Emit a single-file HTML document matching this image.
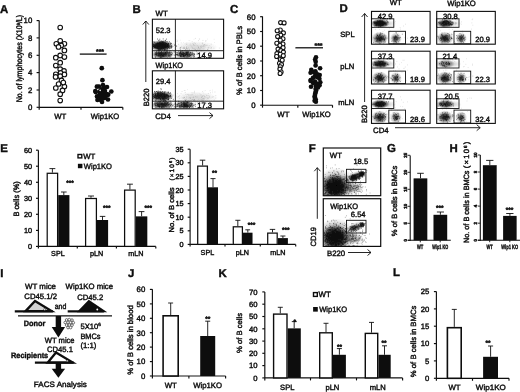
<!DOCTYPE html>
<html><head><meta charset="utf-8"><title>Figure</title>
<style>html,body{margin:0;padding:0;background:#fff}svg{display:block}text{font-family:"Liberation Sans",Arial,sans-serif;fill:#111;stroke:#111;stroke-width:.42px;text-rendering:geometricPrecision}</style></head>
<body><svg width="520" height="392" viewBox="0 0 520 392">
<defs><filter id="soft" x="0" y="0" width="100%" height="100%" filterUnits="userSpaceOnUse"><feGaussianBlur stdDeviation="0.32"/></filter><filter id="bl" x="-5%" y="-5%" width="110%" height="110%"><feGaussianBlur stdDeviation="0.45"/></filter><radialGradient id="h"><stop offset="0" stop-color="#0a0a0a" stop-opacity="1"/><stop offset="0.5" stop-color="#111" stop-opacity="0.92"/><stop offset="0.78" stop-color="#333" stop-opacity="0.45"/><stop offset="1" stop-color="#555" stop-opacity="0"/></radialGradient><radialGradient id="g"><stop offset="0" stop-color="#111" stop-opacity="0.95"/><stop offset="0.45" stop-color="#222" stop-opacity="0.7"/><stop offset="1" stop-color="#444" stop-opacity="0"/></radialGradient></defs>
<rect width="520" height="392" fill="#fff"/>
<g filter="url(#soft)">
<text x="0.1" y="12.5" font-size="11.4" text-anchor="start" font-weight="bold" fill="#000">A</text>
<text x="132.4" y="12.5" font-size="11.4" text-anchor="start" font-weight="bold" fill="#000">B</text>
<text x="230.0" y="12.6" font-size="11.4" text-anchor="start" font-weight="bold" fill="#000">C</text>
<text x="339.6" y="12.2" font-size="11.4" text-anchor="start" font-weight="bold" fill="#000">D</text>
<text x="0.2" y="151.5" font-size="11.4" text-anchor="start" font-weight="bold" fill="#000">E</text>
<text x="308.8" y="151.6" font-size="11.4" text-anchor="start" font-weight="bold" fill="#000">F</text>
<text x="386.9" y="151.7" font-size="11.4" text-anchor="start" font-weight="bold" fill="#000">G</text>
<text x="449.4" y="151.7" font-size="11.4" text-anchor="start" font-weight="bold" fill="#000">H</text>
<text x="0.2" y="276.5" font-size="11.4" text-anchor="start" font-weight="bold" fill="#000">I</text>
<text x="128.1" y="276.9" font-size="11.4" text-anchor="start" font-weight="bold" fill="#000">J</text>
<text x="218.6" y="276.9" font-size="11.4" text-anchor="start" font-weight="bold" fill="#000">K</text>
<text x="393.0" y="276.4" font-size="11.4" text-anchor="start" font-weight="bold" fill="#000">L</text>
<path d="M39.2 20.6L39.2 107.3" stroke="#111" stroke-width="1.15" fill="none"/>
<path d="M36.6 107.3L39.2 107.3" stroke="#111" stroke-width="1.15" fill="none"/>
<text x="32.3" y="110.1" font-size="7.8" text-anchor="end">0</text>
<path d="M36.6 90.0L39.2 90.0" stroke="#111" stroke-width="1.15" fill="none"/>
<text x="32.3" y="92.8" font-size="7.8" text-anchor="end">2</text>
<path d="M36.6 72.6L39.2 72.6" stroke="#111" stroke-width="1.15" fill="none"/>
<text x="32.3" y="75.4" font-size="7.8" text-anchor="end">4</text>
<path d="M36.6 55.3L39.2 55.3" stroke="#111" stroke-width="1.15" fill="none"/>
<text x="32.3" y="58.1" font-size="7.8" text-anchor="end">6</text>
<path d="M36.6 37.9L39.2 37.9" stroke="#111" stroke-width="1.15" fill="none"/>
<text x="32.3" y="40.7" font-size="7.8" text-anchor="end">8</text>
<path d="M36.6 20.6L39.2 20.6" stroke="#111" stroke-width="1.15" fill="none"/>
<text x="32.3" y="23.4" font-size="7.8" text-anchor="end">10</text>
<path d="M39.2 107.3L122.8 107.3" stroke="#111" stroke-width="1.15" fill="none"/>
<path d="M39.2 107.3L39.2 109.8" stroke="#111" stroke-width="1.15" fill="none"/>
<path d="M81.0 107.3L81.0 109.8" stroke="#111" stroke-width="1.15" fill="none"/>
<path d="M122.8 107.3L122.8 109.8" stroke="#111" stroke-width="1.15" fill="none"/>
<text x="22.4" y="58.6" font-size="8.2" text-anchor="middle" transform="rotate(-90 22.4 58.6)" textLength="87.5" lengthAdjust="spacingAndGlyphs">No. of lymphocytes (X10<tspan font-size="4.6" dy="-2.6">9</tspan><tspan dy="2.6">/L)</tspan></text>
<text x="60.2" y="118.5" font-size="7.8" text-anchor="middle">WT</text>
<text x="105.0" y="118.5" font-size="7.8" text-anchor="middle" textLength="28.4" lengthAdjust="spacingAndGlyphs">Wip1KO</text>
<path d="M79.8 54.1L106.6 54.1" stroke="#111" stroke-width="1.3" fill="none"/>
<text x="100.0" y="53.9" font-size="7" text-anchor="middle" font-weight="bold">***</text>
<circle cx="60.2" cy="27.5" r="2.3" fill="#fff" stroke="#111" stroke-width="1.1"/>
<circle cx="60.2" cy="40.8" r="2.3" fill="#fff" stroke="#111" stroke-width="1.1"/>
<circle cx="56.3" cy="43.8" r="2.3" fill="#fff" stroke="#111" stroke-width="1.1"/>
<circle cx="64.4" cy="43.8" r="2.3" fill="#fff" stroke="#111" stroke-width="1.1"/>
<circle cx="61.2" cy="45.4" r="2.3" fill="#fff" stroke="#111" stroke-width="1.1"/>
<circle cx="58.5" cy="46.9" r="2.3" fill="#fff" stroke="#111" stroke-width="1.1"/>
<circle cx="64.4" cy="50.4" r="2.3" fill="#fff" stroke="#111" stroke-width="1.1"/>
<circle cx="60.2" cy="55.4" r="2.3" fill="#fff" stroke="#111" stroke-width="1.1"/>
<circle cx="55.8" cy="57.7" r="2.3" fill="#fff" stroke="#111" stroke-width="1.1"/>
<circle cx="64.4" cy="57.1" r="2.3" fill="#fff" stroke="#111" stroke-width="1.1"/>
<circle cx="60.2" cy="62.7" r="2.3" fill="#fff" stroke="#111" stroke-width="1.1"/>
<circle cx="55.8" cy="65.6" r="2.3" fill="#fff" stroke="#111" stroke-width="1.1"/>
<circle cx="60.2" cy="69.2" r="2.3" fill="#fff" stroke="#111" stroke-width="1.1"/>
<circle cx="64.0" cy="70.9" r="2.3" fill="#fff" stroke="#111" stroke-width="1.1"/>
<circle cx="60.6" cy="72.9" r="2.3" fill="#fff" stroke="#111" stroke-width="1.1"/>
<circle cx="55.8" cy="74.3" r="2.3" fill="#fff" stroke="#111" stroke-width="1.1"/>
<circle cx="64.4" cy="74.4" r="2.3" fill="#fff" stroke="#111" stroke-width="1.1"/>
<circle cx="60.2" cy="76.2" r="2.3" fill="#fff" stroke="#111" stroke-width="1.1"/>
<circle cx="55.6" cy="76.9" r="2.3" fill="#fff" stroke="#111" stroke-width="1.1"/>
<circle cx="61.5" cy="80.4" r="2.3" fill="#fff" stroke="#111" stroke-width="1.1"/>
<circle cx="64.4" cy="86.5" r="2.3" fill="#fff" stroke="#111" stroke-width="1.1"/>
<circle cx="55.8" cy="88" r="2.3" fill="#fff" stroke="#111" stroke-width="1.1"/>
<circle cx="62.5" cy="90.4" r="2.3" fill="#fff" stroke="#111" stroke-width="1.1"/>
<circle cx="60.2" cy="94.2" r="2.3" fill="#fff" stroke="#111" stroke-width="1.1"/>
<circle cx="60.2" cy="100.6" r="2.3" fill="#fff" stroke="#111" stroke-width="1.1"/>
<circle cx="58.6" cy="84.0" r="2.3" fill="#fff" stroke="#111" stroke-width="1.1"/>
<circle cx="63.3" cy="82.6" r="2.3" fill="#fff" stroke="#111" stroke-width="1.1"/>
<circle cx="101.8" cy="68.2" r="2.35" fill="#0a0a0a"/>
<circle cx="102.4" cy="80.2" r="2.35" fill="#0a0a0a"/>
<circle cx="102.1" cy="95.2" r="2.35" fill="#0a0a0a"/>
<circle cx="102.2" cy="92.1" r="2.35" fill="#0a0a0a"/>
<circle cx="99.7" cy="92.5" r="2.35" fill="#0a0a0a"/>
<circle cx="107.0" cy="94.9" r="2.35" fill="#0a0a0a"/>
<circle cx="106.7" cy="94.2" r="2.35" fill="#0a0a0a"/>
<circle cx="104.4" cy="94.0" r="2.35" fill="#0a0a0a"/>
<circle cx="97.0" cy="96.5" r="2.35" fill="#0a0a0a"/>
<circle cx="104.8" cy="95.2" r="2.35" fill="#0a0a0a"/>
<circle cx="96.9" cy="86.7" r="2.35" fill="#0a0a0a"/>
<circle cx="99.8" cy="91.5" r="2.35" fill="#0a0a0a"/>
<circle cx="104.1" cy="93.1" r="2.35" fill="#0a0a0a"/>
<circle cx="104.9" cy="90.9" r="2.35" fill="#0a0a0a"/>
<circle cx="104.1" cy="94.8" r="2.35" fill="#0a0a0a"/>
<circle cx="100.6" cy="99.8" r="2.35" fill="#0a0a0a"/>
<circle cx="105.0" cy="97.8" r="2.35" fill="#0a0a0a"/>
<circle cx="100.8" cy="90.5" r="2.35" fill="#0a0a0a"/>
<circle cx="101.8" cy="92.9" r="2.35" fill="#0a0a0a"/>
<circle cx="105.3" cy="94.2" r="2.35" fill="#0a0a0a"/>
<circle cx="101.4" cy="89.7" r="2.35" fill="#0a0a0a"/>
<circle cx="101.1" cy="97.9" r="2.35" fill="#0a0a0a"/>
<circle cx="100.1" cy="94.2" r="2.35" fill="#0a0a0a"/>
<circle cx="104.5" cy="87.6" r="2.35" fill="#0a0a0a"/>
<circle cx="103.2" cy="98.3" r="2.35" fill="#0a0a0a"/>
<circle cx="95.7" cy="92.1" r="2.35" fill="#0a0a0a"/>
<circle cx="102.6" cy="90.2" r="2.35" fill="#0a0a0a"/>
<circle cx="104.8" cy="93.1" r="2.35" fill="#0a0a0a"/>
<circle cx="97.7" cy="96.4" r="2.35" fill="#0a0a0a"/>
<circle cx="105.4" cy="96.9" r="2.35" fill="#0a0a0a"/>
<circle cx="108.2" cy="94.7" r="2.35" fill="#0a0a0a"/>
<circle cx="103.4" cy="88.4" r="2.35" fill="#0a0a0a"/>
<circle cx="95.3" cy="91.0" r="2.35" fill="#0a0a0a"/>
<circle cx="111.3" cy="91.5" r="2.35" fill="#0a0a0a"/>
<circle cx="97.5" cy="100.0" r="2.35" fill="#0a0a0a"/>
<circle cx="102.0" cy="102.0" r="2.35" fill="#0a0a0a"/>
<circle cx="108.0" cy="99.5" r="2.35" fill="#0a0a0a"/>
<circle cx="99.0" cy="86.5" r="2.35" fill="#0a0a0a"/>
<circle cx="107.0" cy="87.0" r="2.35" fill="#0a0a0a"/>
<circle cx="103.0" cy="85.0" r="2.35" fill="#0a0a0a"/>
<circle cx="100.2" cy="90.3" r="0.9" fill="#ddd"/>
<path d="M262.5 16.4L262.5 105.2" stroke="#111" stroke-width="1.15" fill="none"/>
<path d="M260.1 105.2L262.5 105.2" stroke="#111" stroke-width="1.15" fill="none"/>
<text x="255.5" y="108.0" font-size="7.8" text-anchor="end">0</text>
<path d="M260.1 90.5L262.5 90.5" stroke="#111" stroke-width="1.15" fill="none"/>
<text x="255.5" y="93.3" font-size="7.8" text-anchor="end">10</text>
<path d="M260.1 75.7L262.5 75.7" stroke="#111" stroke-width="1.15" fill="none"/>
<text x="255.5" y="78.5" font-size="7.8" text-anchor="end">20</text>
<path d="M260.1 61.0L262.5 61.0" stroke="#111" stroke-width="1.15" fill="none"/>
<text x="255.5" y="63.8" font-size="7.8" text-anchor="end">30</text>
<path d="M260.1 46.2L262.5 46.2" stroke="#111" stroke-width="1.15" fill="none"/>
<text x="255.5" y="49.0" font-size="7.8" text-anchor="end">40</text>
<path d="M260.1 31.5L262.5 31.5" stroke="#111" stroke-width="1.15" fill="none"/>
<text x="255.5" y="34.3" font-size="7.8" text-anchor="end">50</text>
<path d="M260.1 16.7L262.5 16.7" stroke="#111" stroke-width="1.15" fill="none"/>
<text x="255.5" y="19.5" font-size="7.8" text-anchor="end">60</text>
<path d="M262.5 105.2L332.5 105.2" stroke="#111" stroke-width="1.15" fill="none"/>
<path d="M262.5 105.2L262.5 107.7" stroke="#111" stroke-width="1.15" fill="none"/>
<path d="M297.8 105.2L297.8 107.7" stroke="#111" stroke-width="1.15" fill="none"/>
<path d="M332.5 105.2L332.5 107.7" stroke="#111" stroke-width="1.15" fill="none"/>
<text x="242.3" y="60.5" font-size="7.8" text-anchor="middle" transform="rotate(-90 242.3 60.5)" textLength="69.0" lengthAdjust="spacingAndGlyphs">% of B cells in PBLs</text>
<text x="283.4" y="117.3" font-size="7.8" text-anchor="middle">WT</text>
<text x="316.5" y="117.3" font-size="7.8" text-anchor="middle" textLength="28.3" lengthAdjust="spacingAndGlyphs">Wip1KO</text>
<path d="M295.4 47.8L323.0 47.8" stroke="#111" stroke-width="1.3" fill="none"/>
<text x="318.5" y="47.8" font-size="7" text-anchor="middle" font-weight="bold">***</text>
<circle cx="280.6" cy="22.6" r="2.0" fill="#fff" stroke="#111" stroke-width="1.1"/>
<circle cx="284.1" cy="22.9" r="2.0" fill="#fff" stroke="#111" stroke-width="1.1"/>
<circle cx="280.3" cy="30.0" r="2.0" fill="#fff" stroke="#111" stroke-width="1.1"/>
<circle cx="277.2" cy="30.7" r="2.0" fill="#fff" stroke="#111" stroke-width="1.1"/>
<circle cx="283.4" cy="32.9" r="2.0" fill="#fff" stroke="#111" stroke-width="1.1"/>
<circle cx="280.7" cy="35.1" r="2.0" fill="#fff" stroke="#111" stroke-width="1.1"/>
<circle cx="277.6" cy="36.6" r="2.0" fill="#fff" stroke="#111" stroke-width="1.1"/>
<circle cx="283.0" cy="38.8" r="2.0" fill="#fff" stroke="#111" stroke-width="1.1"/>
<circle cx="280.3" cy="40.3" r="2.0" fill="#fff" stroke="#111" stroke-width="1.1"/>
<circle cx="276.8" cy="43.2" r="2.0" fill="#fff" stroke="#111" stroke-width="1.1"/>
<circle cx="283.0" cy="44.0" r="2.0" fill="#fff" stroke="#111" stroke-width="1.1"/>
<circle cx="279.9" cy="45.5" r="2.0" fill="#fff" stroke="#111" stroke-width="1.1"/>
<circle cx="283.1" cy="47.7" r="2.0" fill="#fff" stroke="#111" stroke-width="1.1"/>
<circle cx="278.0" cy="49.1" r="2.0" fill="#fff" stroke="#111" stroke-width="1.1"/>
<circle cx="280.8" cy="50.6" r="2.0" fill="#fff" stroke="#111" stroke-width="1.1"/>
<circle cx="283.4" cy="52.1" r="2.0" fill="#fff" stroke="#111" stroke-width="1.1"/>
<circle cx="276.9" cy="53.6" r="2.0" fill="#fff" stroke="#111" stroke-width="1.1"/>
<circle cx="280.3" cy="54.3" r="2.0" fill="#fff" stroke="#111" stroke-width="1.1"/>
<circle cx="283.3" cy="55.8" r="2.0" fill="#fff" stroke="#111" stroke-width="1.1"/>
<circle cx="276.6" cy="56.5" r="2.0" fill="#fff" stroke="#111" stroke-width="1.1"/>
<circle cx="280.3" cy="59.5" r="2.0" fill="#fff" stroke="#111" stroke-width="1.1"/>
<circle cx="282.2" cy="60.2" r="2.0" fill="#fff" stroke="#111" stroke-width="1.1"/>
<circle cx="279.5" cy="63.2" r="2.0" fill="#fff" stroke="#111" stroke-width="1.1"/>
<circle cx="281.5" cy="64.6" r="2.0" fill="#fff" stroke="#111" stroke-width="1.1"/>
<circle cx="280.3" cy="66.8" r="2.0" fill="#fff" stroke="#111" stroke-width="1.1"/>
<circle cx="279.9" cy="69.1" r="2.0" fill="#fff" stroke="#111" stroke-width="1.1"/>
<circle cx="281.1" cy="72.0" r="2.0" fill="#fff" stroke="#111" stroke-width="1.1"/>
<circle cx="280.1" cy="73.5" r="2.0" fill="#fff" stroke="#111" stroke-width="1.1"/>
<circle cx="316.0" cy="57.3" r="2.3" fill="#0a0a0a"/>
<circle cx="315.1" cy="59.5" r="2.3" fill="#0a0a0a"/>
<circle cx="315.7" cy="61.7" r="2.3" fill="#0a0a0a"/>
<circle cx="315.6" cy="65.4" r="2.3" fill="#0a0a0a"/>
<circle cx="320.1" cy="68.3" r="2.3" fill="#0a0a0a"/>
<circle cx="311.3" cy="69.8" r="2.3" fill="#0a0a0a"/>
<circle cx="315.4" cy="71.3" r="2.3" fill="#0a0a0a"/>
<circle cx="310.6" cy="72.8" r="2.3" fill="#0a0a0a"/>
<circle cx="315.5" cy="73.5" r="2.3" fill="#0a0a0a"/>
<circle cx="317.4" cy="74.2" r="2.3" fill="#0a0a0a"/>
<circle cx="318.0" cy="75.7" r="2.3" fill="#0a0a0a"/>
<circle cx="314.9" cy="76.4" r="2.3" fill="#0a0a0a"/>
<circle cx="317.5" cy="77.2" r="2.3" fill="#0a0a0a"/>
<circle cx="319.4" cy="78.7" r="2.3" fill="#0a0a0a"/>
<circle cx="310.7" cy="80.1" r="2.3" fill="#0a0a0a"/>
<circle cx="315.0" cy="81.6" r="2.3" fill="#0a0a0a"/>
<circle cx="313.1" cy="83.1" r="2.3" fill="#0a0a0a"/>
<circle cx="317.2" cy="83.8" r="2.3" fill="#0a0a0a"/>
<circle cx="317.5" cy="84.5" r="2.3" fill="#0a0a0a"/>
<circle cx="315.8" cy="86.0" r="2.3" fill="#0a0a0a"/>
<circle cx="318.0" cy="87.5" r="2.3" fill="#0a0a0a"/>
<circle cx="315.6" cy="89.0" r="2.3" fill="#0a0a0a"/>
<circle cx="316.2" cy="90.5" r="2.3" fill="#0a0a0a"/>
<circle cx="315.7" cy="91.9" r="2.3" fill="#0a0a0a"/>
<circle cx="315.2" cy="93.4" r="2.3" fill="#0a0a0a"/>
<circle cx="315.0" cy="94.9" r="2.3" fill="#0a0a0a"/>
<circle cx="314.7" cy="96.3" r="2.3" fill="#0a0a0a"/>
<circle cx="314.8" cy="97.8" r="2.3" fill="#0a0a0a"/>
<circle cx="315.7" cy="99.3" r="2.3" fill="#0a0a0a"/>
<circle cx="314.6" cy="100.8" r="2.3" fill="#0a0a0a"/>
<circle cx="315.9" cy="101.8" r="2.3" fill="#0a0a0a"/>
<circle cx="313.0" cy="77.9" r="2.3" fill="#0a0a0a"/>
<circle cx="310.6" cy="80.9" r="2.3" fill="#0a0a0a"/>
<circle cx="319.7" cy="75.0" r="2.3" fill="#0a0a0a"/>
<circle cx="319.6" cy="85.3" r="2.3" fill="#0a0a0a"/>
<circle cx="313.4" cy="72.0" r="2.3" fill="#0a0a0a"/>
<circle cx="320.3" cy="82.3" r="2.3" fill="#0a0a0a"/>
<circle cx="311.0" cy="86.8" r="2.3" fill="#0a0a0a"/>
<clipPath id="c1"><rect x="152.4" y="19.2" width="71.2" height="39.1"/></clipPath><g clip-path="url(#c1)"><g filter="url(#bl)">
<ellipse cx="161.3" cy="45.7" rx="12.5" ry="5.8" fill="url(#h)" opacity="1.0"/>
<ellipse cx="162.5" cy="54.5" rx="12.0" ry="4.2" fill="url(#h)" opacity="0.72"/>
<ellipse cx="185.0" cy="54.5" rx="11.0" ry="4.2" fill="url(#h)" opacity="0.66"/>
<ellipse cx="196.0" cy="47.2" rx="22.0" ry="6.0" fill="url(#g)" opacity="0.16"/>
<path d="M169.0 41.8h.7M158.7 43.1h.7M157.5 46.8h.7M156.6 45.7h.7M166.0 51.2h.7M159.1 45.9h.7M159.5 44.9h.7M156.0 44.4h.7M167.2 44.6h.7M164.0 46.1h.7M156.6 47.6h.7M167.2 44.7h.7M159.0 45.7h.7M157.3 45.7h.7M165.9 48.2h.7M160.9 43.1h.7M159.2 43.1h.7M164.3 50.5h.7M156.7 48.0h.7M167.8 43.7h.7M159.2 48.4h.7M168.7 47.7h.7M159.2 46.7h.7M155.9 44.9h.7M157.1 43.3h.7M163.1 42.1h.7M162.3 47.0h.7M154.5 47.7h.7M162.9 47.8h.7M159.5 39.2h.7M162.5 43.2h.7M163.4 48.2h.7M156.5 48.7h.7M160.5 43.6h.7M163.1 45.4h.7M165.4 46.9h.7M158.4 47.6h.7M167.5 45.2h.7M171.3 45.6h.7M157.5 48.0h.7M162.4 44.6h.7M155.7 47.6h.7M164.2 49.7h.7M155.2 46.7h.7M170.7 48.1h.7M160.3 43.2h.7M161.1 44.6h.7M169.1 51.1h.7M167.3 46.0h.7M154.6 46.2h.7M156.5 43.7h.7M164.4 47.7h.7M169.4 46.0h.7M160.9 44.5h.7M161.2 44.3h.7M164.2 45.4h.7M162.0 45.1h.7M162.5 47.9h.7M161.6 43.6h.7M168.2 46.8h.7M166.6 43.6h.7M163.4 43.2h.7M165.6 41.7h.7M163.0 46.4h.7M162.2 42.7h.7M161.6 44.3h.7M165.2 47.8h.7M162.4 46.0h.7M158.9 43.1h.7M153.3 45.9h.7M162.4 45.0h.7M161.7 46.1h.7M165.3 46.8h.7M170.8 46.3h.7M165.0 46.2h.7M167.4 45.0h.7M162.4 47.1h.7M157.7 45.4h.7M170.6 43.4h.7M163.6 44.6h.7M156.7 46.2h.7M158.1 46.6h.7M158.9 43.5h.7M162.1 47.2h.7M166.9 48.0h.7M167.3 44.4h.7M158.9 46.7h.7M164.6 47.3h.7M161.2 44.6h.7M163.3 44.7h.7M159.6 44.2h.7M157.2 39.0h.7M157.2 46.7h.7M159.9 46.2h.7M158.4 46.9h.7M154.3 46.3h.7M157.0 47.2h.7M157.9 50.6h.7M169.0 48.6h.7M162.5 49.8h.7M164.4 46.3h.7M163.6 44.8h.7M161.5 41.6h.7M165.2 42.9h.7M165.6 44.8h.7M155.8 44.9h.7M157.1 45.6h.7M159.7 49.2h.7M165.2 49.6h.7M161.1 45.9h.7M164.2 46.4h.7M158.7 44.6h.7M161.0 46.6h.7M176.0 46.0h.7M160.2 45.1h.7M158.5 40.7h.7M164.7 45.2h.7M165.7 49.9h.7M157.3 43.6h.7M162.6 47.7h.7M159.5 44.0h.7M166.1 39.1h.7M162.1 45.6h.7M157.8 45.4h.7M154.8 46.5h.7M157.3 43.0h.7M165.1 45.2h.7M161.9 47.0h.7M164.2 49.6h.7M160.9 44.4h.7M174.2 45.1h.7M161.6 45.2h.7M154.5 42.4h.7M159.8 45.8h.7M158.9 43.7h.7M155.5 43.6h.7M164.0 45.9h.7M161.2 45.7h.7M158.5 46.9h.7M165.2 45.3h.7M170.5 46.4h.7M161.8 46.8h.7M160.2 46.3h.7M160.0 48.5h.7M161.3 49.1h.7M168.3 47.6h.7M165.0 47.7h.7M158.1 46.6h.7M159.9 44.9h.7M169.9 44.4h.7M166.7 49.2h.7M162.5 42.7h.7M161.9 42.2h.7M157.4 45.6h.7M159.3 44.7h.7M164.5 42.5h.7M156.3 45.3h.7M159.5 43.1h.7M167.7 43.6h.7M153.5 43.9h.7M168.2 45.8h.7M163.4 42.3h.7M167.6 44.7h.7M162.4 45.8h.7M153.6 41.5h.7M157.6 47.1h.7M162.1 45.6h.7M157.8 45.2h.7M160.8 47.8h.7M170.9 47.6h.7M162.8 44.9h.7M153.7 44.9h.7M152.9 46.1h.7M163.1 44.2h.7M161.3 44.0h.7M158.2 43.6h.7M162.2 44.8h.7M164.4 44.6h.7M167.4 46.4h.7M163.2 48.2h.7M157.9 48.2h.7M158.9 42.8h.7M164.7 47.3h.7M163.8 46.4h.7M154.0 45.7h.7M160.1 47.8h.7M162.8 38.9h.7M157.4 44.9h.7M165.7 46.7h.7M160.7 46.3h.7M165.7 45.4h.7M170.4 43.1h.7M163.0 45.9h.7M161.1 43.9h.7M157.2 47.7h.7M158.7 44.2h.7M164.5 46.8h.7M159.1 46.3h.7M167.8 44.5h.7M155.1 47.4h.7M157.3 46.5h.7M164.2 46.8h.7M159.3 47.2h.7M161.4 45.8h.7M161.0 43.9h.7M165.4 46.3h.7M162.5 44.9h.7M168.1 43.9h.7M163.5 44.1h.7M167.6 46.5h.7M159.5 44.6h.7M166.0 45.1h.7M158.0 48.8h.7M162.3 43.3h.7M168.9 46.1h.7M153.6 48.0h.7M158.3 45.0h.7M170.6 47.9h.7M155.8 47.0h.7M167.2 48.7h.7M158.5 45.1h.7M158.0 46.4h.7M160.9 48.9h.7M158.5 43.7h.7M161.6 47.9h.7M160.1 44.6h.7M160.1 44.8h.7M156.4 44.8h.7M157.3 48.6h.7M156.0 46.7h.7M161.3 46.8h.7M157.4 44.9h.7M155.5 48.3h.7M161.5 45.9h.7M164.3 44.0h.7M161.1 44.1h.7M160.2 49.0h.7M155.2 45.5h.7M156.7 48.0h.7M153.2 44.8h.7M162.4 44.7h.7M164.8 44.3h.7M158.2 43.7h.7M158.0 49.1h.7M163.6 45.3h.7M154.2 47.1h.7M165.2 40.3h.7M159.4 45.6h.7M170.8 43.5h.7M156.1 45.1h.7M153.6 46.7h.7M161.6 46.7h.7M163.4 45.3h.7M164.5 42.6h.7M166.8 41.8h.7M168.1 47.4h.7M163.6 45.5h.7M160.0 45.3h.7M158.6 40.2h.7M157.2 43.7h.7M154.0 46.9h.7M164.4 46.5h.7M164.0 45.0h.7M160.6 49.2h.7M166.9 45.5h.7M164.9 45.5h.7M157.6 49.2h.7M161.5 48.1h.7M160.1 45.4h.7M155.5 47.1h.7M164.0 46.0h.7M166.2 43.5h.7M164.1 46.2h.7M157.3 46.4h.7M154.1 45.6h.7M160.3 43.5h.7M160.8 45.6h.7M158.9 49.4h.7M166.1 46.5h.7M163.6 48.9h.7M163.0 47.7h.7M160.3 49.9h.7M166.2 47.4h.7M153.7 42.6h.7M167.0 46.5h.7M162.6 45.2h.7M167.3 45.9h.7M155.0 47.2h.7M163.2 47.6h.7M160.3 43.7h.7M162.6 46.1h.7M162.7 46.7h.7M158.0 43.4h.7M157.3 45.9h.7M159.8 41.5h.7M166.2 45.3h.7M162.6 46.0h.7M165.4 46.6h.7M165.6 43.7h.7M161.4 43.4h.7M161.7 43.7h.7M161.9 44.7h.7M160.4 44.2h.7M156.4 44.9h.7M157.9 48.6h.7M154.8 46.0h.7M161.3 48.4h.7M157.5 46.6h.7M153.1 46.3h.7M164.0 46.0h.7M167.0 46.6h.7M158.5 46.9h.7M162.5 45.3h.7M161.0 42.3h.7M164.6 44.7h.7M160.1 42.7h.7M165.0 40.7h.7M169.1 47.1h.7M166.9 47.6h.7M153.4 46.3h.7M163.7 41.0h.7M162.2 44.5h.7M160.6 45.5h.7M164.7 44.8h.7M160.3 44.4h.7M162.0 49.7h.7M153.4 46.4h.7M156.7 44.1h.7M159.1 46.3h.7M155.6 47.2h.7M155.5 45.8h.7M163.8 47.4h.7M162.6 46.0h.7M159.0 44.5h.7M164.0 45.3h.7M164.6 47.2h.7M163.8 44.5h.7M153.5 44.6h.7M161.7 41.9h.7M160.2 47.1h.7M160.8 47.1h.7M160.9 47.8h.7M162.5 46.9h.7M159.2 50.0h.7M161.8 46.2h.7M161.2 47.1h.7M154.6 45.0h.7M165.3 46.9h.7M161.6 45.5h.7M163.7 44.5h.7M157.0 46.1h.7M163.6 44.4h.7M167.1 46.4h.7M162.6 44.3h.7M166.1 46.6h.7M163.9 48.1h.7M162.3 42.4h.7M167.7 45.6h.7M160.1 43.6h.7M165.3 45.9h.7M179.9 47.9h.7M168.5 46.3h.7M168.4 43.5h.7M163.2 43.5h.7M156.8 47.6h.7M162.2 45.7h.7M155.9 45.6h.7M154.3 47.5h.7M159.8 44.5h.7M154.7 44.9h.7M158.3 46.5h.7M168.0 45.3h.7M159.9 45.8h.7M160.9 41.1h.7M160.4 45.7h.7M162.1 41.7h.7M158.4 43.9h.7M158.7 46.0h.7M162.7 46.1h.7M157.3 44.6h.7M161.6 44.4h.7M163.6 45.9h.7M162.8 43.5h.7M161.0 44.2h.7M159.6 46.5h.7M162.0 46.2h.7M155.5 47.8h.7M163.4 41.8h.7M158.4 49.3h.7M171.0 46.8h.7M158.7 48.1h.7M159.9 44.8h.7M159.6 42.4h.7M166.3 43.6h.7M165.2 43.2h.7M158.9 44.6h.7M155.3 46.0h.7M171.7 46.8h.7M163.6 47.1h.7" stroke="#111" stroke-width="0.8" opacity="0.9" fill="none"/>
<path d="M163.3 53.3h.7M169.2 52.1h.7M158.5 52.1h.7M159.8 55.8h.7M163.3 51.9h.7M160.6 55.5h.7M158.3 55.3h.7M158.9 54.3h.7M176.6 54.4h.7M156.7 54.7h.7M155.2 52.2h.7M166.7 51.6h.7M160.5 54.7h.7M159.0 55.6h.7M163.9 52.4h.7M161.2 53.9h.7M169.7 57.1h.7M158.9 56.8h.7M169.3 55.7h.7M167.7 52.8h.7M162.2 53.9h.7M168.3 55.3h.7M161.1 53.5h.7M169.1 56.9h.7M159.8 57.3h.7M164.1 51.8h.7M161.4 53.1h.7M165.4 52.3h.7M161.9 55.8h.7M153.8 51.9h.7M158.3 54.7h.7M167.6 53.9h.7M156.2 53.0h.7M162.4 55.9h.7M163.6 55.9h.7M159.4 53.3h.7M159.7 55.8h.7M163.0 53.0h.7M162.2 53.8h.7M170.2 50.9h.7M156.2 54.9h.7M158.0 50.9h.7M161.9 56.4h.7M167.1 52.1h.7M158.6 55.5h.7M160.1 55.0h.7M161.0 54.9h.7M162.9 56.6h.7M166.0 53.9h.7M157.7 54.2h.7M171.9 53.6h.7M171.6 52.7h.7M161.1 51.5h.7M162.7 55.7h.7M158.3 53.0h.7M161.0 54.7h.7M155.1 54.5h.7M163.6 54.5h.7M158.1 53.7h.7M155.9 54.0h.7M158.4 55.0h.7M165.2 55.5h.7M163.4 53.4h.7M171.0 54.6h.7M160.6 52.5h.7M164.6 54.7h.7M160.0 53.1h.7M166.9 50.2h.7M170.7 55.4h.7M167.2 52.9h.7M156.0 53.2h.7M156.2 54.1h.7M162.1 54.3h.7M163.0 54.4h.7M163.2 55.2h.7M164.0 53.9h.7M156.4 52.7h.7M163.7 56.0h.7M154.9 54.0h.7M158.9 52.9h.7M157.5 53.0h.7M168.5 55.2h.7M170.0 54.2h.7M155.8 54.6h.7M158.2 55.6h.7M163.7 53.9h.7M160.3 53.4h.7M165.9 54.3h.7M160.4 53.6h.7M170.8 51.9h.7M165.7 53.8h.7M168.7 55.1h.7M158.7 52.0h.7M173.6 52.0h.7M163.7 53.9h.7M159.0 54.3h.7M169.9 52.5h.7M162.9 55.3h.7M164.8 53.7h.7M156.8 55.8h.7M154.9 56.6h.7M174.5 52.0h.7M165.4 52.5h.7M155.9 54.7h.7M163.2 54.3h.7M165.5 54.0h.7M168.6 52.3h.7M156.8 55.7h.7M159.2 53.9h.7M164.4 54.5h.7M159.9 53.6h.7M169.7 53.9h.7M164.7 54.5h.7M161.1 53.9h.7M163.4 54.5h.7M167.3 52.0h.7M154.8 53.8h.7M168.1 52.3h.7M160.8 52.7h.7M162.1 55.4h.7M173.9 55.2h.7M169.1 52.8h.7M169.1 55.8h.7M158.2 52.9h.7M168.0 56.5h.7M159.5 53.2h.7M160.0 55.4h.7M155.2 57.5h.7M170.1 55.2h.7M169.2 52.7h.7M157.4 53.1h.7M160.1 57.0h.7M162.3 53.9h.7M159.7 54.2h.7M160.5 54.4h.7M154.8 53.2h.7M165.1 52.3h.7M160.8 56.1h.7M157.9 54.1h.7M162.0 53.7h.7M160.7 54.9h.7M158.8 51.3h.7M168.6 53.8h.7M167.8 53.8h.7M159.4 53.8h.7M166.7 50.6h.7M162.3 55.3h.7M169.9 53.2h.7M159.8 54.0h.7M161.0 55.0h.7M171.5 52.7h.7M161.8 52.5h.7M159.1 53.0h.7M160.3 56.0h.7M159.1 54.0h.7M169.0 54.0h.7M164.4 54.0h.7M155.7 52.9h.7M161.0 54.0h.7M156.7 53.3h.7M165.7 52.9h.7M157.8 53.8h.7M154.6 54.9h.7M161.8 55.5h.7M158.4 56.4h.7M160.0 52.4h.7M161.1 57.1h.7M165.2 52.2h.7M159.7 49.8h.7M160.9 52.0h.7M159.9 55.3h.7M165.7 53.9h.7M177.6 52.8h.7M165.7 56.4h.7M163.0 55.2h.7M164.5 55.5h.7M160.8 55.6h.7M170.5 56.7h.7M160.0 57.8h.7M161.2 54.4h.7M165.3 52.9h.7M161.7 54.6h.7M161.6 57.1h.7M165.7 54.3h.7M166.7 52.2h.7M155.8 53.0h.7M166.2 52.2h.7M156.1 51.4h.7M157.8 52.6h.7M162.4 55.4h.7M165.8 55.6h.7M161.5 56.9h.7M164.9 53.5h.7M155.6 55.9h.7M167.4 57.1h.7M161.0 54.3h.7M165.8 52.7h.7M156.6 51.4h.7M165.5 53.4h.7M171.4 54.5h.7M164.0 53.9h.7M162.0 55.5h.7M159.4 50.2h.7M163.4 55.8h.7M165.2 52.8h.7M163.6 56.2h.7M170.8 54.6h.7M158.9 55.4h.7M161.7 52.4h.7M165.2 54.2h.7M161.1 52.0h.7M159.5 53.3h.7M160.7 54.7h.7" stroke="#111" stroke-width="0.8" opacity="0.75" fill="none"/>
<path d="M194.1 56.1h.7M180.2 52.6h.7M183.1 54.0h.7M183.5 56.0h.7M196.8 53.1h.7M196.7 54.2h.7M182.3 54.6h.7M186.6 54.1h.7M185.9 53.3h.7M180.4 52.3h.7M186.0 53.5h.7M180.6 51.6h.7M186.3 52.7h.7M192.8 54.3h.7M180.3 52.0h.7M177.1 55.0h.7M185.9 57.0h.7M180.0 49.9h.7M182.7 52.6h.7M187.8 51.5h.7M180.8 56.3h.7M182.7 56.2h.7M183.6 53.9h.7M187.1 53.8h.7M183.5 56.0h.7M190.1 55.5h.7M180.8 54.1h.7M179.2 53.2h.7M185.4 55.0h.7M183.3 56.6h.7M177.0 52.8h.7M187.0 56.1h.7M185.7 53.3h.7M180.3 55.6h.7M179.6 52.8h.7M187.0 54.3h.7M189.7 53.2h.7M182.5 53.3h.7M181.8 54.4h.7M192.7 55.9h.7M183.9 53.7h.7M188.5 55.6h.7M187.4 52.7h.7M180.0 53.7h.7M190.9 52.9h.7M185.1 55.4h.7M178.9 52.8h.7M187.2 55.7h.7M183.2 52.5h.7M183.5 56.2h.7M183.7 53.4h.7M180.8 56.3h.7M186.4 54.5h.7M183.6 48.1h.7M185.7 53.7h.7M177.3 54.7h.7M187.0 55.3h.7M182.9 54.8h.7M190.6 55.8h.7M180.7 56.9h.7M175.4 53.1h.7M184.1 55.9h.7M185.0 55.0h.7M184.0 55.9h.7M180.9 54.5h.7M194.3 54.1h.7M183.3 55.3h.7M182.7 54.4h.7M187.6 56.9h.7M193.6 57.7h.7M198.2 57.4h.7M180.3 55.7h.7M180.0 55.6h.7M183.2 54.9h.7M193.2 55.3h.7M177.3 54.9h.7M190.0 55.1h.7M180.7 54.0h.7M189.1 56.4h.7M181.5 51.2h.7M186.1 54.6h.7M180.7 52.6h.7M188.1 56.6h.7M188.3 53.1h.7M193.6 56.7h.7M194.3 54.7h.7M187.5 55.5h.7M182.7 51.1h.7M185.5 54.8h.7M190.9 54.7h.7M176.0 52.6h.7M179.4 54.4h.7M188.6 51.8h.7M178.8 55.6h.7M183.6 54.8h.7M182.4 52.3h.7M191.7 54.3h.7M189.4 56.8h.7M183.2 54.2h.7M175.4 55.0h.7M181.6 53.1h.7M191.8 54.5h.7M194.1 54.1h.7M185.5 55.2h.7M181.4 54.6h.7M180.4 53.6h.7M184.6 50.6h.7M179.9 56.5h.7M184.1 53.5h.7M185.2 53.0h.7M179.9 53.7h.7M180.3 51.3h.7M186.3 54.1h.7M186.6 54.5h.7M190.2 52.7h.7M181.6 53.3h.7M182.6 56.5h.7M193.4 53.6h.7M181.9 53.5h.7M192.0 53.5h.7M182.3 54.6h.7M187.2 54.2h.7M187.6 54.1h.7M186.7 52.6h.7M185.9 52.6h.7M183.9 57.2h.7M183.1 55.6h.7M180.2 52.7h.7M187.0 52.2h.7M190.0 52.4h.7M187.6 54.5h.7M188.0 52.4h.7M188.4 54.2h.7M181.6 55.5h.7M185.5 53.2h.7M178.3 55.2h.7M183.4 55.6h.7M190.7 57.6h.7M185.7 51.4h.7M184.4 55.3h.7M196.2 51.0h.7M186.7 52.4h.7M185.9 52.4h.7M179.4 53.9h.7M180.5 54.6h.7M186.7 51.8h.7M188.9 54.2h.7M189.3 55.0h.7M182.3 50.7h.7M184.5 54.3h.7M180.7 55.8h.7M180.8 54.0h.7M189.3 55.1h.7M181.5 54.2h.7M187.0 53.1h.7M181.9 54.4h.7M185.5 55.1h.7M186.3 53.1h.7M181.2 53.6h.7M186.7 51.1h.7M175.8 54.5h.7M181.4 55.8h.7M188.5 55.1h.7M188.7 54.7h.7M183.4 53.9h.7M187.6 57.7h.7M179.4 53.5h.7M184.6 55.2h.7M179.2 55.1h.7M183.1 53.8h.7M187.3 53.1h.7M189.5 54.3h.7M186.2 54.5h.7M180.1 56.3h.7M176.1 54.7h.7M192.2 52.3h.7M178.4 51.4h.7M184.5 53.7h.7M183.6 55.5h.7M193.8 56.4h.7M182.1 54.4h.7M187.6 53.1h.7M185.7 57.1h.7M186.5 54.2h.7" stroke="#111" stroke-width="0.8" opacity="0.75" fill="none"/>
<path d="M191.5 46.9h.7M201.4 46.0h.7M176.0 46.7h.7M194.9 43.4h.7M201.7 48.9h.7M201.3 47.3h.7M193.8 42.8h.7M179.1 48.9h.7M183.6 47.8h.7M185.8 49.2h.7M185.4 49.6h.7M202.6 40.4h.7M203.6 44.9h.7M210.8 44.1h.7M205.5 52.4h.7M207.5 49.4h.7M181.2 51.1h.7M198.9 39.0h.7M203.7 45.7h.7M198.3 47.4h.7M203.6 46.7h.7M194.6 48.8h.7M187.4 49.4h.7M193.4 45.1h.7M172.0 49.3h.7M188.2 47.9h.7M186.8 48.4h.7M208.1 47.9h.7M188.3 52.9h.7M193.6 48.8h.7M181.9 48.2h.7M201.5 50.5h.7M180.8 42.9h.7M206.6 45.3h.7M196.8 45.8h.7M194.9 38.4h.7M186.2 48.3h.7M194.6 49.6h.7M185.2 49.4h.7M204.9 52.5h.7M200.1 47.0h.7M186.4 44.5h.7M180.9 47.0h.7M175.8 49.2h.7M202.5 46.3h.7M192.0 47.9h.7M186.6 48.6h.7M202.9 53.0h.7M186.1 46.9h.7M200.7 51.2h.7M205.0 41.1h.7M191.8 41.7h.7M196.7 48.8h.7M186.5 43.1h.7M197.4 49.8h.7M210.9 47.5h.7M173.1 46.4h.7M205.5 45.2h.7M188.8 49.4h.7M177.0 41.1h.7M203.5 49.0h.7M194.5 45.4h.7M189.8 45.0h.7M164.4 43.5h.7M210.7 48.4h.7M174.6 44.2h.7M178.2 53.2h.7M198.2 47.0h.7M188.9 49.1h.7M205.7 40.8h.7M198.0 40.7h.7M173.1 43.9h.7M192.6 48.7h.7M192.6 43.6h.7M213.6 48.2h.7M199.5 49.0h.7M207.0 49.6h.7M198.7 49.7h.7M168.2 44.4h.7M218.9 48.1h.7M193.4 44.6h.7M202.2 43.2h.7M186.1 47.7h.7M184.4 48.3h.7M199.7 48.4h.7M192.2 50.9h.7M178.0 44.3h.7M198.3 48.3h.7M204.3 44.5h.7M195.1 49.5h.7" stroke="#111" stroke-width="0.8" opacity="0.22" fill="none"/>
<path d="M202.1 44.2h.6M191.5 50.1h.6M176.7 46.3h.6M203.1 45.9h.6M199.5 39.1h.6M213.8 39.3h.6M190.2 43.5h.6M208.7 47.3h.6M208.9 45.5h.6M214.4 42.5h.6M191.6 45.4h.6M188.7 40.5h.6M202.5 42.9h.6M209.9 46.7h.6M176.5 40.0h.6M183.3 42.6h.6M183.8 46.7h.6M184.8 43.7h.6M191.5 50.7h.6M193.7 39.3h.6M214.2 50.4h.6M177.6 49.1h.6M200.2 49.7h.6M200.3 46.2h.6M207.4 39.1h.6M179.9 40.2h.6M176.5 41.5h.6M177.5 40.1h.6M189.6 40.7h.6M178.4 50.2h.6" stroke="#333" stroke-width="0.7" opacity="0.15" fill="none"/>
</g></g>
<rect x="152.4" y="19.2" width="71.2" height="39.1" fill="none" stroke="#111" stroke-width="1.1"/>
<path d="M175.4 19.2L175.4 58.3" stroke="#111" stroke-width="0.9" fill="none"/>
<path d="M152.4 50.7L223.6 50.7" stroke="#111" stroke-width="0.9" fill="none"/>
<text x="155.6" y="16.4" font-size="7.8" text-anchor="start">WT</text>
<text x="155.8" y="32.6" font-size="7.6" text-anchor="start">52.3</text>
<text x="197.3" y="57.9" font-size="7.6" text-anchor="start">14.9</text>
<clipPath id="c2"><rect x="152.4" y="70.8" width="71.2" height="38.0"/></clipPath><g clip-path="url(#c2)"><g filter="url(#bl)">
<ellipse cx="161.3" cy="96.2" rx="12.5" ry="5.8" fill="url(#h)" opacity="0.85"/>
<ellipse cx="162.5" cy="105.0" rx="12.0" ry="4.2" fill="url(#h)" opacity="0.72"/>
<ellipse cx="185.0" cy="105.0" rx="11.0" ry="4.2" fill="url(#h)" opacity="0.66"/>
<ellipse cx="196.0" cy="97.7" rx="22.0" ry="6.0" fill="url(#g)" opacity="0.16"/>
<path d="M169.9 93.8h.7M166.5 97.4h.7M165.7 95.1h.7M166.4 94.6h.7M160.1 99.4h.7M161.0 94.3h.7M154.4 96.9h.7M162.0 98.0h.7M157.0 95.4h.7M164.2 94.9h.7M165.3 96.4h.7M163.4 98.4h.7M165.7 95.6h.7M163.6 95.4h.7M165.1 95.4h.7M159.5 97.5h.7M163.5 95.0h.7M162.1 96.2h.7M155.2 95.1h.7M157.3 98.5h.7M156.5 98.8h.7M156.5 91.6h.7M155.3 97.6h.7M163.2 97.1h.7M158.4 94.9h.7M162.3 95.2h.7M167.6 92.3h.7M164.8 96.0h.7M156.8 93.8h.7M159.8 93.9h.7M165.0 97.3h.7M159.0 95.7h.7M166.5 99.3h.7M160.0 98.9h.7M168.1 98.6h.7M159.9 94.4h.7M158.6 97.6h.7M155.1 95.5h.7M160.9 95.8h.7M160.8 89.6h.7M158.4 97.2h.7M153.1 95.1h.7M157.1 96.8h.7M162.2 99.9h.7M155.4 100.8h.7M158.5 95.0h.7M155.6 101.0h.7M170.1 92.7h.7M164.7 96.3h.7M164.3 94.9h.7M157.3 95.6h.7M157.6 94.5h.7M164.6 93.0h.7M156.5 97.0h.7M167.9 96.8h.7M160.6 96.1h.7M164.2 96.6h.7M156.6 97.3h.7M154.9 92.1h.7M162.9 97.1h.7M157.1 97.0h.7M162.3 91.5h.7M155.2 94.3h.7M161.2 95.1h.7M158.3 97.5h.7M164.7 96.8h.7M164.2 98.7h.7M160.0 97.8h.7M166.2 95.0h.7M167.6 95.5h.7M163.7 100.3h.7M159.8 96.4h.7M159.2 95.6h.7M155.3 94.7h.7M160.0 92.8h.7M161.5 96.0h.7M159.8 93.4h.7M165.2 94.9h.7M161.9 96.2h.7M164.0 96.2h.7M161.9 93.3h.7M167.9 92.8h.7M158.6 95.9h.7M163.2 98.7h.7M164.6 98.0h.7M160.1 96.0h.7M171.1 98.3h.7M156.0 96.1h.7M153.7 97.6h.7M157.1 93.4h.7M158.9 95.4h.7M161.5 97.7h.7M167.5 96.6h.7M168.3 92.1h.7M164.0 96.5h.7M160.5 95.7h.7M162.1 98.1h.7M161.3 95.4h.7M164.4 96.5h.7M161.7 97.2h.7M158.8 95.3h.7M170.4 96.2h.7M156.6 96.6h.7M161.1 100.4h.7M162.9 95.9h.7M158.2 93.2h.7M157.1 94.9h.7M155.4 98.0h.7M170.4 96.6h.7M163.6 96.7h.7M160.8 96.2h.7M164.6 94.6h.7M158.5 97.4h.7M164.1 94.6h.7M154.4 91.6h.7M156.9 95.3h.7M157.1 96.4h.7M157.8 96.7h.7M169.4 96.6h.7M161.3 97.1h.7M163.1 98.5h.7M162.6 93.4h.7M153.2 96.8h.7M161.5 98.0h.7M162.2 98.1h.7M157.0 94.0h.7M159.7 98.3h.7M163.8 100.0h.7M156.2 91.5h.7M167.4 96.0h.7M156.6 95.5h.7M158.8 95.9h.7M161.2 92.8h.7M168.7 98.2h.7M160.5 92.4h.7M168.4 96.6h.7M161.7 96.3h.7M159.5 92.9h.7M161.7 94.5h.7M164.9 100.1h.7M170.5 97.9h.7M163.8 92.7h.7M163.8 99.1h.7M164.4 96.9h.7M163.1 94.1h.7M155.7 99.2h.7M154.9 96.7h.7M154.9 93.0h.7M163.8 95.5h.7M155.7 98.8h.7M157.6 91.8h.7M168.3 96.5h.7M153.1 98.7h.7M164.3 97.0h.7M160.4 98.9h.7M162.5 99.1h.7M156.0 97.6h.7M154.2 97.5h.7M165.4 98.9h.7M155.1 95.0h.7M166.7 95.0h.7M162.0 98.4h.7M158.3 93.6h.7M163.3 95.6h.7M161.8 92.9h.7M168.8 93.5h.7M155.1 94.3h.7M168.1 95.5h.7M165.1 96.4h.7M161.9 94.1h.7M165.3 94.9h.7M160.6 88.6h.7M158.8 95.0h.7M157.0 95.7h.7M165.9 95.3h.7M158.3 98.1h.7M157.9 92.3h.7M157.3 94.2h.7M159.8 94.7h.7M157.1 92.4h.7M162.1 93.6h.7M165.4 100.8h.7M163.9 93.6h.7M162.5 97.1h.7M161.9 94.5h.7M160.4 101.4h.7M163.3 97.7h.7M166.7 97.6h.7M165.8 98.4h.7M155.9 96.2h.7M161.1 95.8h.7M160.3 95.0h.7M156.7 93.5h.7M166.0 98.4h.7M158.3 95.2h.7M159.6 95.2h.7M160.0 94.9h.7M169.9 95.5h.7M158.6 96.8h.7M160.9 95.7h.7M159.8 96.1h.7M164.3 94.9h.7M164.2 97.2h.7M163.9 95.7h.7M155.6 96.9h.7M159.8 98.6h.7M166.2 96.7h.7M166.5 95.7h.7M161.1 94.1h.7M161.0 94.4h.7M154.1 91.8h.7M153.2 96.3h.7M159.3 97.8h.7M164.4 96.9h.7M155.6 93.8h.7M159.1 93.1h.7M167.9 97.6h.7M165.8 96.3h.7M163.9 97.6h.7M166.7 95.4h.7M166.7 94.1h.7M167.1 98.0h.7M158.8 98.7h.7M156.4 98.1h.7M159.1 97.2h.7M168.0 99.6h.7M163.0 94.6h.7M163.2 96.4h.7M164.6 91.5h.7M165.9 96.0h.7M164.3 96.5h.7M154.6 97.6h.7M167.4 95.9h.7M159.4 95.2h.7M161.6 97.1h.7M158.2 94.4h.7M170.1 95.5h.7M158.0 96.2h.7M160.4 96.4h.7M154.5 93.5h.7M158.6 95.9h.7M162.6 96.3h.7M158.8 91.7h.7M161.8 96.1h.7M164.0 95.6h.7M160.5 94.0h.7M169.5 96.1h.7M158.5 93.6h.7M155.6 96.5h.7M156.4 95.8h.7M154.9 95.4h.7M163.8 97.8h.7M159.7 95.5h.7M163.9 92.9h.7M157.9 98.7h.7M156.8 95.1h.7M156.6 98.3h.7M167.2 99.2h.7M154.8 95.4h.7M163.1 94.8h.7M160.7 92.8h.7M164.9 98.2h.7M159.0 97.2h.7M157.9 96.6h.7M162.9 101.5h.7M163.4 99.3h.7M162.8 99.9h.7M159.5 94.9h.7M157.7 93.1h.7M161.9 98.3h.7M154.3 95.2h.7M160.3 91.4h.7M153.0 94.3h.7M157.7 92.6h.7M164.8 97.9h.7M167.3 95.1h.7M166.6 95.4h.7M154.4 96.8h.7M163.1 98.2h.7M164.9 97.1h.7M157.8 94.5h.7M162.5 96.2h.7M157.8 91.0h.7M158.9 96.3h.7M167.8 99.5h.7M172.9 99.3h.7" stroke="#111" stroke-width="0.8" opacity="0.9" fill="none"/>
<path d="M162.7 105.6h.7M161.4 103.2h.7M155.6 107.2h.7M164.7 102.2h.7M165.8 104.9h.7M162.4 106.8h.7M157.4 104.6h.7M159.2 106.1h.7M158.8 106.8h.7M172.7 105.6h.7M162.2 106.4h.7M161.6 104.5h.7M167.4 104.7h.7M163.5 102.9h.7M165.5 105.4h.7M168.8 108.0h.7M167.2 103.0h.7M165.4 102.9h.7M162.3 103.5h.7M160.9 104.9h.7M167.8 104.7h.7M160.7 104.8h.7M163.0 104.2h.7M156.8 103.1h.7M154.2 102.9h.7M169.5 104.3h.7M158.6 105.2h.7M167.8 104.3h.7M158.1 106.4h.7M161.0 105.6h.7M159.6 104.0h.7M165.4 102.3h.7M159.2 106.5h.7M166.0 104.2h.7M159.1 106.5h.7M162.6 106.1h.7M166.9 103.2h.7M156.5 102.8h.7M165.1 106.1h.7M176.2 106.8h.7M157.9 106.5h.7M159.6 104.3h.7M158.5 101.2h.7M163.8 104.4h.7M163.7 106.5h.7M159.9 104.5h.7M164.3 101.9h.7M162.7 107.8h.7M163.2 105.3h.7M166.4 104.4h.7M155.6 107.3h.7M162.3 108.3h.7M161.0 103.3h.7M159.9 102.4h.7M168.5 102.8h.7M168.1 99.5h.7M164.0 105.7h.7M167.7 103.2h.7M157.8 105.8h.7M163.6 100.9h.7M159.6 104.3h.7M161.3 103.5h.7M155.4 103.7h.7M163.9 104.7h.7M158.3 104.1h.7M158.6 106.3h.7M169.5 104.3h.7M160.0 101.0h.7M164.3 103.5h.7M166.8 108.0h.7M153.9 104.0h.7M159.4 103.9h.7M163.6 104.9h.7M160.8 106.8h.7M165.0 105.5h.7M164.5 105.1h.7M163.9 105.0h.7M164.7 102.8h.7M161.9 104.6h.7M161.1 107.2h.7M166.4 104.9h.7M166.3 105.1h.7M162.8 104.5h.7M155.2 105.0h.7M163.0 103.8h.7M167.8 102.5h.7M167.9 106.0h.7M164.4 99.8h.7M162.8 104.5h.7M159.0 107.1h.7M160.0 106.4h.7M159.6 101.7h.7M162.5 105.1h.7M163.5 106.8h.7M164.5 103.5h.7M159.0 106.0h.7M157.7 101.7h.7M158.8 104.2h.7M155.3 102.7h.7M160.7 104.9h.7M157.6 102.8h.7M154.5 104.0h.7M157.6 104.2h.7M158.1 104.5h.7M161.9 107.0h.7M169.4 106.6h.7M164.8 104.7h.7M158.5 103.6h.7M173.7 104.3h.7M160.2 104.2h.7M158.7 104.5h.7M162.7 103.5h.7M155.6 103.1h.7M170.3 102.8h.7M167.4 102.5h.7M157.4 104.5h.7M160.6 103.0h.7M164.2 103.9h.7M171.2 102.9h.7M159.4 105.6h.7M162.3 104.4h.7M161.5 104.5h.7M165.9 101.3h.7M159.9 103.4h.7M162.7 106.4h.7M166.0 103.9h.7M156.5 102.0h.7M163.0 104.9h.7M161.1 103.6h.7M159.3 106.0h.7M158.4 105.4h.7M166.3 103.4h.7M170.8 104.4h.7M163.5 100.6h.7M164.8 105.9h.7M162.4 104.9h.7M164.6 103.9h.7M159.1 106.9h.7M165.3 104.5h.7M170.3 105.8h.7M166.8 102.6h.7M170.3 105.6h.7M157.0 105.5h.7M169.5 107.9h.7M158.4 102.0h.7M168.4 107.9h.7M164.8 105.9h.7M157.3 104.8h.7M162.0 102.9h.7M157.9 105.9h.7M157.4 102.8h.7M158.4 105.7h.7M167.2 103.4h.7M164.1 107.1h.7M164.7 104.9h.7M156.6 103.5h.7M159.4 102.2h.7M172.1 105.9h.7M164.2 105.1h.7M174.8 103.6h.7M161.6 104.8h.7M163.0 106.9h.7M157.8 103.2h.7M168.1 104.7h.7M168.7 101.2h.7M173.7 106.9h.7M170.1 101.2h.7M162.3 105.5h.7M161.7 104.5h.7M162.5 105.3h.7M165.0 100.7h.7M161.5 106.3h.7M167.3 105.3h.7M161.1 106.3h.7M161.9 103.5h.7M156.5 105.8h.7M159.9 105.5h.7M162.7 101.3h.7M165.5 101.4h.7M159.6 103.9h.7M159.2 102.2h.7M171.3 104.6h.7M160.9 104.2h.7M161.1 104.5h.7M160.9 103.1h.7M154.9 103.9h.7M155.1 105.7h.7M155.7 105.4h.7M154.9 105.2h.7M157.5 105.1h.7M157.3 104.3h.7M166.0 102.1h.7M165.2 103.6h.7M174.6 106.6h.7M161.2 107.3h.7M162.9 104.2h.7M164.2 102.4h.7M169.6 103.5h.7M161.3 108.1h.7M164.9 103.6h.7M156.5 103.6h.7M163.8 104.8h.7M162.2 103.2h.7M162.9 105.8h.7M157.0 106.7h.7M166.2 106.8h.7M166.5 102.9h.7M165.7 104.0h.7" stroke="#111" stroke-width="0.8" opacity="0.75" fill="none"/>
<path d="M179.1 107.5h.7M180.7 105.7h.7M183.7 103.3h.7M180.5 106.8h.7M181.1 104.7h.7M183.1 103.7h.7M183.7 106.7h.7M190.0 106.5h.7M184.7 103.9h.7M184.5 104.9h.7M188.6 106.3h.7M181.6 102.9h.7M176.8 104.5h.7M184.9 107.1h.7M188.6 104.9h.7M181.7 104.1h.7M175.1 103.8h.7M184.9 106.2h.7M179.8 105.7h.7M183.0 104.9h.7M193.0 108.0h.7M183.0 107.8h.7M191.4 103.6h.7M184.0 105.2h.7M185.2 100.4h.7M179.3 105.9h.7M184.9 106.2h.7M186.4 104.2h.7M175.7 101.7h.7M188.6 103.1h.7M187.9 105.3h.7M186.2 104.4h.7M180.7 105.5h.7M175.7 106.9h.7M179.9 102.5h.7M189.6 106.3h.7M191.6 103.9h.7M171.2 107.1h.7M185.8 105.5h.7M183.0 105.4h.7M185.0 104.7h.7M185.3 106.0h.7M174.9 103.9h.7M183.9 106.4h.7M181.1 106.1h.7M192.5 106.7h.7M184.3 104.8h.7M176.1 105.0h.7M186.1 106.7h.7M186.4 103.9h.7M180.3 107.8h.7M177.7 104.0h.7M186.4 104.1h.7M183.8 105.2h.7M182.2 103.8h.7M187.2 106.8h.7M183.1 104.8h.7M179.9 106.6h.7M183.6 106.5h.7M190.2 103.2h.7M183.8 106.1h.7M181.4 106.1h.7M181.2 104.5h.7M187.1 105.8h.7M178.8 101.7h.7M181.0 102.7h.7M191.7 107.9h.7M182.2 106.5h.7M183.2 102.5h.7M184.9 104.7h.7M195.3 106.6h.7M185.5 104.5h.7M185.9 106.7h.7M186.0 106.0h.7M191.2 104.5h.7M178.8 106.4h.7M185.9 106.0h.7M188.9 107.9h.7M186.8 105.6h.7M191.2 102.8h.7M184.2 104.9h.7M183.7 102.2h.7M186.7 105.9h.7M183.6 102.1h.7M186.8 102.9h.7M189.3 107.4h.7M183.8 102.9h.7M182.0 105.1h.7M186.2 105.2h.7M186.4 108.1h.7M183.6 103.1h.7M176.8 106.5h.7M187.2 104.5h.7M187.7 106.5h.7M185.5 101.4h.7M187.1 102.4h.7M184.2 103.5h.7M184.7 107.0h.7M183.3 103.8h.7M189.0 104.7h.7M187.1 106.1h.7M181.0 102.7h.7M185.8 105.8h.7M186.7 106.3h.7M183.9 105.2h.7M181.0 106.9h.7M186.7 107.3h.7M183.2 104.8h.7M184.1 104.9h.7M186.9 101.4h.7M187.6 104.3h.7M184.3 106.3h.7M178.3 103.5h.7M186.6 106.7h.7M185.9 102.0h.7M190.0 103.6h.7M183.1 107.0h.7M185.2 105.0h.7M185.9 105.8h.7M184.1 105.9h.7M181.9 106.5h.7M182.9 106.3h.7M191.7 106.9h.7M187.7 102.4h.7M177.7 105.7h.7M187.1 105.6h.7M184.0 105.2h.7M190.9 105.5h.7M178.9 106.3h.7M177.4 106.5h.7M191.6 106.2h.7M184.6 103.3h.7M184.0 104.3h.7M191.6 105.0h.7M187.0 103.7h.7M184.8 105.7h.7M185.2 105.9h.7M184.3 107.0h.7M183.4 106.0h.7M183.8 104.7h.7M183.8 107.0h.7M195.0 104.6h.7M184.2 102.8h.7M185.1 105.7h.7M186.2 105.2h.7M186.9 102.3h.7M186.8 107.6h.7M187.4 105.4h.7M193.8 99.8h.7M179.3 106.0h.7M189.6 106.3h.7M189.9 106.6h.7M185.7 106.1h.7M185.9 102.9h.7M188.6 102.0h.7M188.7 105.6h.7M187.6 105.6h.7M185.4 103.9h.7M184.4 105.6h.7M185.4 102.6h.7M186.6 106.3h.7M192.3 103.7h.7M192.9 105.5h.7M188.3 106.5h.7M189.1 107.5h.7M185.4 103.8h.7M191.2 103.7h.7M184.6 104.3h.7M194.5 105.0h.7M190.5 105.4h.7M184.2 105.5h.7M183.7 104.5h.7M186.0 104.5h.7M181.9 106.2h.7M177.9 101.2h.7M177.8 103.4h.7M177.1 105.0h.7M181.4 104.9h.7M183.6 103.5h.7M189.9 105.5h.7M186.7 102.4h.7M187.3 106.3h.7M178.1 101.8h.7M177.4 104.7h.7M179.4 103.5h.7M183.8 104.4h.7M186.7 101.9h.7" stroke="#111" stroke-width="0.8" opacity="0.75" fill="none"/>
<path d="M194.1 91.3h.7M194.9 102.1h.7M173.1 95.1h.7M171.2 94.2h.7M196.7 97.0h.7M188.3 94.9h.7M180.7 93.6h.7M188.1 100.4h.7M201.5 96.9h.7M184.8 92.5h.7M181.7 91.6h.7M185.6 99.0h.7M189.3 102.0h.7M215.5 95.6h.7M182.8 98.2h.7M192.1 99.5h.7M189.6 97.3h.7M184.3 100.0h.7M203.7 98.3h.7M201.1 97.6h.7M202.7 95.5h.7M186.1 97.1h.7M197.2 102.2h.7M177.4 102.6h.7M186.4 99.6h.7M197.9 99.3h.7M181.9 102.6h.7M214.6 92.0h.7M190.5 100.4h.7M207.9 93.6h.7M177.0 93.7h.7M204.7 97.0h.7M215.5 98.1h.7M200.6 99.2h.7M179.2 95.8h.7M192.6 92.8h.7M211.8 97.2h.7M194.3 92.8h.7M206.2 101.8h.7M193.8 101.1h.7M184.2 97.4h.7M193.1 100.4h.7M188.1 102.6h.7M183.9 90.5h.7M195.4 96.6h.7M186.8 94.5h.7M193.2 97.1h.7M210.3 92.8h.7M201.8 99.9h.7M189.1 101.4h.7M202.7 101.4h.7M168.1 99.8h.7M192.7 97.7h.7M202.1 96.7h.7M203.4 104.5h.7M155.7 97.1h.7M200.8 101.6h.7M209.4 97.2h.7M195.0 103.4h.7M207.7 98.4h.7M190.1 98.5h.7M208.9 96.2h.7M164.2 98.1h.7M178.8 103.2h.7M184.6 103.3h.7M190.5 97.7h.7M171.2 96.3h.7M200.1 103.4h.7M202.7 98.8h.7M177.5 97.1h.7M206.2 95.3h.7M212.8 96.7h.7M183.2 101.6h.7M190.8 104.6h.7M178.9 98.4h.7M204.1 96.2h.7M189.7 94.9h.7M185.7 103.0h.7M188.7 98.0h.7M207.7 95.6h.7M182.7 97.7h.7M206.5 103.6h.7M202.6 98.4h.7M178.2 96.6h.7M200.6 94.9h.7M203.7 99.2h.7M191.7 94.5h.7M202.0 91.7h.7M202.7 100.2h.7M207.5 98.0h.7" stroke="#111" stroke-width="0.8" opacity="0.22" fill="none"/>
<path d="M203.2 92.9h.6M199.5 93.5h.6M214.2 99.8h.6M210.1 90.4h.6M199.5 99.1h.6M208.5 97.7h.6M212.3 91.2h.6M182.9 97.9h.6M205.0 90.6h.6M191.7 99.3h.6M206.8 99.3h.6M191.6 95.2h.6M189.1 99.6h.6M203.8 90.9h.6M204.7 94.2h.6M212.2 92.7h.6M184.3 97.4h.6M212.1 90.0h.6M176.1 96.1h.6M185.2 94.4h.6M184.3 97.9h.6M206.6 97.4h.6M209.3 90.8h.6M184.7 99.4h.6M185.3 90.7h.6M187.0 89.6h.6M213.8 100.4h.6M190.9 92.6h.6M201.3 99.7h.6M191.0 100.0h.6" stroke="#333" stroke-width="0.7" opacity="0.15" fill="none"/>
</g></g>
<rect x="152.4" y="70.8" width="71.2" height="38.0" fill="none" stroke="#111" stroke-width="1.1"/>
<path d="M175.4 70.8L175.4 108.8" stroke="#111" stroke-width="0.9" fill="none"/>
<path d="M152.4 101.2L223.6 101.2" stroke="#111" stroke-width="0.9" fill="none"/>
<text x="155.6" y="68.0" font-size="7.8" text-anchor="start" textLength="27.5" lengthAdjust="spacingAndGlyphs">Wip1KO</text>
<text x="155.8" y="84.2" font-size="7.6" text-anchor="start">29.4</text>
<text x="197.3" y="108.4" font-size="7.6" text-anchor="start">17.3</text>
<path d="M145.8 21.0L145.8 82.0" stroke="#111" stroke-width="0.9" fill="none"/>
<path d="M142.8 24.5L145.8 21.0L148.8 24.5" stroke="#111" stroke-width="0.9" fill="none"/>
<text x="149.2" y="106.2" font-size="7.6" text-anchor="start" transform="rotate(-90 149.2 106.2)">B220</text>
<text x="155.2" y="119.2" font-size="7.8" text-anchor="start">CD4</text>
<path d="M178.0 115.6L213.0 115.6" stroke="#111" stroke-width="0.9" fill="none"/>
<path d="M209.5 112.6L213.0 115.6L209.5 118.6" stroke="#111" stroke-width="0.9" fill="none"/>
<clipPath id="c3"><rect x="371.5" y="11.4" width="58.6" height="32.8"/></clipPath><g clip-path="url(#c3)"><g filter="url(#bl)">
<ellipse cx="380.1" cy="23.4" rx="9.5" ry="4.6" fill="url(#h)" opacity="1.0"/>
<ellipse cx="384.5" cy="23.6" rx="12.0" ry="4.0" fill="url(#g)" opacity="0.25"/>
<ellipse cx="379.7" cy="38.4" rx="8.5" ry="6.8" fill="url(#g)" opacity="0.8"/>
<ellipse cx="379.5" cy="38.6" rx="5.0" ry="4.4" fill="url(#g)" opacity="0.6"/>
<ellipse cx="395.9" cy="38.5" rx="6.0" ry="6.2" fill="url(#g)" opacity="0.6"/>
<ellipse cx="395.7" cy="38.6" rx="3.0" ry="3.6" fill="url(#g)" opacity="0.6"/>
<path d="M378.7 21.1h.7M377.0 22.4h.7M374.6 21.6h.7M378.9 24.7h.7M373.9 22.2h.7M380.6 23.6h.7M378.4 23.4h.7M382.2 23.2h.7M374.8 24.1h.7M376.4 24.0h.7M384.2 23.2h.7M379.3 23.2h.7M376.5 23.1h.7M377.3 23.6h.7M387.6 22.0h.7M377.7 23.3h.7M374.4 22.5h.7M378.3 27.2h.7M375.5 22.4h.7M380.3 24.3h.7M380.9 22.4h.7M374.4 25.9h.7M379.8 24.0h.7M382.4 24.4h.7M383.1 23.0h.7M376.7 20.9h.7M382.9 23.9h.7M375.4 23.0h.7M379.9 25.5h.7M377.0 22.8h.7M386.5 22.9h.7M378.5 22.8h.7M378.8 23.0h.7M382.7 25.5h.7M386.1 24.8h.7M385.5 23.7h.7M381.3 21.2h.7M380.3 22.5h.7M380.2 20.8h.7M378.4 25.8h.7M385.2 23.8h.7M379.6 23.3h.7M378.0 24.6h.7M382.3 21.7h.7M379.9 21.7h.7M375.8 22.8h.7M377.4 23.0h.7M379.1 24.0h.7M379.7 21.3h.7M379.3 23.6h.7M378.7 21.1h.7M376.5 25.8h.7M375.6 25.6h.7M378.7 23.5h.7M378.5 24.5h.7M387.0 21.1h.7M382.3 22.1h.7M380.0 24.8h.7M377.2 25.1h.7M381.9 23.1h.7M379.0 26.0h.7M374.5 23.2h.7M379.7 22.6h.7M382.7 22.5h.7M381.0 24.0h.7M379.5 21.7h.7M385.8 23.9h.7M381.3 23.4h.7M380.4 22.5h.7M373.6 22.1h.7M381.8 22.5h.7M376.7 22.9h.7M380.8 20.4h.7M382.2 23.5h.7M376.0 25.7h.7M385.4 25.1h.7M383.2 22.9h.7M373.5 22.1h.7M377.2 20.6h.7M380.3 21.6h.7M378.8 20.7h.7M382.3 25.2h.7M386.3 20.2h.7M379.3 21.9h.7M383.2 22.1h.7M382.8 24.6h.7M376.3 24.9h.7M382.1 20.7h.7M384.1 23.5h.7M379.9 22.5h.7M379.7 21.4h.7M380.3 26.5h.7M380.0 23.5h.7M376.8 23.7h.7M387.6 22.2h.7M380.2 23.0h.7M376.1 22.8h.7M379.2 23.7h.7M376.4 23.8h.7M385.2 22.8h.7M381.1 23.0h.7M382.4 24.8h.7M377.9 22.6h.7M375.2 25.4h.7M380.7 23.6h.7M379.2 23.0h.7M375.9 22.7h.7M381.0 21.8h.7M378.7 21.5h.7M377.3 22.4h.7M378.0 21.9h.7M380.5 24.3h.7M373.9 23.3h.7M381.3 25.6h.7M379.6 21.4h.7M384.4 23.2h.7M383.3 24.3h.7M379.4 22.9h.7M380.5 26.3h.7" stroke="#111" stroke-width="0.8" opacity="0.9" fill="none"/>
<path d="M381.0 38.1h.7M379.3 40.2h.7M378.7 40.8h.7M377.3 37.3h.7M380.1 39.1h.7M384.1 39.2h.7M379.9 36.7h.7M373.2 42.6h.7M383.2 36.9h.7M380.9 42.0h.7M379.7 37.3h.7M380.7 38.4h.7M379.1 34.9h.7M384.1 42.0h.7M380.0 37.5h.7M377.9 36.9h.7M379.6 39.5h.7M381.1 33.9h.7M382.6 38.7h.7M380.6 39.4h.7M383.8 37.1h.7M375.6 38.8h.7M379.8 34.4h.7M377.2 41.9h.7M383.4 38.5h.7M377.7 40.7h.7M376.3 41.6h.7M384.9 38.3h.7M379.9 40.4h.7M381.3 38.9h.7M385.4 39.2h.7M377.3 39.2h.7M381.1 38.7h.7M377.7 38.7h.7M383.9 39.4h.7M379.9 43.4h.7M383.0 37.1h.7M380.4 35.0h.7M378.4 37.0h.7M379.9 33.5h.7M379.0 35.9h.7M385.1 42.0h.7M376.5 36.2h.7M383.4 43.1h.7M379.1 40.5h.7M375.5 43.2h.7M384.7 40.8h.7M377.1 35.8h.7M377.0 35.1h.7M380.4 38.9h.7M382.4 39.2h.7M384.0 40.0h.7M378.6 38.1h.7M383.1 39.6h.7M379.0 35.0h.7M373.6 37.9h.7M382.6 37.0h.7M381.6 37.2h.7M376.0 40.4h.7M384.0 35.1h.7M377.1 38.7h.7M380.5 40.4h.7M380.0 37.2h.7M380.4 40.3h.7M377.5 41.0h.7M380.4 37.5h.7M384.1 40.4h.7M378.3 36.6h.7M379.6 39.0h.7M374.0 38.8h.7M381.8 38.9h.7M383.1 39.9h.7M382.0 39.0h.7M378.9 43.5h.7M382.3 37.4h.7M377.9 37.9h.7M376.4 41.0h.7M378.5 39.3h.7M376.5 34.3h.7M381.2 37.5h.7M380.2 32.9h.7M384.0 38.9h.7M383.6 35.7h.7M381.0 36.9h.7M381.5 37.1h.7M381.1 38.3h.7M377.6 39.8h.7M379.0 40.8h.7M378.3 38.3h.7M376.4 37.3h.7M376.8 39.7h.7M385.5 35.9h.7M378.8 38.6h.7M380.6 39.9h.7M377.6 38.8h.7M379.2 38.9h.7M376.3 38.1h.7M380.6 41.3h.7M386.6 38.2h.7M378.9 38.8h.7M378.8 38.6h.7M376.1 37.9h.7M379.1 39.2h.7M376.4 38.6h.7M384.7 36.9h.7M383.4 41.3h.7M378.8 37.5h.7M378.7 42.2h.7M384.0 39.7h.7M377.4 38.5h.7M375.5 38.1h.7M382.1 33.7h.7M376.9 35.5h.7M383.9 38.9h.7M380.3 34.9h.7M381.5 39.9h.7M374.9 41.4h.7M379.3 38.9h.7M382.4 35.6h.7M377.0 35.4h.7M383.0 38.5h.7M379.2 35.8h.7M381.1 36.7h.7M385.4 37.6h.7M378.8 40.1h.7M380.0 39.1h.7M381.5 38.5h.7M377.5 40.3h.7M382.4 39.1h.7" stroke="#111" stroke-width="0.8" opacity="0.65" fill="none"/>
<path d="M397.8 35.6h.7M395.2 37.1h.7M396.9 37.6h.7M394.1 38.8h.7M396.1 36.7h.7M399.1 37.9h.7M397.0 38.7h.7M393.1 40.2h.7M392.7 36.9h.7M396.1 42.6h.7M397.9 41.8h.7M394.0 36.9h.7M393.9 37.8h.7M395.6 41.3h.7M395.5 40.7h.7M401.9 34.2h.7M397.0 39.9h.7M395.8 37.1h.7M395.1 38.9h.7M397.3 34.9h.7M395.7 41.3h.7M396.0 39.7h.7M395.6 32.7h.7M395.6 37.5h.7M392.4 40.1h.7M400.0 37.5h.7M398.8 40.0h.7M396.3 39.5h.7M397.5 39.4h.7M394.9 41.5h.7M395.1 35.7h.7M393.6 39.3h.7M392.8 37.8h.7M394.1 40.4h.7M393.8 37.6h.7M394.5 37.5h.7M392.9 41.4h.7M398.6 37.6h.7M391.5 41.3h.7M395.6 42.5h.7M395.6 37.7h.7M395.2 37.1h.7M393.7 42.8h.7M394.1 39.1h.7M396.1 33.0h.7M397.5 36.9h.7M393.4 43.7h.7M396.7 38.3h.7M398.3 38.0h.7M394.9 39.1h.7M395.8 36.3h.7M395.3 36.4h.7M393.9 38.5h.7M398.7 38.4h.7M396.5 37.7h.7M391.7 38.2h.7M393.6 36.3h.7M393.6 38.9h.7M394.6 40.8h.7M393.9 41.5h.7" stroke="#111" stroke-width="0.8" opacity="0.65" fill="none"/>
<path d="M383.5 38.3h.6M396.8 34.9h.6M399.8 27.6h.6M376.6 33.6h.6M382.7 31.6h.6M379.6 23.8h.6M393.2 37.2h.6M385.4 39.3h.6M395.2 21.6h.6M374.8 29.1h.6M395.8 37.2h.6M374.1 40.5h.6M393.3 28.0h.6M392.1 18.1h.6M400.4 39.0h.6M375.5 23.8h.6M378.6 21.9h.6M404.0 37.7h.6M380.8 18.0h.6M375.4 19.7h.6M379.4 29.5h.6M375.1 26.4h.6M382.7 36.7h.6M403.1 26.0h.6M405.0 24.2h.6M381.8 19.0h.6M374.3 42.5h.6M377.1 39.8h.6M384.0 30.3h.6M377.4 33.0h.6M407.1 38.2h.6M398.8 39.0h.6M387.3 25.0h.6M373.1 25.4h.6M375.0 29.6h.6M374.8 21.3h.6M400.3 29.1h.6M388.9 38.4h.6M394.3 38.7h.6M389.0 28.6h.6M373.0 41.5h.6M380.1 39.1h.6M388.5 36.8h.6M390.0 30.9h.6M384.1 18.9h.6" stroke="#333" stroke-width="0.7" opacity="0.25" fill="none"/>
</g></g>
<rect x="371.5" y="11.4" width="58.6" height="32.8" fill="none" stroke="#111" stroke-width="1.1"/>
<rect x="371.5" y="18.8" width="22.3" height="8.5" fill="none" stroke="#111" stroke-width="0.9"/>
<rect x="388.8" y="31.3" width="16.7" height="12.5" fill="none" stroke="#111" stroke-width="0.9"/>
<text x="377.7" y="19.2" font-size="7.6" text-anchor="start">42.9</text>
<text x="410.1" y="42.0" font-size="7.6" text-anchor="start">23.9</text>
<clipPath id="c4"><rect x="436.7" y="11.4" width="58.6" height="32.8"/></clipPath><g clip-path="url(#c4)"><g filter="url(#bl)">
<ellipse cx="445.3" cy="23.4" rx="9.5" ry="4.6" fill="url(#h)" opacity="0.8400000000000001"/>
<ellipse cx="449.7" cy="23.6" rx="12.0" ry="4.0" fill="url(#g)" opacity="0.25"/>
<ellipse cx="444.9" cy="38.4" rx="8.5" ry="6.8" fill="url(#g)" opacity="0.8"/>
<ellipse cx="444.7" cy="38.6" rx="5.0" ry="4.4" fill="url(#g)" opacity="0.6"/>
<ellipse cx="461.1" cy="38.5" rx="6.0" ry="6.2" fill="url(#g)" opacity="0.6"/>
<ellipse cx="460.9" cy="38.6" rx="3.0" ry="3.6" fill="url(#g)" opacity="0.6"/>
<path d="M445.3 23.8h.7M443.0 23.4h.7M444.5 21.9h.7M445.9 24.3h.7M455.6 23.1h.7M446.6 23.0h.7M448.5 24.0h.7M442.6 25.3h.7M443.1 21.5h.7M446.3 22.1h.7M442.5 23.3h.7M445.6 22.2h.7M444.4 24.6h.7M445.4 24.3h.7M443.6 22.7h.7M448.0 23.7h.7M446.3 21.3h.7M448.5 21.9h.7M442.5 23.6h.7M449.4 24.4h.7M442.8 22.4h.7M450.5 24.5h.7M441.7 23.3h.7M449.7 20.8h.7M440.8 24.5h.7M439.8 22.9h.7M444.8 22.2h.7M450.4 24.2h.7M451.4 25.1h.7M449.4 25.5h.7M449.0 22.8h.7M449.7 24.3h.7M449.8 23.9h.7M448.0 21.8h.7M443.1 24.9h.7M448.2 25.2h.7M444.1 21.2h.7M452.1 24.1h.7M443.3 21.9h.7M444.3 22.3h.7M447.0 21.7h.7M443.2 24.0h.7M440.8 25.1h.7M444.4 22.2h.7M447.9 22.5h.7M443.9 23.3h.7M452.3 22.3h.7M444.6 22.1h.7M445.5 24.3h.7M447.2 21.3h.7M443.5 24.0h.7M446.4 21.2h.7M448.4 22.6h.7M447.8 22.2h.7M445.4 23.1h.7M439.3 23.2h.7M442.3 19.8h.7M443.1 22.6h.7M444.4 20.8h.7M443.3 21.6h.7M445.2 23.5h.7M445.5 24.7h.7M445.8 22.4h.7M446.1 23.5h.7M447.5 23.4h.7M442.5 26.1h.7M447.8 23.1h.7M442.8 22.5h.7M443.6 26.7h.7M450.0 23.6h.7M445.4 21.1h.7M438.8 22.2h.7M447.1 21.6h.7M451.6 24.4h.7M446.1 24.2h.7M443.9 25.0h.7M443.6 24.8h.7M444.4 24.4h.7M444.1 21.4h.7M451.6 24.5h.7M446.5 24.5h.7M446.2 20.7h.7M451.4 22.7h.7M438.4 22.6h.7M446.9 20.9h.7M452.9 23.0h.7M441.7 23.7h.7M445.2 20.8h.7M444.8 22.1h.7M446.7 23.7h.7M450.4 21.5h.7M448.2 23.7h.7M442.4 22.4h.7M451.2 24.3h.7M443.4 22.5h.7M442.1 23.6h.7" stroke="#111" stroke-width="0.8" opacity="0.9" fill="none"/>
<path d="M440.9 34.6h.7M442.6 37.3h.7M441.7 41.9h.7M444.7 36.1h.7M448.4 36.7h.7M451.3 38.2h.7M447.9 39.3h.7M452.4 38.7h.7M445.2 39.8h.7M438.3 36.9h.7M441.7 34.4h.7M442.7 35.8h.7M441.1 39.0h.7M446.5 38.4h.7M446.8 38.2h.7M444.0 40.9h.7M444.9 37.2h.7M446.0 35.2h.7M447.6 39.0h.7M449.5 36.9h.7M447.2 41.0h.7M447.7 39.4h.7M439.9 38.5h.7M451.0 38.6h.7M442.6 36.9h.7M448.1 33.9h.7M445.2 38.6h.7M441.3 34.4h.7M447.9 40.2h.7M445.9 38.5h.7M438.4 38.1h.7M447.7 35.3h.7M444.4 36.7h.7M443.2 38.6h.7M445.3 39.5h.7M444.2 38.5h.7M447.9 40.9h.7M443.2 37.2h.7M445.8 41.4h.7M449.8 39.6h.7M447.0 33.5h.7M447.6 41.7h.7M442.8 37.8h.7M445.9 36.7h.7M447.7 42.4h.7M449.6 37.7h.7M447.5 39.9h.7M443.2 37.4h.7M446.5 36.2h.7M441.4 38.1h.7M451.0 38.3h.7M449.2 34.6h.7M442.0 37.4h.7M444.1 39.5h.7M445.7 41.1h.7M440.9 40.3h.7M447.1 38.2h.7M446.8 36.7h.7M442.5 39.0h.7M442.7 36.4h.7M447.4 40.6h.7M446.7 39.6h.7M439.9 40.4h.7M445.4 35.2h.7M442.5 38.6h.7M441.5 37.9h.7M441.4 38.1h.7M445.2 40.4h.7M444.1 38.8h.7M448.8 40.5h.7M442.5 41.3h.7M447.2 35.5h.7M439.3 39.2h.7M444.1 38.1h.7M445.6 35.7h.7M440.2 38.0h.7M441.7 33.1h.7M443.6 37.3h.7M442.0 35.1h.7M449.5 38.3h.7M441.7 35.8h.7M442.8 39.5h.7M443.0 37.5h.7M445.5 37.0h.7M440.8 37.2h.7M444.5 39.5h.7M451.6 34.7h.7M440.9 35.5h.7M442.7 38.9h.7M444.3 38.2h.7M439.8 37.0h.7M441.7 43.1h.7M446.6 39.4h.7M441.9 36.4h.7M445.2 37.9h.7M445.2 37.4h.7M446.5 35.2h.7M451.2 38.6h.7M444.1 40.9h.7M447.6 37.4h.7M446.7 39.0h.7M444.8 37.0h.7M444.1 39.8h.7M443.5 38.7h.7M451.3 37.3h.7M446.2 39.0h.7M437.2 36.3h.7M445.1 37.0h.7M445.3 37.7h.7M440.0 38.3h.7M441.2 39.8h.7M444.4 36.9h.7M446.7 39.6h.7M446.4 38.9h.7M447.5 38.7h.7M444.3 36.9h.7M443.5 38.5h.7M445.8 40.3h.7M446.8 37.7h.7M449.2 41.4h.7M443.5 40.3h.7M441.6 39.1h.7M449.3 38.8h.7M446.4 37.4h.7M449.1 35.7h.7M441.8 35.9h.7M441.0 39.3h.7M449.2 36.0h.7" stroke="#111" stroke-width="0.8" opacity="0.65" fill="none"/>
<path d="M457.0 37.1h.7M463.1 38.7h.7M463.8 38.9h.7M459.7 36.2h.7M461.4 39.0h.7M461.5 35.9h.7M457.9 38.5h.7M462.6 41.1h.7M456.5 38.4h.7M459.6 33.5h.7M462.1 36.7h.7M460.6 37.1h.7M458.8 40.7h.7M459.9 40.6h.7M456.1 35.5h.7M463.2 42.4h.7M461.7 41.6h.7M460.9 38.3h.7M459.4 37.5h.7M459.4 36.3h.7M461.6 36.6h.7M458.8 37.2h.7M464.8 37.2h.7M463.3 38.3h.7M461.3 37.9h.7M460.3 38.8h.7M459.6 39.4h.7M457.9 38.3h.7M463.7 38.5h.7M462.3 40.0h.7M462.9 36.3h.7M457.2 40.2h.7M461.3 37.6h.7M459.2 39.1h.7M464.7 39.4h.7M460.8 39.2h.7M460.8 42.3h.7M461.7 41.0h.7M458.6 38.4h.7M461.4 35.1h.7M460.0 37.0h.7M459.9 36.9h.7M459.7 35.3h.7M461.6 38.3h.7M462.9 35.0h.7M460.2 41.3h.7M463.2 35.8h.7M462.7 37.7h.7M463.3 35.0h.7M460.9 41.1h.7M460.6 38.6h.7M464.1 40.4h.7M462.0 37.4h.7M457.7 35.8h.7M462.5 39.3h.7M462.5 35.9h.7M463.8 37.6h.7M461.1 35.3h.7M461.8 37.0h.7" stroke="#111" stroke-width="0.8" opacity="0.65" fill="none"/>
<path d="M443.4 40.8h.6M445.5 39.5h.6M445.5 24.1h.6M439.8 21.6h.6M472.6 25.2h.6M472.5 19.0h.6M451.1 33.5h.6M471.6 22.9h.6M452.3 29.5h.6M448.6 19.0h.6M451.1 34.2h.6M454.5 31.1h.6M444.6 24.1h.6M455.9 20.5h.6M448.8 40.3h.6M469.7 40.6h.6M454.1 41.5h.6M457.4 20.0h.6M455.1 42.5h.6M449.2 26.2h.6M441.0 27.2h.6M441.6 42.4h.6M455.2 24.7h.6M449.3 32.3h.6M443.9 37.3h.6M448.8 29.2h.6M471.2 29.1h.6M450.6 37.5h.6M470.5 35.3h.6M454.5 41.4h.6M444.6 42.1h.6M461.0 21.9h.6M444.3 22.3h.6M448.0 35.7h.6M462.5 32.5h.6M452.4 22.8h.6M440.2 30.7h.6M460.9 36.8h.6M446.0 20.2h.6M447.7 20.0h.6M444.5 32.4h.6M461.1 24.3h.6M471.8 19.7h.6M447.5 40.5h.6M462.0 30.7h.6" stroke="#333" stroke-width="0.7" opacity="0.25" fill="none"/>
</g></g>
<rect x="436.7" y="11.4" width="58.6" height="32.8" fill="none" stroke="#111" stroke-width="1.1"/>
<rect x="436.7" y="18.8" width="22.3" height="8.5" fill="none" stroke="#111" stroke-width="0.9"/>
<rect x="454.0" y="31.3" width="16.7" height="12.5" fill="none" stroke="#111" stroke-width="0.9"/>
<text x="443.0" y="19.2" font-size="7.6" text-anchor="start">30.8</text>
<text x="475.3" y="42.0" font-size="7.6" text-anchor="start">20.9</text>
<clipPath id="c5"><rect x="371.5" y="51.2" width="58.6" height="32.8"/></clipPath><g clip-path="url(#c5)"><g filter="url(#bl)">
<ellipse cx="380.1" cy="63.8" rx="9.5" ry="4.6" fill="url(#h)" opacity="0.8800000000000001"/>
<ellipse cx="384.5" cy="64.0" rx="12.0" ry="4.0" fill="url(#g)" opacity="0.25"/>
<ellipse cx="379.7" cy="78.1" rx="8.5" ry="6.8" fill="url(#g)" opacity="0.8"/>
<ellipse cx="379.5" cy="78.3" rx="5.0" ry="4.4" fill="url(#g)" opacity="0.6"/>
<ellipse cx="395.9" cy="78.2" rx="6.0" ry="6.2" fill="url(#g)" opacity="0.6"/>
<ellipse cx="395.7" cy="78.4" rx="3.0" ry="3.6" fill="url(#g)" opacity="0.6"/>
<path d="M377.0 65.6h.7M378.0 63.6h.7M381.9 63.2h.7M380.4 64.5h.7M375.5 62.6h.7M384.6 63.2h.7M372.5 66.7h.7M384.3 64.1h.7M378.9 62.4h.7M383.2 61.2h.7M376.6 63.7h.7M380.5 63.6h.7M381.1 63.9h.7M376.5 64.6h.7M377.7 64.7h.7M378.9 64.4h.7M382.7 63.1h.7M378.2 63.6h.7M380.9 64.4h.7M380.5 63.1h.7M378.5 65.5h.7M383.1 64.7h.7M374.8 64.3h.7M379.7 62.8h.7M384.6 66.3h.7M386.8 63.9h.7M376.6 65.7h.7M382.2 62.2h.7M376.7 64.5h.7M388.4 64.8h.7M381.0 63.8h.7M382.4 63.7h.7M387.1 64.5h.7M380.8 64.8h.7M380.8 61.5h.7M379.3 64.3h.7M380.0 63.3h.7M380.6 62.3h.7M379.2 63.0h.7M373.3 65.1h.7M383.0 64.8h.7M383.8 63.0h.7M379.5 61.5h.7M382.4 61.6h.7M379.8 64.2h.7M383.7 64.3h.7M380.0 62.9h.7M378.1 64.4h.7M380.6 64.8h.7M377.7 64.1h.7M375.1 64.2h.7M379.2 63.3h.7M376.7 64.7h.7M379.3 65.1h.7M380.1 65.9h.7M379.6 64.1h.7M374.7 65.2h.7M381.2 64.0h.7M382.0 64.1h.7M379.6 65.8h.7M376.4 65.2h.7M380.0 64.4h.7M383.7 63.0h.7M378.9 64.0h.7M374.3 62.2h.7M380.8 64.2h.7M375.7 64.6h.7M382.0 63.9h.7M385.1 63.6h.7M381.4 61.4h.7M385.1 64.9h.7M380.1 64.8h.7M382.4 63.4h.7M382.9 66.1h.7M375.0 65.3h.7M381.8 65.1h.7M380.7 64.5h.7M376.7 63.4h.7M380.6 66.8h.7M378.7 62.9h.7M384.3 65.5h.7M381.9 64.3h.7M383.7 66.1h.7M382.4 64.4h.7M374.8 62.3h.7M380.0 62.0h.7M383.2 63.2h.7M385.4 63.1h.7M382.1 62.3h.7M379.2 64.7h.7M379.8 63.1h.7M377.5 65.2h.7M384.4 63.7h.7M379.1 63.2h.7M383.4 64.0h.7M379.2 63.6h.7M379.6 64.5h.7M377.6 62.7h.7M377.4 64.9h.7M378.2 61.1h.7" stroke="#111" stroke-width="0.8" opacity="0.9" fill="none"/>
<path d="M376.1 77.3h.7M378.2 82.2h.7M382.0 78.4h.7M377.7 81.2h.7M378.9 73.5h.7M378.9 75.6h.7M382.1 79.2h.7M376.5 74.5h.7M382.9 77.8h.7M379.5 76.3h.7M379.3 78.4h.7M377.1 77.4h.7M377.0 79.4h.7M374.8 75.0h.7M381.4 76.6h.7M380.5 76.0h.7M375.0 78.7h.7M379.5 76.6h.7M381.3 79.0h.7M380.4 77.6h.7M381.6 79.6h.7M373.1 80.8h.7M379.3 79.3h.7M382.1 80.8h.7M379.1 76.0h.7M383.9 79.3h.7M379.7 78.7h.7M380.2 78.7h.7M378.2 78.7h.7M380.5 75.4h.7M381.5 79.2h.7M388.5 77.6h.7M378.2 79.0h.7M380.7 74.4h.7M381.7 79.4h.7M380.3 78.5h.7M379.3 76.5h.7M376.3 76.6h.7M379.9 79.1h.7M378.2 73.7h.7M379.9 80.6h.7M380.6 73.3h.7M382.5 80.1h.7M373.9 77.6h.7M382.5 79.4h.7M380.0 80.5h.7M386.4 77.8h.7M381.8 78.2h.7M378.2 80.1h.7M377.9 76.1h.7M378.6 79.5h.7M377.3 76.0h.7M377.3 77.4h.7M375.0 78.7h.7M379.2 78.1h.7M378.0 75.9h.7M378.2 77.2h.7M377.0 76.5h.7M381.4 77.7h.7M387.7 76.3h.7M380.0 74.2h.7M385.4 76.3h.7M377.4 82.4h.7M379.3 77.2h.7M381.3 77.2h.7M382.8 78.1h.7M373.2 79.5h.7M378.0 79.9h.7M379.4 77.0h.7M378.2 77.9h.7M378.8 80.8h.7M380.2 80.3h.7M382.0 75.5h.7M377.5 77.4h.7M380.0 74.9h.7M378.5 73.7h.7M373.9 83.0h.7M378.7 77.1h.7M379.0 77.0h.7M380.0 78.5h.7M381.4 77.1h.7M390.5 78.2h.7M380.9 80.7h.7M378.2 79.4h.7M381.9 81.2h.7M383.1 82.5h.7M380.1 77.3h.7M375.2 81.4h.7M378.4 80.2h.7M383.3 78.8h.7M380.9 75.3h.7M381.4 78.6h.7M381.8 81.9h.7M375.0 78.0h.7M380.3 74.7h.7M381.4 76.7h.7M375.0 77.3h.7M379.5 76.9h.7M379.3 80.0h.7M381.4 72.7h.7M381.9 75.1h.7M379.6 76.0h.7M383.8 81.3h.7M375.9 78.2h.7M380.2 78.7h.7M380.8 77.7h.7M376.9 75.9h.7M378.4 75.5h.7M383.0 81.4h.7M385.6 80.2h.7M380.3 77.9h.7M378.1 76.9h.7M384.5 80.3h.7M377.6 78.5h.7M380.8 79.9h.7M377.0 75.7h.7M381.7 79.7h.7M380.2 77.8h.7M379.5 77.3h.7M378.3 74.8h.7M378.2 81.6h.7M381.4 78.9h.7M383.7 77.3h.7M383.4 77.5h.7M380.7 78.1h.7M379.1 80.0h.7M383.9 77.0h.7M375.7 78.4h.7" stroke="#111" stroke-width="0.8" opacity="0.65" fill="none"/>
<path d="M397.3 76.8h.7M393.9 77.7h.7M397.1 74.4h.7M397.1 77.7h.7M394.7 78.2h.7M395.6 78.9h.7M397.6 79.6h.7M396.4 75.9h.7M394.5 80.3h.7M393.4 75.6h.7M396.7 74.9h.7M394.8 79.0h.7M391.4 78.4h.7M396.9 77.7h.7M396.0 75.9h.7M397.0 83.4h.7M394.9 76.9h.7M391.9 76.2h.7M395.6 80.3h.7M397.0 79.5h.7M392.6 75.9h.7M394.3 81.9h.7M397.0 76.9h.7M396.1 77.1h.7M393.4 77.3h.7M398.3 76.2h.7M397.2 81.1h.7M400.2 81.6h.7M393.7 79.2h.7M397.4 75.2h.7M392.2 79.9h.7M396.5 79.4h.7M397.2 77.1h.7M394.5 76.4h.7M395.6 79.2h.7M395.1 74.1h.7M397.2 80.7h.7M396.8 81.2h.7M394.9 78.3h.7M399.8 77.7h.7M391.9 79.8h.7M395.2 77.4h.7M392.2 79.9h.7M398.6 78.0h.7M391.9 75.3h.7M396.7 80.0h.7M398.7 80.7h.7M397.0 78.1h.7M395.3 79.8h.7M397.2 74.6h.7M398.2 79.3h.7M396.9 77.4h.7M396.2 79.9h.7M396.6 76.8h.7M395.8 78.3h.7M397.0 77.5h.7M396.0 82.8h.7M392.9 80.2h.7" stroke="#111" stroke-width="0.8" opacity="0.65" fill="none"/>
<path d="M402.7 60.2h.6M398.7 68.9h.6M389.7 57.8h.6M380.4 66.2h.6M383.5 67.2h.6M395.3 71.0h.6M380.3 68.0h.6M394.2 78.0h.6M398.7 74.7h.6M393.0 70.9h.6M399.0 64.3h.6M401.5 80.6h.6M401.2 62.6h.6M374.2 62.8h.6M405.8 80.5h.6M407.3 70.3h.6M376.6 74.9h.6M404.0 68.3h.6M372.8 63.9h.6M389.6 61.3h.6M379.2 78.3h.6M403.1 68.4h.6M394.7 81.3h.6M377.5 67.3h.6M372.6 64.8h.6M385.9 75.8h.6M390.7 63.2h.6M374.9 58.5h.6M375.3 58.3h.6M382.8 77.7h.6M396.6 61.4h.6M375.7 73.8h.6M407.3 64.9h.6M399.8 80.8h.6M397.2 73.1h.6M394.8 76.3h.6M403.8 60.2h.6M388.7 69.8h.6M388.0 60.0h.6M404.9 67.0h.6M379.5 69.6h.6M397.4 67.0h.6M390.7 71.5h.6M401.7 72.3h.6M395.3 64.0h.6" stroke="#333" stroke-width="0.7" opacity="0.25" fill="none"/>
</g></g>
<rect x="371.5" y="51.2" width="58.6" height="32.8" fill="none" stroke="#111" stroke-width="1.1"/>
<rect x="371.5" y="58.8" width="22.3" height="9.2" fill="none" stroke="#111" stroke-width="0.9"/>
<rect x="388.8" y="71.1" width="16.7" height="12.5" fill="none" stroke="#111" stroke-width="0.9"/>
<text x="377.7" y="59.2" font-size="7.6" text-anchor="start">37.3</text>
<text x="410.1" y="82.0" font-size="7.6" text-anchor="start">18.9</text>
<clipPath id="c6"><rect x="436.7" y="51.2" width="58.6" height="32.8"/></clipPath><g clip-path="url(#c6)"><g filter="url(#bl)">
<ellipse cx="445.3" cy="63.8" rx="9.5" ry="4.6" fill="url(#h)" opacity="0.456"/>
<ellipse cx="449.7" cy="64.0" rx="12.0" ry="4.0" fill="url(#g)" opacity="0.25"/>
<ellipse cx="444.9" cy="78.1" rx="8.5" ry="6.8" fill="url(#g)" opacity="0.8"/>
<ellipse cx="444.7" cy="78.3" rx="5.0" ry="4.4" fill="url(#g)" opacity="0.6"/>
<ellipse cx="461.1" cy="78.2" rx="6.0" ry="6.2" fill="url(#g)" opacity="0.6"/>
<ellipse cx="460.9" cy="78.4" rx="3.0" ry="3.6" fill="url(#g)" opacity="0.6"/>
<path d="M446.8 63.4h.7M441.8 65.0h.7M442.4 65.3h.7M446.1 64.5h.7M444.3 66.4h.7M445.6 64.0h.7M449.0 64.7h.7M442.3 61.7h.7M448.1 63.0h.7M445.3 63.2h.7M446.2 62.4h.7M439.3 63.7h.7M446.3 62.6h.7M445.6 63.2h.7M448.9 64.1h.7M441.4 61.8h.7M441.1 63.2h.7M447.6 64.3h.7M448.6 63.5h.7M442.8 63.2h.7M449.2 63.4h.7M449.2 63.5h.7M443.7 62.8h.7M446.7 64.0h.7M441.5 64.6h.7M446.5 66.4h.7M448.3 62.2h.7M444.2 65.6h.7M448.7 64.0h.7M443.4 65.4h.7M442.7 62.5h.7M448.4 64.7h.7M443.5 64.9h.7M442.7 66.2h.7M444.5 65.0h.7M445.3 66.9h.7M440.9 63.6h.7M443.3 63.2h.7" stroke="#111" stroke-width="0.8" opacity="0.9" fill="none"/>
<path d="M441.8 79.1h.7M450.5 76.5h.7M445.4 76.9h.7M443.4 77.7h.7M445.1 77.7h.7M444.7 81.6h.7M442.0 80.8h.7M447.6 77.1h.7M446.9 81.0h.7M443.2 82.0h.7M446.6 81.1h.7M441.8 77.6h.7M450.9 74.5h.7M441.3 80.2h.7M446.4 81.3h.7M437.3 75.7h.7M443.9 81.3h.7M442.5 79.4h.7M443.6 78.9h.7M442.2 77.9h.7M444.1 77.8h.7M448.9 79.8h.7M448.3 79.4h.7M446.2 80.0h.7M446.1 73.3h.7M442.3 78.6h.7M438.0 74.1h.7M446.4 77.1h.7M443.1 77.6h.7M450.3 80.6h.7M441.5 77.6h.7M447.3 75.9h.7M447.3 80.3h.7M450.3 77.5h.7M447.3 77.7h.7M446.7 78.8h.7M451.3 75.3h.7M445.5 80.6h.7M441.0 79.2h.7M445.2 77.1h.7M447.8 77.3h.7M445.1 81.1h.7M441.9 78.6h.7M444.2 77.2h.7M442.9 78.6h.7M448.6 79.1h.7M450.6 78.9h.7M445.3 75.0h.7M442.1 75.8h.7M447.5 76.3h.7M446.7 79.9h.7M447.5 76.5h.7M443.9 79.2h.7M452.2 81.6h.7M445.9 74.7h.7M443.3 80.2h.7M445.8 79.8h.7M444.5 77.4h.7M441.3 78.0h.7M447.1 78.5h.7M444.6 72.5h.7M444.7 79.9h.7M441.6 79.2h.7M441.7 78.9h.7M438.7 75.9h.7M444.2 76.7h.7M448.6 80.5h.7M442.8 74.8h.7M445.4 79.6h.7M443.9 76.8h.7M442.5 81.3h.7M444.0 78.1h.7M447.8 74.5h.7M447.9 78.9h.7M445.6 78.3h.7M448.6 75.5h.7M443.6 78.0h.7M445.1 79.3h.7M447.8 78.8h.7M442.6 80.8h.7M444.0 78.4h.7M445.2 77.8h.7M450.0 79.0h.7M443.0 78.7h.7M445.6 78.0h.7M448.1 74.3h.7M447.1 76.0h.7M442.0 78.1h.7M447.3 79.4h.7M441.9 83.4h.7M442.8 76.3h.7M448.3 77.4h.7M443.5 77.9h.7M448.5 80.0h.7M441.7 78.1h.7M444.2 78.0h.7M444.5 75.5h.7M445.5 73.6h.7M443.5 81.0h.7M441.3 79.5h.7M444.8 77.9h.7M438.6 78.8h.7M442.9 80.1h.7M448.3 80.0h.7M444.1 77.6h.7M444.1 79.6h.7M446.3 76.0h.7M449.0 75.4h.7M443.2 76.0h.7M448.1 75.9h.7M443.4 77.4h.7M444.6 76.1h.7M445.6 77.6h.7M443.8 81.4h.7M447.7 80.9h.7M443.4 74.3h.7M445.1 83.1h.7M446.1 79.6h.7M444.3 73.7h.7M444.8 74.4h.7M450.0 77.5h.7M443.7 77.2h.7M446.8 74.1h.7M447.5 79.5h.7M450.5 74.3h.7M446.8 80.1h.7M449.2 73.2h.7M444.2 80.2h.7M439.6 77.3h.7M446.3 78.4h.7" stroke="#111" stroke-width="0.8" opacity="0.65" fill="none"/>
<path d="M461.0 78.2h.7M462.5 75.4h.7M461.0 76.3h.7M462.8 79.2h.7M463.3 77.1h.7M465.0 79.4h.7M462.3 76.3h.7M461.0 75.7h.7M461.5 77.3h.7M461.9 77.4h.7M459.5 82.7h.7M465.2 79.9h.7M460.8 82.9h.7M461.9 80.4h.7M457.4 77.7h.7M466.5 77.5h.7M461.9 79.3h.7M460.5 76.1h.7M462.8 80.9h.7M457.6 79.5h.7M460.0 77.4h.7M459.6 76.9h.7M462.8 81.0h.7M465.0 78.8h.7M461.5 80.0h.7M462.8 78.3h.7M460.7 73.3h.7M459.4 74.7h.7M458.9 77.7h.7M462.7 79.5h.7M461.6 79.6h.7M461.2 78.1h.7M462.7 77.0h.7M462.5 80.0h.7M465.5 80.0h.7M460.3 77.5h.7M459.9 79.1h.7M459.2 77.0h.7M459.7 80.2h.7M458.5 81.5h.7M461.5 77.7h.7M459.6 79.1h.7M462.6 79.8h.7M459.8 78.7h.7M463.5 75.5h.7M460.1 81.1h.7M461.9 78.8h.7M463.0 79.2h.7M458.9 79.4h.7M459.9 79.2h.7M460.1 75.2h.7M459.7 78.1h.7M465.1 78.4h.7M463.7 73.4h.7M459.4 80.9h.7M458.0 77.0h.7M462.7 79.4h.7M462.1 80.1h.7M462.2 79.7h.7M461.8 76.7h.7" stroke="#111" stroke-width="0.8" opacity="0.65" fill="none"/>
<path d="M468.2 77.2h.6M458.3 73.0h.6M459.4 61.7h.6M446.6 70.1h.6M438.3 75.5h.6M465.6 64.3h.6M456.5 70.0h.6M468.4 79.7h.6M452.6 57.7h.6M472.5 76.0h.6M462.1 74.8h.6M440.9 73.6h.6M472.4 65.2h.6M444.8 66.8h.6M460.9 74.9h.6M453.6 68.4h.6M451.3 63.0h.6M448.5 60.2h.6M463.9 76.8h.6M470.5 74.3h.6M457.7 73.5h.6M446.1 73.4h.6M455.5 82.8h.6M449.2 67.1h.6M472.7 76.1h.6M439.0 70.1h.6M455.6 74.3h.6M466.2 58.7h.6M448.1 59.2h.6M445.2 70.1h.6M448.2 80.4h.6M452.0 59.2h.6M463.3 61.7h.6M444.9 59.6h.6M443.0 70.8h.6M463.9 66.5h.6M442.7 65.6h.6M452.7 60.4h.6M440.5 65.6h.6M467.8 67.6h.6M463.1 66.8h.6M472.2 64.1h.6M454.1 61.3h.6M464.4 81.6h.6M469.2 76.8h.6" stroke="#333" stroke-width="0.7" opacity="0.25" fill="none"/>
</g></g>
<rect x="436.7" y="51.2" width="58.6" height="32.8" fill="none" stroke="#111" stroke-width="1.1"/>
<rect x="436.7" y="58.8" width="22.3" height="9.2" fill="none" stroke="#111" stroke-width="0.9"/>
<rect x="454.0" y="71.1" width="16.7" height="12.5" fill="none" stroke="#111" stroke-width="0.9"/>
<text x="442.5" y="59.2" font-size="7.6" text-anchor="start">21.4</text>
<text x="475.3" y="82.0" font-size="7.6" text-anchor="start">22.3</text>
<clipPath id="c7"><rect x="371.5" y="90.2" width="58.6" height="33.2"/></clipPath><g clip-path="url(#c7)"><g filter="url(#bl)">
<ellipse cx="380.1" cy="104.1" rx="9.5" ry="4.6" fill="url(#h)" opacity="0.9200000000000002"/>
<ellipse cx="384.5" cy="104.3" rx="12.0" ry="4.0" fill="url(#g)" opacity="0.25"/>
<ellipse cx="379.7" cy="117.3" rx="8.5" ry="6.8" fill="url(#g)" opacity="0.8"/>
<ellipse cx="379.5" cy="117.5" rx="5.0" ry="4.4" fill="url(#g)" opacity="0.6"/>
<ellipse cx="395.9" cy="117.4" rx="6.0" ry="6.2" fill="url(#g)" opacity="0.6"/>
<ellipse cx="395.7" cy="117.6" rx="3.0" ry="3.6" fill="url(#g)" opacity="0.6"/>
<path d="M383.4 105.7h.7M382.1 101.9h.7M382.5 104.5h.7M378.3 104.9h.7M380.5 106.6h.7M377.0 103.6h.7M377.9 103.2h.7M384.9 104.2h.7M375.9 104.9h.7M377.4 105.2h.7M378.0 103.6h.7M381.2 106.0h.7M376.6 103.5h.7M376.9 105.7h.7M381.2 103.8h.7M382.8 102.7h.7M380.1 102.2h.7M378.4 102.2h.7M377.7 102.7h.7M375.7 104.9h.7M378.2 103.5h.7M383.6 103.9h.7M382.2 103.2h.7M380.8 101.9h.7M378.7 106.1h.7M383.5 105.8h.7M381.4 102.2h.7M381.5 103.1h.7M378.0 104.1h.7M388.0 101.8h.7M379.5 104.2h.7M377.9 107.0h.7M380.6 104.8h.7M377.8 104.6h.7M377.0 105.4h.7M382.6 103.8h.7M380.2 102.6h.7M377.8 102.8h.7M384.2 102.6h.7M376.9 101.2h.7M377.4 105.8h.7M385.1 103.6h.7M380.4 105.0h.7M381.1 101.6h.7M379.8 105.3h.7M379.4 102.0h.7M379.2 105.7h.7M381.7 103.8h.7M377.0 105.5h.7M377.9 105.4h.7M378.8 104.3h.7M383.3 103.3h.7M377.4 105.3h.7M380.4 103.7h.7M376.1 105.0h.7M379.8 104.9h.7M372.9 104.1h.7M380.1 105.1h.7M379.1 103.1h.7M380.0 105.1h.7M381.3 105.7h.7M383.3 105.6h.7M373.6 104.2h.7M379.2 104.4h.7M378.8 103.2h.7M376.4 103.9h.7M382.8 104.4h.7M382.5 104.7h.7M376.2 104.2h.7M386.0 101.8h.7M377.4 102.8h.7M381.8 105.1h.7M378.6 105.8h.7M379.3 104.5h.7M374.4 104.4h.7M381.5 106.4h.7M383.7 104.3h.7M377.9 104.1h.7M378.7 102.6h.7M382.2 103.8h.7M380.3 102.8h.7M381.2 104.8h.7M375.7 103.3h.7M379.2 104.5h.7M383.2 105.1h.7M378.7 105.9h.7M381.2 102.6h.7M379.6 105.3h.7M382.4 101.6h.7M380.8 104.9h.7M380.8 105.3h.7M378.2 103.6h.7M379.8 103.5h.7M378.1 102.5h.7M380.5 103.7h.7M382.7 105.3h.7M372.4 104.3h.7M378.7 103.1h.7M382.8 103.3h.7M376.4 103.4h.7M379.5 105.6h.7M381.7 106.7h.7M380.0 104.4h.7M376.8 102.5h.7M379.5 105.7h.7M375.6 106.3h.7M375.5 104.9h.7" stroke="#111" stroke-width="0.8" opacity="0.9" fill="none"/>
<path d="M375.7 117.3h.7M383.2 113.4h.7M378.4 117.9h.7M379.9 115.8h.7M380.2 114.9h.7M382.2 115.3h.7M381.9 116.5h.7M381.0 117.8h.7M382.3 116.3h.7M384.5 119.8h.7M377.8 116.9h.7M378.1 117.1h.7M381.5 118.2h.7M379.8 118.0h.7M380.3 118.2h.7M373.7 117.9h.7M376.3 113.3h.7M380.4 119.5h.7M379.7 114.0h.7M382.5 120.0h.7M376.4 117.8h.7M383.4 118.0h.7M380.4 119.3h.7M383.7 115.1h.7M378.3 117.7h.7M379.7 115.2h.7M372.6 116.6h.7M378.2 116.6h.7M379.3 116.6h.7M379.7 117.5h.7M376.9 116.1h.7M382.2 117.9h.7M378.9 116.6h.7M379.9 120.0h.7M378.0 117.1h.7M379.5 119.2h.7M377.2 115.7h.7M379.0 118.3h.7M377.8 117.3h.7M380.3 117.7h.7M378.1 116.7h.7M384.2 118.4h.7M382.8 114.7h.7M385.2 114.5h.7M380.1 120.7h.7M374.4 118.6h.7M384.3 113.7h.7M378.3 117.6h.7M381.8 121.1h.7M380.4 115.1h.7M376.5 120.7h.7M378.2 113.4h.7M386.5 114.2h.7M377.8 118.0h.7M379.2 114.8h.7M375.1 115.3h.7M384.4 115.7h.7M382.9 119.8h.7M382.8 117.4h.7M374.9 117.2h.7M383.7 117.2h.7M377.7 117.8h.7M380.7 116.6h.7M375.3 114.4h.7M379.2 114.5h.7M384.4 116.5h.7M385.3 119.1h.7M382.0 117.5h.7M381.4 116.7h.7M373.9 117.2h.7M377.2 117.9h.7M381.4 121.7h.7M378.0 117.0h.7M382.0 117.0h.7M383.6 115.4h.7M375.1 118.5h.7M378.5 120.7h.7M380.7 120.3h.7M376.9 115.9h.7M383.1 114.7h.7M382.3 121.0h.7M377.7 121.5h.7M381.4 117.1h.7M379.1 117.8h.7M381.7 114.3h.7M382.7 121.8h.7M378.7 118.6h.7M385.3 116.7h.7M384.3 120.9h.7M385.2 117.2h.7M375.7 117.0h.7M382.5 119.8h.7M384.8 116.9h.7M379.3 120.7h.7M379.7 115.8h.7M381.0 117.0h.7M381.6 118.5h.7M375.6 117.3h.7M385.3 116.9h.7M380.7 113.9h.7M379.4 116.5h.7M379.6 114.3h.7M377.6 114.7h.7M383.5 117.7h.7M380.5 116.6h.7M375.6 113.9h.7M380.9 119.7h.7M374.5 116.1h.7M374.1 118.5h.7M380.0 114.9h.7M380.7 113.3h.7M375.2 116.1h.7M379.5 111.6h.7M382.2 114.7h.7M379.1 115.3h.7M379.1 120.4h.7M380.2 121.2h.7M382.2 118.4h.7M375.8 115.7h.7M378.4 118.8h.7M375.5 114.0h.7M383.2 116.6h.7M378.6 120.1h.7M382.7 115.5h.7M382.5 117.7h.7M378.1 117.1h.7M382.7 116.5h.7M378.1 116.6h.7" stroke="#111" stroke-width="0.8" opacity="0.65" fill="none"/>
<path d="M395.2 118.1h.7M393.6 114.1h.7M396.5 117.6h.7M396.5 119.2h.7M397.5 113.4h.7M398.1 116.9h.7M398.1 121.3h.7M394.3 115.2h.7M395.5 118.8h.7M393.7 118.2h.7M396.5 119.1h.7M397.0 118.9h.7M395.9 119.6h.7M396.4 114.8h.7M394.1 115.9h.7M395.8 116.5h.7M395.8 114.7h.7M393.0 114.3h.7M393.3 116.2h.7M396.8 119.1h.7M396.1 117.1h.7M396.8 118.3h.7M397.7 116.6h.7M397.3 116.9h.7M398.9 118.7h.7M395.6 118.6h.7M394.1 120.1h.7M397.8 116.3h.7M395.5 116.9h.7M394.8 120.7h.7M397.2 118.6h.7M398.8 118.6h.7M392.8 116.8h.7M394.2 119.6h.7M394.0 116.2h.7M396.3 118.1h.7M397.7 115.2h.7M394.8 114.4h.7M395.3 117.7h.7M397.3 116.7h.7M396.9 116.8h.7M397.9 116.0h.7M396.8 118.7h.7M393.7 112.5h.7M393.2 118.5h.7M395.8 117.4h.7M395.9 119.0h.7M395.2 113.8h.7M397.6 116.5h.7M396.6 116.6h.7M398.2 114.0h.7M396.0 114.6h.7M399.4 116.7h.7M399.6 117.6h.7M396.0 119.4h.7M392.5 116.1h.7M396.3 117.2h.7M394.8 117.9h.7M395.0 116.6h.7M393.4 115.6h.7" stroke="#111" stroke-width="0.8" opacity="0.65" fill="none"/>
<path d="M384.1 113.3h.6M397.4 121.6h.6M397.2 110.7h.6M391.8 96.4h.6M389.2 117.9h.6M386.4 111.1h.6M373.5 109.1h.6M404.5 108.5h.6M375.6 106.7h.6M380.6 113.4h.6M395.2 107.9h.6M391.4 118.3h.6M405.1 111.4h.6M391.1 110.3h.6M389.5 118.4h.6M407.0 101.9h.6M387.6 107.0h.6M390.3 114.9h.6M391.5 120.3h.6M395.8 101.7h.6M380.9 102.5h.6M384.4 106.7h.6M382.5 96.6h.6M387.1 120.3h.6M400.1 106.4h.6M398.0 116.1h.6M392.6 112.7h.6M378.4 108.1h.6M402.5 106.7h.6M375.9 121.0h.6M383.8 112.9h.6M390.2 96.9h.6M397.8 120.6h.6M402.9 102.3h.6M385.4 112.2h.6M393.6 104.8h.6M392.9 120.2h.6M386.1 115.9h.6M405.6 119.4h.6M384.1 115.0h.6M401.1 99.9h.6M400.2 96.8h.6M402.2 118.7h.6M388.7 122.0h.6M383.5 102.0h.6" stroke="#333" stroke-width="0.7" opacity="0.25" fill="none"/>
</g></g>
<rect x="371.5" y="90.2" width="58.6" height="33.2" fill="none" stroke="#111" stroke-width="1.1"/>
<rect x="371.5" y="98.8" width="22.3" height="9.7" fill="none" stroke="#111" stroke-width="0.9"/>
<rect x="388.8" y="110.1" width="16.7" height="12.9" fill="none" stroke="#111" stroke-width="0.9"/>
<text x="377.7" y="99.3" font-size="7.6" text-anchor="start">37.7</text>
<text x="410.1" y="121.9" font-size="7.6" text-anchor="start">28.6</text>
<clipPath id="c8"><rect x="436.7" y="90.2" width="58.6" height="33.2"/></clipPath><g clip-path="url(#c8)"><g filter="url(#bl)">
<ellipse cx="445.3" cy="104.1" rx="9.5" ry="4.6" fill="url(#h)" opacity="0.6799999999999999"/>
<ellipse cx="449.7" cy="104.3" rx="12.0" ry="4.0" fill="url(#g)" opacity="0.25"/>
<ellipse cx="444.9" cy="117.3" rx="8.5" ry="6.8" fill="url(#g)" opacity="0.8"/>
<ellipse cx="444.7" cy="117.5" rx="5.0" ry="4.4" fill="url(#g)" opacity="0.6"/>
<ellipse cx="461.1" cy="117.4" rx="6.0" ry="6.2" fill="url(#g)" opacity="0.6"/>
<ellipse cx="460.9" cy="117.6" rx="3.0" ry="3.6" fill="url(#g)" opacity="0.6"/>
<path d="M445.0 104.0h.7M445.9 105.5h.7M445.1 105.3h.7M444.0 103.9h.7M440.4 103.6h.7M444.4 103.6h.7M440.5 103.3h.7M442.1 105.3h.7M449.8 102.8h.7M444.8 104.3h.7M445.0 104.3h.7M446.3 104.2h.7M441.5 103.5h.7M441.0 104.5h.7M443.1 105.5h.7M445.2 104.7h.7M450.3 103.4h.7M446.5 101.4h.7M443.0 104.4h.7M447.4 106.1h.7M447.9 101.0h.7M442.0 106.2h.7M439.7 104.4h.7M445.2 106.0h.7M439.9 102.9h.7M452.9 106.0h.7M439.1 103.3h.7M450.6 104.9h.7M446.6 102.9h.7M440.0 105.5h.7M444.6 104.9h.7M442.7 101.7h.7M443.6 103.8h.7M441.2 104.7h.7M443.0 102.0h.7M443.2 100.1h.7M451.3 104.5h.7M444.7 104.5h.7M445.0 105.1h.7M448.0 105.0h.7M449.4 103.2h.7M445.5 105.1h.7M448.7 105.1h.7M447.8 105.0h.7M452.7 103.9h.7M446.2 102.5h.7M446.9 105.2h.7M441.4 104.6h.7M444.6 103.5h.7M441.7 103.4h.7M447.3 104.5h.7M447.0 101.4h.7M449.4 105.1h.7M437.7 106.1h.7M444.0 104.6h.7M447.7 102.8h.7M447.6 103.6h.7M448.8 105.1h.7M446.7 103.6h.7M442.2 105.4h.7M446.1 103.1h.7M439.6 104.9h.7M447.6 102.8h.7M441.2 104.1h.7M445.6 103.3h.7M446.0 106.7h.7M444.6 104.5h.7M446.7 104.6h.7M447.8 103.0h.7M441.7 105.1h.7M443.2 103.9h.7" stroke="#111" stroke-width="0.8" opacity="0.9" fill="none"/>
<path d="M452.0 116.7h.7M448.4 120.0h.7M443.4 118.9h.7M446.0 120.5h.7M447.4 122.2h.7M446.8 122.0h.7M451.9 115.2h.7M444.7 112.8h.7M449.1 118.5h.7M449.6 117.6h.7M445.5 117.1h.7M452.8 115.8h.7M447.4 114.0h.7M441.4 120.7h.7M449.1 117.6h.7M442.5 115.5h.7M443.4 116.5h.7M447.3 114.1h.7M441.1 117.9h.7M445.5 112.7h.7M442.5 117.6h.7M445.3 117.0h.7M445.1 116.4h.7M440.0 118.7h.7M439.1 116.6h.7M445.7 114.7h.7M445.6 116.4h.7M446.7 116.0h.7M440.2 120.3h.7M440.8 116.6h.7M447.8 116.6h.7M445.7 120.7h.7M441.3 115.1h.7M440.3 116.8h.7M448.7 116.6h.7M446.8 119.7h.7M442.1 114.8h.7M446.8 117.3h.7M445.1 118.7h.7M447.9 117.2h.7M446.7 115.6h.7M443.1 114.9h.7M445.8 115.9h.7M444.8 117.5h.7M445.8 119.7h.7M446.9 116.6h.7M447.5 117.8h.7M443.2 118.3h.7M447.6 116.3h.7M446.1 117.8h.7M441.6 116.6h.7M445.7 116.5h.7M444.6 116.7h.7M446.4 117.5h.7M447.7 115.4h.7M442.6 115.6h.7M445.1 119.4h.7M443.2 115.6h.7M437.6 119.1h.7M439.1 118.2h.7M445.3 118.9h.7M442.8 122.0h.7M442.9 114.6h.7M445.9 114.4h.7M442.0 114.2h.7M440.2 116.3h.7M453.3 120.5h.7M444.5 114.0h.7M445.9 116.1h.7M446.9 119.7h.7M441.2 120.4h.7M439.4 117.7h.7M442.6 113.1h.7M446.5 118.6h.7M444.1 118.4h.7M442.3 117.2h.7M441.2 115.4h.7M444.2 116.5h.7M440.6 117.8h.7M446.6 115.0h.7M449.6 121.4h.7M446.8 117.3h.7M443.0 116.9h.7M440.5 114.7h.7M440.6 116.6h.7M446.2 120.1h.7M446.3 115.7h.7M446.0 116.5h.7M443.5 117.6h.7M437.6 114.9h.7M452.5 114.7h.7M444.5 118.8h.7M443.7 117.9h.7M442.9 118.1h.7M442.2 118.5h.7M443.1 117.0h.7M446.0 116.3h.7M444.0 116.2h.7M445.8 113.8h.7M448.4 117.1h.7M446.9 116.8h.7M446.1 119.4h.7M440.4 117.9h.7M443.0 120.3h.7M446.0 117.1h.7M445.4 117.1h.7M443.1 114.6h.7M449.8 116.3h.7M447.2 118.6h.7M447.8 116.3h.7M447.7 116.7h.7M444.4 114.3h.7M444.3 116.0h.7M442.2 112.7h.7M447.1 112.3h.7M447.3 117.8h.7M445.4 118.6h.7M439.6 120.3h.7M441.8 118.3h.7M444.8 116.4h.7M445.6 114.9h.7M444.6 119.2h.7M448.1 116.8h.7M444.5 113.6h.7M447.9 114.6h.7M448.3 118.0h.7" stroke="#111" stroke-width="0.8" opacity="0.65" fill="none"/>
<path d="M458.1 117.4h.7M463.0 121.0h.7M460.3 119.9h.7M464.7 119.5h.7M456.1 119.6h.7M459.4 117.7h.7M459.5 120.0h.7M458.3 118.2h.7M462.6 118.5h.7M463.0 120.5h.7M460.1 119.5h.7M458.1 115.0h.7M464.1 122.1h.7M462.2 116.6h.7M460.5 118.5h.7M458.6 116.3h.7M460.4 117.4h.7M457.8 115.1h.7M461.3 120.8h.7M460.8 116.2h.7M463.6 117.4h.7M462.4 116.3h.7M459.0 118.7h.7M459.3 119.3h.7M461.7 120.0h.7M461.3 120.0h.7M462.4 120.7h.7M456.4 115.9h.7M457.1 118.3h.7M463.4 117.3h.7M460.4 115.9h.7M464.1 119.1h.7M462.9 119.0h.7M461.1 118.3h.7M462.4 116.0h.7M463.6 113.6h.7M463.6 120.4h.7M460.6 116.1h.7M458.3 117.5h.7M461.3 119.2h.7M463.0 117.5h.7M460.4 114.0h.7M461.4 121.7h.7M460.8 118.5h.7M460.0 121.6h.7M461.0 120.6h.7M463.4 115.8h.7M457.7 114.2h.7M462.0 117.1h.7M462.4 117.5h.7M461.4 115.5h.7M460.0 122.4h.7M462.7 118.1h.7M459.6 117.8h.7M461.0 118.7h.7M461.8 113.1h.7M462.1 118.5h.7M462.4 117.2h.7M461.8 116.5h.7M460.3 119.2h.7" stroke="#111" stroke-width="0.8" opacity="0.65" fill="none"/>
<path d="M451.0 101.0h.6M443.1 121.2h.6M451.8 116.4h.6M454.6 97.9h.6M440.6 122.3h.6M443.3 115.6h.6M441.4 102.4h.6M449.0 113.3h.6M464.7 121.5h.6M455.9 98.8h.6M462.1 117.7h.6M442.1 109.5h.6M454.3 115.8h.6M467.0 98.7h.6M449.2 98.5h.6M451.7 105.0h.6M445.9 111.8h.6M457.2 97.4h.6M449.3 105.5h.6M459.6 117.2h.6M466.5 121.3h.6M446.2 109.0h.6M445.2 114.3h.6M437.9 99.7h.6M464.6 114.3h.6M471.2 98.2h.6M443.8 111.2h.6M445.0 120.2h.6M441.0 105.0h.6M446.1 121.9h.6M466.7 101.0h.6M444.5 107.2h.6M455.4 97.2h.6M441.2 100.9h.6M439.4 115.6h.6M447.8 115.4h.6M451.0 106.7h.6M454.4 97.1h.6M469.6 98.0h.6M453.5 97.7h.6M461.4 108.3h.6M451.0 112.0h.6M452.5 97.6h.6M467.1 111.5h.6M438.1 100.1h.6" stroke="#333" stroke-width="0.7" opacity="0.25" fill="none"/>
</g></g>
<rect x="436.7" y="90.2" width="58.6" height="33.2" fill="none" stroke="#111" stroke-width="1.1"/>
<rect x="436.7" y="98.8" width="22.3" height="9.7" fill="none" stroke="#111" stroke-width="0.9"/>
<rect x="454.0" y="110.1" width="16.7" height="12.9" fill="none" stroke="#111" stroke-width="0.9"/>
<text x="444.2" y="99.3" font-size="7.6" text-anchor="start">20.5</text>
<text x="475.3" y="121.9" font-size="7.6" text-anchor="start">32.4</text>
<text x="395.8" y="5.3" font-size="7.8" text-anchor="middle">WT</text>
<text x="461.5" y="5.6" font-size="7.8" text-anchor="middle" textLength="28.5" lengthAdjust="spacingAndGlyphs">Wip1KO</text>
<text x="340.3" y="36.6" font-size="7.6" text-anchor="start">SPL</text>
<text x="340.2" y="69.3" font-size="7.6" text-anchor="start">pLN</text>
<text x="338.3" y="105.2" font-size="7.6" text-anchor="start">mLN</text>
<path d="M364.6 13.5L364.6 102.0" stroke="#111" stroke-width="0.9" fill="none"/>
<path d="M361.6 17.0L364.6 13.5L367.6 17.0" stroke="#111" stroke-width="0.9" fill="none"/>
<text x="367.4" y="123.0" font-size="7.6" text-anchor="start" transform="rotate(-90 367.4 123.0)">B220</text>
<text x="373.0" y="133.4" font-size="7.8" text-anchor="start">CD4</text>
<path d="M395.0 127.7L480.2 127.7" stroke="#111" stroke-width="0.9" fill="none"/>
<path d="M476.7 124.7L480.2 127.7L476.7 130.7" stroke="#111" stroke-width="0.9" fill="none"/>
<path d="M38.4 150.2L38.4 246.4" stroke="#111" stroke-width="1.15" fill="none"/>
<path d="M36.0 246.4L38.4 246.4" stroke="#111" stroke-width="1.15" fill="none"/>
<text x="32.0" y="249.0" font-size="7.3" text-anchor="end">0</text>
<path d="M36.0 230.4L38.4 230.4" stroke="#111" stroke-width="1.15" fill="none"/>
<text x="32.0" y="233.0" font-size="7.3" text-anchor="end">10</text>
<path d="M36.0 214.3L38.4 214.3" stroke="#111" stroke-width="1.15" fill="none"/>
<text x="32.0" y="217.0" font-size="7.3" text-anchor="end">20</text>
<path d="M36.0 198.3L38.4 198.3" stroke="#111" stroke-width="1.15" fill="none"/>
<text x="32.0" y="200.9" font-size="7.3" text-anchor="end">30</text>
<path d="M36.0 182.3L38.4 182.3" stroke="#111" stroke-width="1.15" fill="none"/>
<text x="32.0" y="184.9" font-size="7.3" text-anchor="end">40</text>
<path d="M36.0 166.2L38.4 166.2" stroke="#111" stroke-width="1.15" fill="none"/>
<text x="32.0" y="168.9" font-size="7.3" text-anchor="end">50</text>
<path d="M36.0 150.2L38.4 150.2" stroke="#111" stroke-width="1.15" fill="none"/>
<text x="32.0" y="152.8" font-size="7.3" text-anchor="end">60</text>
<path d="M38.4 246.4L155.8 246.4" stroke="#111" stroke-width="1.15" fill="none"/>
<path d="M38.4 246.4L38.4 248.6" stroke="#111" stroke-width="1.15" fill="none"/>
<path d="M77.3 246.4L77.3 248.6" stroke="#111" stroke-width="1.15" fill="none"/>
<path d="M116.4 246.4L116.4 248.6" stroke="#111" stroke-width="1.15" fill="none"/>
<path d="M155.8 246.4L155.8 248.6" stroke="#111" stroke-width="1.15" fill="none"/>
<text x="18.7" y="198.9" font-size="7.8" text-anchor="middle" transform="rotate(-90 18.7 198.9)" textLength="35.4" lengthAdjust="spacingAndGlyphs">B cells (%)</text>
<text x="57.9" y="256.1" font-size="7.2" text-anchor="middle">SPL</text>
<text x="96.7" y="256.1" font-size="7.2" text-anchor="middle">pLN</text>
<text x="135.8" y="256.1" font-size="7.2" text-anchor="middle">mLN</text>
<path d="M52.4 168.6L52.4 172.7" stroke="#111" stroke-width="0.9" fill="none"/>
<path d="M49.5 168.6L55.3 168.6" stroke="#111" stroke-width="0.9" fill="none"/>
<rect x="47.2" y="173.3" width="10.4" height="73.1" fill="#fff" stroke="#111" stroke-width="1.25"/>
<path d="M63.8 192.0L63.8 195.1" stroke="#111" stroke-width="0.9" fill="none"/>
<path d="M61.0 192.0L66.6 192.0" stroke="#111" stroke-width="0.9" fill="none"/>
<rect x="58.2" y="195.1" width="11.2" height="51.3" fill="#0a0a0a" stroke="none" stroke-width="0"/>
<path d="M91.0 196.0L91.0 197.8" stroke="#111" stroke-width="0.9" fill="none"/>
<path d="M88.0 196.0L94.0 196.0" stroke="#111" stroke-width="0.9" fill="none"/>
<rect x="85.6" y="198.5" width="10.8" height="47.9" fill="#fff" stroke="#111" stroke-width="1.25"/>
<path d="M102.5 216.4L102.5 220.0" stroke="#111" stroke-width="0.9" fill="none"/>
<path d="M99.8 216.4L105.3 216.4" stroke="#111" stroke-width="0.9" fill="none"/>
<rect x="97.0" y="220.0" width="11.1" height="26.4" fill="#0a0a0a" stroke="none" stroke-width="0"/>
<path d="M129.9 184.2L129.9 189.5" stroke="#111" stroke-width="0.9" fill="none"/>
<path d="M127.0 184.2L132.9 184.2" stroke="#111" stroke-width="0.9" fill="none"/>
<rect x="124.6" y="190.1" width="10.6" height="56.3" fill="#fff" stroke="#111" stroke-width="1.25"/>
<path d="M141.6 211.6L141.6 216.4" stroke="#111" stroke-width="0.9" fill="none"/>
<path d="M138.7 211.6L144.4 211.6" stroke="#111" stroke-width="0.9" fill="none"/>
<rect x="135.8" y="216.4" width="11.5" height="30.0" fill="#0a0a0a" stroke="none" stroke-width="0"/>
<text x="70.0" y="185.0" font-size="6.5" text-anchor="middle" font-weight="bold">***</text>
<text x="106.8" y="209.9" font-size="6.5" text-anchor="middle" font-weight="bold">***</text>
<text x="148.3" y="209.5" font-size="6.5" text-anchor="middle" font-weight="bold">***</text>
<rect x="78.0" y="154.5" width="3.8" height="3.4" fill="#fff" stroke="#111" stroke-width="1.4"/>
<text x="83.2" y="158.6" font-size="7.8" text-anchor="start">WT</text>
<rect x="77.9" y="163.8" width="4.5" height="4.4" fill="#0a0a0a" stroke="none" stroke-width="1"/>
<text x="83.8" y="168.7" font-size="7.8" text-anchor="start" textLength="28.2" lengthAdjust="spacingAndGlyphs">Wip1KO</text>
<path d="M190.1 149.2L190.1 244.4" stroke="#111" stroke-width="1.15" fill="none"/>
<path d="M187.7 244.4L190.1 244.4" stroke="#111" stroke-width="1.15" fill="none"/>
<text x="183.5" y="247.0" font-size="7.3" text-anchor="end">0</text>
<path d="M187.7 230.8L190.1 230.8" stroke="#111" stroke-width="1.15" fill="none"/>
<text x="183.5" y="233.4" font-size="7.3" text-anchor="end">5</text>
<path d="M187.7 217.2L190.1 217.2" stroke="#111" stroke-width="1.15" fill="none"/>
<text x="183.5" y="219.8" font-size="7.3" text-anchor="end">10</text>
<path d="M187.7 203.6L190.1 203.6" stroke="#111" stroke-width="1.15" fill="none"/>
<text x="183.5" y="206.2" font-size="7.3" text-anchor="end">15</text>
<path d="M187.7 190.0L190.1 190.0" stroke="#111" stroke-width="1.15" fill="none"/>
<text x="183.5" y="192.6" font-size="7.3" text-anchor="end">20</text>
<path d="M187.7 176.4L190.1 176.4" stroke="#111" stroke-width="1.15" fill="none"/>
<text x="183.5" y="179.0" font-size="7.3" text-anchor="end">25</text>
<path d="M187.7 162.8L190.1 162.8" stroke="#111" stroke-width="1.15" fill="none"/>
<text x="183.5" y="165.4" font-size="7.3" text-anchor="end">30</text>
<path d="M187.7 149.2L190.1 149.2" stroke="#111" stroke-width="1.15" fill="none"/>
<text x="183.5" y="151.8" font-size="7.3" text-anchor="end">35</text>
<path d="M190.1 244.4L295.7 244.4" stroke="#111" stroke-width="1.15" fill="none"/>
<path d="M190.1 244.4L190.1 246.6" stroke="#111" stroke-width="1.15" fill="none"/>
<path d="M225.0 244.4L225.0 246.6" stroke="#111" stroke-width="1.15" fill="none"/>
<path d="M260.3 244.4L260.3 246.6" stroke="#111" stroke-width="1.15" fill="none"/>
<path d="M295.7 244.4L295.7 246.6" stroke="#111" stroke-width="1.15" fill="none"/>
<text x="173.8" y="232.4" font-size="7.3" text-anchor="start" transform="rotate(-90 173.8 232.4)" textLength="45.0" lengthAdjust="spacingAndGlyphs">No. of B cells</text>
<text x="173.8" y="180.6" font-size="6.4" text-anchor="start" transform="rotate(-90 173.8 180.6)" textLength="23.0" lengthAdjust="spacing">(×10<tspan font-size="4" dy="-2.2">6</tspan><tspan dy="2.2">)</tspan></text>
<text x="207.4" y="255.3" font-size="7.2" text-anchor="middle">SPL</text>
<text x="242.4" y="255.3" font-size="7.2" text-anchor="middle">pLN</text>
<text x="277.8" y="255.3" font-size="7.2" text-anchor="middle">mLN</text>
<path d="M202.6 160.2L202.6 165.5" stroke="#111" stroke-width="0.9" fill="none"/>
<path d="M199.8 160.2L205.3 160.2" stroke="#111" stroke-width="0.9" fill="none"/>
<rect x="197.7" y="166.1" width="9.7" height="78.3" fill="#fff" stroke="#111" stroke-width="1.25"/>
<path d="M213.0 178.6L213.0 187.3" stroke="#111" stroke-width="0.9" fill="none"/>
<path d="M210.5 178.6L215.5 178.6" stroke="#111" stroke-width="0.9" fill="none"/>
<rect x="208.0" y="187.3" width="10.0" height="57.1" fill="#0a0a0a" stroke="none" stroke-width="0"/>
<path d="M237.8 220.3L237.8 226.2" stroke="#111" stroke-width="0.9" fill="none"/>
<path d="M235.3 220.3L240.4 220.3" stroke="#111" stroke-width="0.9" fill="none"/>
<rect x="233.3" y="226.8" width="9.1" height="17.6" fill="#fff" stroke="#111" stroke-width="1.25"/>
<path d="M247.8 229.8L247.8 232.7" stroke="#111" stroke-width="0.9" fill="none"/>
<path d="M245.4 229.8L250.1 229.8" stroke="#111" stroke-width="0.9" fill="none"/>
<rect x="243.0" y="232.7" width="9.5" height="11.7" fill="#0a0a0a" stroke="none" stroke-width="0"/>
<path d="M272.5 229.4L272.5 232.4" stroke="#111" stroke-width="0.9" fill="none"/>
<path d="M269.8 229.4L275.2 229.4" stroke="#111" stroke-width="0.9" fill="none"/>
<rect x="267.7" y="233.1" width="9.5" height="11.3" fill="#fff" stroke="#111" stroke-width="1.25"/>
<path d="M282.9 236.0L282.9 238.1" stroke="#111" stroke-width="0.9" fill="none"/>
<path d="M280.4 236.0L285.4 236.0" stroke="#111" stroke-width="0.9" fill="none"/>
<rect x="277.9" y="238.1" width="10.0" height="6.3" fill="#0a0a0a" stroke="none" stroke-width="0"/>
<text x="214.5" y="174.8" font-size="6.5" text-anchor="middle" font-weight="bold">**</text>
<text x="251.6" y="226.6" font-size="6.5" text-anchor="middle" font-weight="bold">***</text>
<text x="285.7" y="231.5" font-size="6.5" text-anchor="middle" font-weight="bold">***</text>
<clipPath id="c9"><rect x="323.3" y="148.0" width="57.4" height="47.7"/></clipPath><g clip-path="url(#c9)"><g filter="url(#bl)">
<ellipse cx="336.0" cy="186.0" rx="21.0" ry="18.0" fill="url(#g)" opacity="0.55"/>
<ellipse cx="335.0" cy="187.0" rx="15.0" ry="13.5" fill="url(#h)" opacity="1.0"/>
<ellipse cx="335.0" cy="187.0" rx="10.5" ry="9.5" fill="url(#h)" opacity="1.0"/>
<ellipse cx="335.0" cy="187.0" rx="7.0" ry="6.4" fill="url(#h)" opacity="1.0"/>
<path d="M337.8 184.4h.7M329.0 185.9h.7M342.6 179.4h.7M337.1 188.2h.7M335.9 187.8h.7M338.4 183.6h.7M336.5 183.9h.7M333.7 189.2h.7M332.5 193.6h.7M331.9 189.9h.7M328.8 183.7h.7M345.6 188.6h.7M332.8 193.1h.7M334.6 190.9h.7M332.3 189.3h.7M339.9 189.7h.7M335.6 184.8h.7M324.8 186.1h.7M332.6 193.3h.7M329.0 187.4h.7M333.4 182.4h.7M339.8 187.5h.7M336.7 187.3h.7M339.9 185.5h.7M335.9 187.5h.7M330.3 185.7h.7M335.0 189.7h.7M331.1 189.8h.7M333.2 188.5h.7M333.9 186.1h.7M330.3 190.7h.7M337.9 187.3h.7M330.6 192.7h.7M342.6 191.2h.7M346.5 187.0h.7M348.6 184.1h.7M328.4 190.6h.7M337.8 192.5h.7M333.3 188.8h.7M344.3 183.5h.7M335.9 182.1h.7M341.6 184.7h.7M330.9 193.8h.7M344.5 181.9h.7M332.3 177.5h.7M337.1 184.4h.7M336.5 188.7h.7M336.5 181.1h.7M331.4 190.0h.7M339.6 186.7h.7M342.6 182.5h.7M339.2 180.6h.7M339.0 191.5h.7M334.8 190.9h.7M336.2 192.8h.7M338.9 185.1h.7M332.0 186.3h.7M333.6 191.2h.7M328.6 192.4h.7M333.2 187.2h.7M340.2 182.4h.7M336.8 188.3h.7M340.2 185.5h.7M336.1 184.0h.7M333.2 186.1h.7M327.5 188.2h.7M334.3 189.2h.7M339.1 179.1h.7M332.3 187.5h.7M342.2 184.8h.7M332.7 183.0h.7M334.7 192.5h.7M339.5 188.9h.7M331.1 187.2h.7M332.6 187.8h.7M332.5 183.8h.7M338.8 178.9h.7M337.1 184.3h.7M340.0 187.3h.7M326.7 184.4h.7M331.3 185.4h.7M329.3 189.2h.7M333.4 187.5h.7M337.6 188.1h.7M342.2 189.6h.7M340.1 180.0h.7M336.0 187.4h.7M329.3 182.0h.7M331.2 192.3h.7M335.7 189.0h.7M333.4 192.5h.7M339.2 190.6h.7M341.4 179.7h.7M333.7 180.9h.7M335.3 194.0h.7M333.7 184.0h.7M339.5 186.7h.7M328.7 192.9h.7M330.7 191.3h.7M337.2 194.9h.7M327.1 184.4h.7M329.7 184.4h.7M338.1 193.8h.7M341.8 187.5h.7M336.2 190.9h.7M328.7 186.5h.7M342.1 193.7h.7M326.9 194.7h.7M338.2 190.2h.7M337.2 191.8h.7M344.5 178.3h.7M336.7 181.3h.7M336.3 185.7h.7M326.5 187.9h.7M336.8 192.0h.7M333.3 186.6h.7M326.8 188.7h.7M332.2 185.6h.7M340.0 186.8h.7M338.2 188.3h.7M340.0 183.2h.7M337.8 181.7h.7M330.5 181.2h.7M338.5 187.0h.7M332.8 186.6h.7M333.7 187.8h.7M325.5 192.5h.7M340.1 181.4h.7M341.5 186.2h.7M338.8 182.7h.7M339.5 190.2h.7M333.9 183.0h.7M338.2 178.5h.7M340.8 189.1h.7M332.4 179.3h.7M338.0 185.6h.7M332.2 190.5h.7M336.5 184.4h.7M345.8 183.1h.7M336.4 192.6h.7M343.0 193.7h.7M327.6 187.3h.7M333.2 189.9h.7M330.8 184.8h.7M324.5 178.7h.7M331.2 188.8h.7M330.2 187.5h.7M326.8 180.8h.7M335.1 183.6h.7M340.1 180.1h.7M337.9 182.6h.7M332.4 179.7h.7M335.1 185.1h.7M340.4 189.4h.7M340.9 181.2h.7M326.8 184.9h.7M338.4 182.7h.7M337.4 186.1h.7M339.7 189.1h.7M345.4 190.8h.7M336.1 186.9h.7M336.2 185.7h.7M337.9 184.7h.7M332.0 187.8h.7M325.7 190.7h.7M336.8 191.2h.7M334.1 190.5h.7M333.9 189.3h.7M328.3 183.7h.7M331.5 187.1h.7M333.9 191.8h.7M327.3 183.1h.7M338.5 181.1h.7M337.0 187.5h.7M336.5 184.7h.7M335.2 185.4h.7M335.4 180.3h.7M330.6 190.9h.7M335.6 188.4h.7M335.6 189.5h.7M330.3 185.9h.7M330.5 186.6h.7M343.0 186.1h.7M342.8 188.6h.7M330.1 185.6h.7M332.3 177.9h.7M346.8 190.0h.7M336.1 180.3h.7M335.9 176.4h.7M342.3 189.3h.7M332.3 186.4h.7M344.7 176.2h.7M329.8 186.8h.7M336.8 184.2h.7M337.5 186.5h.7M329.8 185.2h.7M337.4 191.2h.7M337.6 178.0h.7M338.6 186.6h.7M337.0 186.4h.7M341.6 192.7h.7M330.0 184.3h.7M340.5 188.3h.7M330.4 190.4h.7M339.8 189.4h.7M329.8 184.7h.7M339.8 188.2h.7M328.1 187.0h.7M331.4 185.8h.7M333.1 187.1h.7M337.2 188.7h.7M334.1 186.8h.7M327.8 187.6h.7M324.6 181.6h.7M333.6 191.7h.7M338.8 181.6h.7M335.4 193.3h.7M332.3 186.5h.7M341.8 188.4h.7M339.2 189.4h.7M335.9 176.5h.7M335.3 186.0h.7M329.6 192.8h.7M339.1 190.1h.7M336.3 189.7h.7M332.9 179.2h.7M328.2 189.3h.7M340.0 189.9h.7M330.0 191.5h.7M326.4 185.7h.7M332.5 181.2h.7M331.2 190.9h.7M335.9 189.5h.7M331.5 187.6h.7M323.9 178.8h.7M335.3 191.8h.7M337.9 182.3h.7M340.2 187.4h.7M339.0 183.6h.7M324.9 188.7h.7M335.0 179.1h.7M336.1 191.1h.7M336.0 183.3h.7M339.1 189.4h.7M337.0 186.1h.7M339.8 192.3h.7M339.0 185.0h.7M333.3 184.5h.7M341.7 186.9h.7M336.3 185.1h.7M334.6 186.4h.7M327.4 182.2h.7M328.8 189.0h.7M337.6 185.2h.7M336.1 181.4h.7M333.1 188.0h.7M334.9 184.4h.7M333.6 186.8h.7M343.8 186.0h.7M324.0 186.3h.7M341.3 187.7h.7M343.6 190.5h.7M334.8 188.8h.7M334.2 184.4h.7M325.8 188.2h.7M343.4 187.5h.7M333.7 180.6h.7M340.7 183.9h.7M335.9 184.7h.7M342.2 190.2h.7M338.2 188.1h.7M334.3 194.1h.7M336.1 190.9h.7M332.3 186.9h.7M332.6 187.8h.7M336.2 181.6h.7M340.5 189.4h.7M338.5 188.3h.7M333.5 184.7h.7M335.5 189.3h.7M334.1 182.9h.7M336.9 187.3h.7M326.7 194.9h.7M331.8 190.3h.7M333.9 191.2h.7M346.8 186.0h.7M341.5 184.8h.7M338.9 186.0h.7M336.4 184.7h.7M336.6 183.7h.7M335.5 187.3h.7M328.4 186.5h.7M337.5 172.2h.7M333.1 181.9h.7M338.1 191.4h.7M328.7 181.8h.7M348.6 187.3h.7M334.1 194.7h.7M343.3 185.6h.7M339.2 180.9h.7M340.7 185.7h.7M335.4 181.5h.7M329.7 185.3h.7M337.9 191.7h.7M337.8 189.6h.7M339.0 190.0h.7M344.3 188.1h.7M335.0 188.2h.7M331.7 186.2h.7M325.1 193.8h.7M346.5 181.2h.7M333.6 189.5h.7M330.4 183.3h.7M331.9 187.1h.7M332.8 190.1h.7M341.6 190.1h.7M337.7 192.0h.7M338.8 185.1h.7M330.5 188.6h.7M339.0 188.4h.7M332.2 187.7h.7M332.9 192.9h.7M332.7 188.3h.7M329.5 186.5h.7M327.4 185.7h.7M339.8 186.5h.7M337.2 187.1h.7M334.2 182.3h.7M343.3 190.9h.7M328.1 184.6h.7M337.0 179.5h.7M332.6 178.5h.7M341.8 182.7h.7M337.1 187.5h.7M336.9 182.3h.7M336.0 188.8h.7M336.8 186.0h.7M332.6 186.2h.7M333.0 183.9h.7M335.0 182.8h.7M334.5 178.0h.7M335.1 181.0h.7M341.1 188.8h.7M328.0 186.5h.7M329.4 179.5h.7M345.8 185.3h.7M335.2 184.7h.7M330.4 177.3h.7M337.6 184.0h.7M329.3 192.4h.7M329.5 193.2h.7M343.4 192.9h.7M333.7 189.2h.7M338.0 180.5h.7M331.0 188.3h.7M341.0 183.1h.7M333.8 186.7h.7M335.5 194.2h.7M345.1 187.9h.7M330.5 186.1h.7M333.6 192.3h.7M337.0 184.3h.7M342.0 186.5h.7M338.6 182.0h.7M335.8 178.5h.7M340.2 192.4h.7M342.5 180.0h.7M329.2 183.5h.7M331.2 187.2h.7M333.1 185.6h.7M330.2 190.0h.7M338.6 190.0h.7M341.6 193.0h.7M333.0 181.2h.7M326.8 190.8h.7M335.0 183.1h.7M329.8 187.4h.7M340.0 186.0h.7M342.5 186.6h.7M336.3 184.4h.7M331.3 192.5h.7M338.5 186.5h.7M328.0 182.7h.7M331.1 185.8h.7M336.9 195.1h.7M330.0 188.2h.7M330.0 179.7h.7M338.7 191.6h.7M332.7 180.1h.7M345.4 190.8h.7M340.5 185.6h.7M335.7 187.0h.7M340.3 188.3h.7M334.8 182.3h.7M334.2 190.1h.7M340.6 185.7h.7M335.1 191.0h.7M329.0 185.8h.7M331.4 194.2h.7M332.5 186.7h.7M339.6 181.2h.7M328.1 188.0h.7M330.4 188.6h.7M335.4 182.3h.7M330.2 190.4h.7M327.9 194.6h.7M336.1 188.2h.7M331.9 182.4h.7M333.2 180.4h.7M335.7 191.0h.7M339.2 187.2h.7M336.7 184.3h.7M333.2 179.5h.7M338.2 184.9h.7M334.8 187.1h.7M335.8 186.4h.7M335.3 188.9h.7M339.9 182.1h.7M334.4 180.6h.7M329.5 180.8h.7M336.3 195.0h.7M338.0 186.8h.7M335.0 188.8h.7M339.9 181.0h.7M350.5 190.4h.7M337.6 188.4h.7M342.0 189.8h.7M341.2 190.3h.7M339.3 187.0h.7M341.6 182.1h.7M341.4 188.4h.7M341.0 192.3h.7M340.0 186.2h.7M331.5 179.3h.7M334.3 184.8h.7M341.3 192.6h.7M327.9 183.0h.7M338.5 191.8h.7M336.0 186.6h.7M334.9 192.2h.7M331.3 190.9h.7M339.8 194.1h.7M325.2 183.2h.7M338.7 190.5h.7M343.5 186.1h.7M338.3 186.3h.7M331.5 187.1h.7M335.4 185.9h.7M340.8 180.6h.7M336.7 193.8h.7M336.0 192.5h.7M338.1 188.6h.7M344.1 192.7h.7M323.9 190.0h.7M333.3 181.8h.7M343.4 191.9h.7M338.2 187.6h.7M337.5 183.8h.7M339.0 191.6h.7M328.9 183.9h.7M336.1 184.6h.7M332.5 185.9h.7M338.7 185.5h.7M336.5 179.2h.7M325.2 180.8h.7M339.4 187.0h.7M324.1 193.9h.7M334.5 188.5h.7M339.4 186.0h.7M338.5 184.9h.7M334.6 185.1h.7M339.6 178.0h.7M325.5 181.5h.7M329.3 181.2h.7M328.9 185.4h.7M336.1 184.3h.7M337.0 185.2h.7M337.1 191.1h.7M334.2 179.0h.7M336.6 187.8h.7M344.0 194.1h.7M330.9 185.2h.7M335.4 192.6h.7M336.2 189.8h.7M341.6 188.5h.7M332.9 179.0h.7M336.9 181.0h.7M341.1 189.9h.7M333.9 186.7h.7M332.0 189.1h.7M335.0 188.0h.7M327.0 188.4h.7M333.0 192.6h.7M339.9 188.6h.7M336.3 184.8h.7M342.6 192.2h.7M331.3 185.3h.7M334.4 187.4h.7M342.9 189.7h.7M335.1 190.3h.7M342.8 193.4h.7M337.4 186.7h.7M336.9 186.7h.7M327.1 181.6h.7M338.3 187.5h.7M332.3 183.7h.7M334.7 187.6h.7M340.2 187.3h.7M329.7 186.3h.7M339.8 186.6h.7M335.7 189.9h.7M330.6 193.7h.7M345.2 180.5h.7M341.9 185.0h.7M335.7 192.9h.7M337.4 176.7h.7M328.5 187.8h.7M326.9 187.7h.7M340.5 178.1h.7M339.0 183.0h.7M346.0 187.3h.7M324.6 193.6h.7M334.4 194.5h.7M341.3 194.5h.7M329.7 186.2h.7M332.1 186.5h.7M337.6 183.3h.7M343.7 184.6h.7M330.6 193.6h.7M330.9 189.2h.7M338.5 187.7h.7M328.5 183.4h.7M345.0 192.7h.7M342.5 183.9h.7M338.0 183.5h.7M336.7 183.8h.7M331.8 185.2h.7M330.8 194.3h.7M326.0 184.7h.7M341.9 191.7h.7M331.0 193.2h.7M330.0 189.9h.7M333.8 184.3h.7M335.6 191.0h.7M339.3 184.1h.7M338.4 180.7h.7M340.5 191.4h.7M327.9 182.6h.7M333.1 186.4h.7M333.4 182.9h.7M329.4 183.0h.7M340.1 185.0h.7M334.3 191.4h.7M339.1 194.3h.7M335.9 183.1h.7M331.2 184.6h.7M337.2 186.8h.7M333.0 183.3h.7M337.3 192.6h.7M335.4 183.6h.7M337.8 179.6h.7M332.1 188.4h.7M329.9 188.7h.7M339.0 182.0h.7M337.3 188.4h.7M332.7 175.7h.7M335.4 186.0h.7M338.3 191.1h.7M330.2 175.1h.7M333.1 191.9h.7M344.6 184.0h.7M335.5 188.4h.7M346.6 182.7h.7M345.8 187.3h.7M340.7 190.9h.7M335.5 187.9h.7M338.7 188.3h.7M339.2 185.0h.7M334.3 191.2h.7M327.1 185.3h.7M342.6 189.7h.7M331.2 186.7h.7M339.5 188.6h.7M338.9 191.8h.7M333.5 192.0h.7M337.5 187.1h.7M330.5 188.3h.7M330.1 192.4h.7M335.2 181.2h.7M334.8 194.2h.7M335.6 191.1h.7M339.8 188.7h.7M335.9 180.2h.7M336.0 189.7h.7M334.5 189.6h.7M333.2 187.4h.7M333.0 180.6h.7M332.7 175.7h.7M332.3 187.2h.7M342.5 186.1h.7M333.4 184.8h.7M332.6 186.7h.7M335.4 181.1h.7M337.0 186.0h.7M339.3 183.7h.7M335.0 190.7h.7M329.1 187.9h.7M327.9 187.5h.7M336.2 182.5h.7M330.6 185.6h.7M336.1 195.2h.7M335.7 184.5h.7M336.3 182.2h.7M336.5 188.9h.7M334.4 191.7h.7M343.0 186.3h.7M334.7 185.5h.7M336.3 193.4h.7M331.4 193.7h.7M345.1 188.9h.7M327.7 183.9h.7M333.2 190.5h.7M334.7 186.3h.7M338.8 192.6h.7M328.4 192.3h.7M335.1 182.4h.7M330.6 183.5h.7M332.9 189.8h.7M337.5 188.5h.7M338.8 185.7h.7M328.7 180.6h.7M334.1 190.0h.7M338.3 184.2h.7M342.2 190.0h.7M337.8 186.1h.7M335.4 189.5h.7M339.0 185.0h.7M333.8 189.3h.7M333.7 193.8h.7M327.9 190.6h.7M330.6 186.1h.7M329.4 191.3h.7M341.0 187.7h.7M330.4 183.5h.7M338.5 192.3h.7M332.1 172.8h.7M339.4 190.3h.7M336.1 191.0h.7M333.6 191.4h.7M330.7 183.4h.7M336.4 187.6h.7M332.4 185.6h.7M331.1 189.7h.7M330.6 190.8h.7M338.7 181.9h.7M334.6 186.2h.7M329.5 189.1h.7" stroke="#111" stroke-width="0.9" opacity="0.9" fill="none"/>
<path d="M341.3 190.5h.7M335.5 183.2h.7M330.0 168.2h.7M331.6 186.8h.7M344.7 186.9h.7M341.7 183.7h.7M339.8 186.0h.7M347.2 176.1h.7M335.7 189.7h.7M333.8 192.1h.7M349.3 192.9h.7M323.8 194.8h.7M328.0 181.1h.7M338.9 181.7h.7M340.6 181.2h.7M343.1 189.5h.7M333.6 171.0h.7M331.1 192.0h.7M339.5 182.1h.7M352.0 183.1h.7M342.8 184.7h.7M332.5 191.8h.7M337.9 181.4h.7M347.2 188.0h.7M337.3 185.0h.7M339.4 179.0h.7M338.8 181.6h.7M337.2 181.3h.7M329.7 189.2h.7M324.0 180.9h.7M345.5 180.4h.7M331.4 183.2h.7M329.5 172.4h.7M351.6 186.4h.7M336.8 182.2h.7M354.9 181.2h.7M346.7 179.5h.7M337.3 179.5h.7M338.8 180.7h.7M330.8 192.2h.7M347.0 188.4h.7M332.4 182.4h.7M331.7 184.7h.7M345.6 177.8h.7M341.0 171.9h.7M327.1 190.0h.7M341.7 181.6h.7M349.7 188.8h.7M338.2 174.5h.7M344.1 177.2h.7M336.8 182.2h.7M338.0 192.8h.7M340.7 186.4h.7M331.4 178.1h.7M329.0 191.5h.7M343.6 183.8h.7M339.7 179.8h.7M341.8 183.8h.7M338.6 189.0h.7M340.0 176.8h.7M350.7 178.0h.7M337.4 181.9h.7M326.0 184.2h.7M335.4 174.4h.7M352.8 184.1h.7M334.8 179.8h.7M340.0 186.8h.7M334.6 175.3h.7M359.6 184.4h.7M350.0 191.7h.7M332.5 178.5h.7M327.2 184.6h.7M329.1 182.7h.7M337.8 194.2h.7M341.4 171.0h.7M330.5 186.7h.7M338.5 189.6h.7M339.2 179.5h.7M333.0 177.9h.7M340.5 187.2h.7M329.3 184.6h.7M327.1 190.3h.7M333.3 192.5h.7M336.2 190.6h.7M344.9 190.7h.7M331.9 167.9h.7M350.3 174.0h.7M358.8 190.0h.7M347.3 184.4h.7M332.5 194.7h.7M363.7 176.5h.7M352.2 179.9h.7M346.5 179.5h.7M328.5 184.4h.7M340.2 184.1h.7M350.2 179.5h.7M333.0 181.4h.7M346.9 192.8h.7M332.6 181.4h.7M324.8 174.5h.7M324.9 187.1h.7M358.5 177.4h.7M350.0 170.2h.7M334.3 173.3h.7M329.2 179.4h.7M339.2 176.4h.7M338.4 173.7h.7M324.6 184.4h.7M329.2 186.2h.7M334.8 164.9h.7M343.8 184.1h.7M351.5 173.1h.7M355.5 180.7h.7M348.5 190.8h.7M360.0 181.3h.7M337.1 177.2h.7M341.4 185.6h.7M332.0 182.5h.7M339.6 183.4h.7M352.2 172.7h.7M348.2 193.0h.7M334.1 186.8h.7M328.1 172.3h.7M337.8 191.1h.7M338.6 182.8h.7M346.1 193.6h.7M341.9 189.7h.7M334.3 175.5h.7M355.9 194.3h.7M333.4 178.8h.7M337.2 182.3h.7M353.1 168.8h.7M333.5 192.7h.7M337.3 178.4h.7M337.4 185.3h.7M350.4 169.8h.7M354.2 185.9h.7M345.6 192.4h.7M350.3 185.5h.7M358.0 176.9h.7M326.3 167.8h.7M349.8 184.9h.7M332.5 184.7h.7M347.8 187.9h.7M339.1 187.9h.7M342.9 189.6h.7M340.2 190.8h.7M333.2 181.2h.7M346.9 190.9h.7M336.7 179.5h.7M337.3 181.6h.7M346.9 181.5h.7M326.0 179.6h.7M339.1 188.0h.7M343.2 190.8h.7M336.1 189.7h.7M348.7 183.4h.7M344.7 191.8h.7M352.5 177.7h.7M332.3 189.0h.7M340.1 178.4h.7M333.3 193.2h.7M338.3 184.8h.7M355.5 176.6h.7M328.8 183.4h.7M334.7 184.5h.7M344.9 184.8h.7M350.4 188.8h.7M342.2 184.4h.7M343.8 183.0h.7M339.9 179.5h.7M339.7 183.3h.7M347.7 179.4h.7M326.3 191.9h.7M334.0 186.7h.7M342.7 170.7h.7M335.1 191.1h.7M339.1 185.0h.7M332.2 188.1h.7M342.5 185.1h.7M346.6 186.6h.7M338.9 183.2h.7M332.3 185.9h.7M326.3 165.8h.7M346.3 179.2h.7M338.1 173.0h.7M335.2 178.6h.7M337.3 177.2h.7M341.0 188.8h.7M350.6 182.9h.7M333.5 170.8h.7M327.3 184.1h.7M330.5 178.2h.7M332.8 188.3h.7M349.3 191.4h.7M348.5 183.0h.7M328.8 184.0h.7M346.9 188.1h.7M336.3 181.5h.7M330.8 185.1h.7M337.9 176.4h.7M324.6 194.6h.7M330.0 180.5h.7M346.7 177.1h.7M340.5 178.6h.7M345.1 177.8h.7M358.9 184.7h.7M324.9 176.5h.7M334.8 178.1h.7M327.0 186.4h.7M344.4 180.9h.7M341.6 190.8h.7M330.8 185.2h.7M340.4 175.7h.7M333.7 177.2h.7M324.6 194.4h.7M324.6 177.4h.7M336.0 191.1h.7M328.9 185.7h.7M340.7 186.3h.7M329.5 189.6h.7M334.9 189.1h.7M351.8 179.0h.7M336.8 190.5h.7M358.0 182.7h.7M334.6 178.6h.7M332.9 183.9h.7M361.1 175.0h.7M344.0 179.9h.7M326.0 191.0h.7M338.7 168.5h.7M334.7 181.7h.7M334.6 184.4h.7M336.4 181.5h.7M348.4 177.1h.7M338.7 174.1h.7M339.5 183.4h.7M335.8 174.6h.7M333.3 180.6h.7M333.4 191.5h.7M341.3 183.8h.7M341.1 193.6h.7M356.7 165.5h.7M337.7 187.2h.7M343.0 171.6h.7M330.1 175.3h.7M344.3 179.3h.7M352.3 181.0h.7M328.6 183.5h.7M341.2 188.8h.7M330.9 193.6h.7M340.1 184.0h.7M331.2 183.9h.7M330.4 193.4h.7M348.5 183.9h.7M334.4 191.7h.7M333.3 183.8h.7M351.2 186.8h.7M332.9 187.2h.7M342.8 176.7h.7M345.2 183.8h.7M335.3 190.2h.7M340.6 187.3h.7M339.8 180.8h.7M344.3 194.5h.7M338.6 177.1h.7M337.5 179.8h.7M335.4 181.1h.7M354.7 190.6h.7M334.5 186.4h.7M347.9 194.5h.7M341.2 191.2h.7M343.0 184.6h.7M339.4 181.0h.7M336.6 171.5h.7M335.5 188.9h.7M350.9 185.6h.7M330.8 193.2h.7M337.6 192.8h.7M325.6 193.1h.7M335.0 174.4h.7M326.6 185.6h.7M344.1 174.4h.7M333.4 186.5h.7M327.1 186.4h.7M327.5 184.7h.7M327.0 187.1h.7M333.3 179.4h.7M327.5 189.3h.7M351.2 171.2h.7M346.6 187.2h.7M344.6 179.0h.7M329.4 183.5h.7M327.7 182.5h.7M342.3 187.1h.7M342.9 178.9h.7M337.1 184.7h.7M337.8 186.0h.7M336.0 168.8h.7M334.5 189.1h.7M351.6 194.1h.7M333.6 185.2h.7M326.0 195.2h.7M343.1 189.7h.7M338.7 191.4h.7M336.5 182.3h.7M339.3 182.3h.7M335.6 180.6h.7M332.9 179.8h.7M345.4 187.9h.7M332.7 178.6h.7M332.3 190.3h.7M331.6 187.7h.7M325.4 185.8h.7M335.2 174.1h.7M331.5 178.9h.7M338.4 176.5h.7M341.7 192.7h.7M338.2 189.3h.7M339.9 180.9h.7M338.6 193.9h.7M339.8 188.6h.7M328.7 176.8h.7M346.7 188.4h.7M329.3 193.0h.7M341.1 183.8h.7M337.5 183.5h.7M336.2 187.2h.7M325.1 192.7h.7M330.5 182.1h.7M332.6 190.0h.7M332.5 188.0h.7M325.0 190.6h.7M336.5 186.3h.7M344.2 192.2h.7M334.7 177.1h.7M337.5 176.7h.7M336.0 183.3h.7M334.9 191.6h.7M336.6 177.5h.7M333.5 180.2h.7M347.7 185.8h.7M335.4 183.7h.7" stroke="#111" stroke-width="0.8" opacity="0.5" fill="none"/>
<ellipse cx="355.9" cy="176.5" rx="9.0" ry="5.0" fill="url(#g)" opacity="0.6499999999999999" transform="rotate(-24 355.9 176.5)"/>
<ellipse cx="353.4" cy="177.3" rx="4.6" ry="3.6" fill="url(#h)" opacity="1.0"/>
<ellipse cx="361.9" cy="173.7" rx="3.4" ry="3.0" fill="url(#h)" opacity="1.0" transform="rotate(-30 361.9 173.7)"/>
<path d="M347.0 180.5h.7M353.9 177.2h.7M357.0 176.7h.7M352.7 180.5h.7M349.0 176.6h.7M359.4 176.6h.7M358.0 176.2h.7M352.1 179.0h.7M357.9 174.3h.7M357.4 174.5h.7M360.1 178.2h.7M359.0 179.1h.7M358.7 176.2h.7M352.6 176.1h.7M359.0 176.1h.7M363.1 173.8h.7M353.5 177.2h.7M358.0 176.8h.7M358.8 172.9h.7M357.0 176.9h.7M358.3 173.2h.7M351.8 180.2h.7M356.2 178.0h.7M356.5 174.6h.7M356.4 177.4h.7M353.9 174.6h.7M355.8 176.0h.7M356.1 177.6h.7M354.3 176.5h.7M355.3 178.8h.7M359.2 176.3h.7M363.7 172.6h.7M355.9 179.1h.7M349.6 179.6h.7M355.8 173.9h.7M358.4 177.0h.7M356.8 176.3h.7M358.0 171.0h.7M355.1 175.4h.7M351.3 177.5h.7M354.3 176.3h.7M358.2 171.7h.7M354.8 179.0h.7M357.8 175.3h.7M351.0 179.5h.7M352.6 181.7h.7M352.1 177.8h.7M359.0 175.4h.7M354.3 175.5h.7M354.6 179.0h.7M353.4 175.5h.7M362.2 173.5h.7M352.9 177.4h.7M359.6 174.2h.7M356.3 180.7h.7M352.7 178.6h.7M366.5 170.7h.7M346.3 180.7h.7M360.9 174.9h.7M355.5 177.9h.7M351.1 178.1h.7M355.8 175.7h.7M366.1 172.3h.7M359.3 177.0h.7M361.9 175.4h.7M358.1 177.3h.7M352.6 180.3h.7M351.1 180.3h.7M348.9 177.2h.7M356.9 177.9h.7M350.1 179.5h.7M351.6 178.6h.7M358.1 175.7h.7M360.5 175.5h.7M351.4 177.2h.7M355.2 174.9h.7M352.7 178.4h.7M357.2 178.0h.7M352.1 177.6h.7M356.8 178.9h.7M354.9 177.0h.7M353.4 178.8h.7M346.7 178.6h.7M356.2 178.6h.7M362.5 173.5h.7M353.1 175.7h.7M354.8 174.3h.7M360.5 173.1h.7M356.3 179.2h.7M357.9 175.0h.7M349.4 178.2h.7M358.5 176.0h.7M353.0 176.7h.7M356.8 175.4h.7M351.8 177.9h.7M359.0 178.9h.7M354.8 177.7h.7M353.9 180.3h.7M354.8 176.0h.7M353.2 178.1h.7M353.7 180.4h.7M355.7 177.0h.7M353.6 177.1h.7M351.3 178.1h.7M356.0 177.9h.7M356.9 175.7h.7M359.0 174.0h.7M352.5 175.3h.7M356.5 174.9h.7M357.9 176.9h.7M351.3 177.8h.7M353.3 177.3h.7M352.8 178.2h.7M361.5 175.4h.7M353.3 178.0h.7M359.6 175.4h.7M352.2 179.1h.7M356.8 177.1h.7M352.8 180.5h.7M359.6 175.1h.7M353.5 178.2h.7M361.9 176.2h.7M354.6 175.7h.7M348.0 181.3h.7M356.7 177.7h.7M350.6 180.2h.7M353.0 177.3h.7M360.3 175.7h.7M354.5 177.3h.7M354.2 176.4h.7M354.4 176.2h.7M347.5 178.2h.7M360.5 176.1h.7M353.9 179.2h.7M356.8 176.5h.7M358.0 174.5h.7M358.6 177.1h.7M355.1 176.6h.7M357.5 174.7h.7M355.9 180.2h.7M353.8 177.6h.7M358.1 178.7h.7M351.8 177.4h.7M355.5 175.2h.7M358.3 178.2h.7M356.3 178.0h.7M360.7 176.1h.7M352.4 174.5h.7M358.5 178.7h.7M355.2 179.1h.7M349.6 178.4h.7M358.8 176.9h.7M356.6 175.1h.7M359.7 176.2h.7M352.3 180.6h.7M349.8 178.8h.7M355.1 176.2h.7M353.8 175.8h.7M350.4 179.1h.7M354.4 177.5h.7M351.4 176.4h.7M364.8 172.7h.7M361.3 175.7h.7M360.7 176.8h.7M359.4 175.4h.7M359.2 173.3h.7M347.4 179.5h.7M354.8 178.6h.7M356.8 174.6h.7M359.4 177.2h.7M352.7 176.6h.7M355.4 178.4h.7M356.7 174.0h.7M362.4 177.3h.7M351.3 179.3h.7M359.2 175.4h.7M353.9 175.1h.7M352.8 176.4h.7M357.3 174.2h.7M350.9 179.3h.7M354.7 176.0h.7M354.2 178.7h.7M343.2 179.2h.7M358.6 174.6h.7M353.2 178.2h.7M355.8 174.9h.7M358.6 178.8h.7M355.0 175.3h.7M357.0 173.8h.7M348.1 176.8h.7M352.6 179.6h.7M352.7 176.8h.7M359.5 174.5h.7M354.8 177.1h.7M347.9 180.7h.7M361.1 175.3h.7M359.6 176.7h.7M355.6 176.2h.7M355.6 175.9h.7M354.1 178.5h.7M349.7 178.6h.7M352.8 176.1h.7M362.5 176.1h.7M347.6 180.1h.7M364.1 174.3h.7M353.9 175.5h.7M352.1 177.6h.7M355.7 179.2h.7M357.2 176.9h.7M348.8 175.9h.7M359.9 175.3h.7M356.6 174.8h.7M359.2 175.6h.7M355.2 178.7h.7M353.1 176.7h.7M359.0 178.8h.7M359.3 176.5h.7M353.7 179.5h.7M352.3 176.7h.7M355.5 177.2h.7" stroke="#111" stroke-width="0.8" opacity="0.8" fill="none"/>
<path d="M359.4 172.5h.7M359.8 173.5h.7M361.1 175.9h.7M361.1 175.8h.7M361.4 174.3h.7M360.8 170.7h.7M359.2 175.5h.7M363.9 172.5h.7M359.4 173.2h.7M359.6 172.0h.7M362.3 175.0h.7M362.1 174.9h.7M363.2 173.9h.7M360.3 173.9h.7M361.9 174.1h.7M363.2 173.7h.7M362.5 174.3h.7M361.7 173.3h.7M361.2 172.8h.7M362.5 173.4h.7M362.5 172.9h.7M364.0 173.4h.7M361.0 171.7h.7M362.4 176.7h.7M361.5 175.4h.7M361.2 174.3h.7M363.0 173.4h.7M362.1 172.7h.7M360.8 174.9h.7M361.9 174.3h.7M360.6 174.4h.7M361.2 173.7h.7M362.8 174.1h.7M361.6 174.3h.7M359.5 173.3h.7M358.1 173.8h.7M361.5 173.7h.7M359.8 174.0h.7M360.7 172.4h.7M363.4 174.9h.7M362.0 174.2h.7M363.3 174.1h.7M364.2 175.3h.7M361.8 175.3h.7M361.6 174.1h.7M362.8 173.5h.7M359.8 171.9h.7M361.8 173.1h.7M359.6 175.6h.7M360.4 175.2h.7M359.6 174.5h.7M361.1 172.7h.7M362.4 172.9h.7M360.9 175.6h.7M361.7 175.3h.7M361.7 172.9h.7M361.0 175.2h.7M361.2 173.3h.7M362.2 174.6h.7M360.4 175.7h.7M360.3 174.7h.7M362.8 175.6h.7M362.4 172.2h.7M362.3 172.2h.7M360.9 173.1h.7M363.4 174.1h.7M360.5 175.7h.7M360.8 173.9h.7M362.5 174.3h.7M360.6 172.6h.7M363.0 174.4h.7M358.8 177.1h.7M363.1 171.9h.7M362.0 176.5h.7M360.5 175.3h.7" stroke="#111" stroke-width="0.8" opacity="0.9" fill="none"/>
<path d="M354.9 185.4h.7M357.7 186.6h.7M344.6 181.7h.7M354.5 189.0h.7M355.0 183.5h.7M369.7 193.0h.7M355.4 182.2h.7M353.2 186.4h.7M353.8 188.3h.7M351.8 187.5h.7M366.0 190.8h.7M360.0 191.9h.7M347.9 186.3h.7M344.6 185.4h.7M349.1 190.8h.7M350.1 183.5h.7M350.3 190.0h.7M354.0 190.8h.7M357.4 187.6h.7M352.7 189.4h.7M358.2 189.0h.7M348.8 187.0h.7M344.0 190.9h.7M357.3 185.6h.7M356.5 188.0h.7M350.3 188.9h.7M354.5 192.1h.7M358.8 183.0h.7M346.0 186.6h.7M351.1 185.8h.7M353.9 192.5h.7M348.9 185.5h.7M355.9 189.9h.7M350.2 185.6h.7M347.4 179.7h.7M356.1 187.6h.7M351.1 182.1h.7M356.9 189.3h.7M355.5 185.8h.7M341.9 192.5h.7M341.2 190.1h.7M345.3 187.2h.7M345.9 187.3h.7M353.8 185.9h.7M351.0 193.6h.7M339.2 187.0h.7M357.2 187.4h.7M353.4 186.3h.7M350.0 185.3h.7M347.8 187.3h.7M357.1 191.5h.7M356.9 184.4h.7M347.3 187.3h.7M356.1 187.2h.7M356.7 185.6h.7M356.3 190.4h.7M351.0 186.9h.7M356.1 191.0h.7M355.4 193.7h.7M354.7 188.2h.7M362.6 186.6h.7M358.6 185.1h.7M346.0 190.1h.7M348.4 186.8h.7M358.2 193.9h.7M353.3 188.4h.7M348.6 188.8h.7M349.9 187.3h.7M347.8 187.9h.7M354.7 194.1h.7M356.3 193.1h.7M360.2 185.9h.7M349.4 181.5h.7M361.4 184.6h.7M350.9 189.6h.7M344.0 189.7h.7M350.7 184.8h.7M343.3 190.2h.7M355.1 183.7h.7M356.8 189.3h.7M351.7 191.0h.7M346.6 187.1h.7M364.9 187.0h.7M359.5 191.5h.7M350.4 187.4h.7M351.3 191.3h.7M344.5 190.8h.7M353.6 185.2h.7M357.9 187.5h.7M344.3 182.5h.7M357.6 186.0h.7M356.4 187.8h.7M339.2 186.1h.7M355.7 187.7h.7M348.3 193.5h.7M350.5 188.8h.7M361.3 192.3h.7M343.0 186.0h.7M349.0 187.9h.7M355.0 188.4h.7M357.5 189.8h.7M362.2 191.1h.7M360.5 185.1h.7M361.5 187.5h.7M360.2 183.6h.7M342.6 190.7h.7M348.4 184.0h.7M348.2 188.1h.7M354.9 189.6h.7M345.8 184.5h.7M352.9 190.7h.7M346.1 184.6h.7M348.0 188.6h.7M356.1 185.9h.7M349.9 184.3h.7M354.4 191.3h.7M355.9 187.4h.7M346.3 186.3h.7M352.8 188.9h.7M349.0 185.6h.7M348.0 185.2h.7M357.9 186.2h.7M347.5 184.4h.7M347.6 189.4h.7M345.1 189.7h.7M344.4 186.2h.7M359.4 186.5h.7M348.3 185.4h.7M352.1 187.7h.7M346.8 190.0h.7M360.8 189.8h.7M334.5 186.6h.7M344.8 188.1h.7M356.0 179.2h.7M354.4 192.5h.7M360.3 186.6h.7M348.7 190.2h.7M353.1 188.7h.7M352.1 188.3h.7M347.8 189.5h.7M360.4 187.7h.7M349.6 185.6h.7M350.5 190.3h.7M358.0 186.3h.7M351.8 188.7h.7M355.5 183.7h.7M349.1 189.2h.7M350.3 187.4h.7M351.6 189.6h.7M352.6 181.9h.7M350.4 186.5h.7M354.9 188.5h.7M342.9 186.8h.7M349.2 189.7h.7M357.6 186.4h.7M350.6 191.8h.7M366.1 189.5h.7M341.4 182.3h.7M344.7 186.9h.7M345.2 189.0h.7M358.5 191.7h.7M361.6 187.7h.7M358.6 191.3h.7M353.8 186.5h.7M358.1 188.7h.7M348.9 191.2h.7M355.4 186.2h.7M365.9 194.3h.7M343.6 179.2h.7M347.1 188.8h.7" stroke="#111" stroke-width="0.8" opacity="0.5" fill="none"/>
<ellipse cx="354.0" cy="188.0" rx="10.0" ry="5.5" fill="url(#g)" opacity="0.35"/>
</g></g>
<rect x="323.3" y="148.0" width="57.4" height="47.7" fill="none" stroke="#111" stroke-width="1.2"/>
<rect x="346.5" y="169.3" width="19.4" height="13.3" fill="none" stroke="#111" stroke-width="0.9"/>
<text x="329.8" y="157.8" font-size="7.8" text-anchor="start">WT</text>
<text x="353.4" y="163.6" font-size="7.6" text-anchor="start">18.5</text>
<clipPath id="c10"><rect x="323.3" y="198.7" width="57.4" height="47.7"/></clipPath><g clip-path="url(#c10)"><g filter="url(#bl)">
<ellipse cx="336.0" cy="236.6" rx="21.0" ry="18.0" fill="url(#g)" opacity="0.55"/>
<ellipse cx="335.0" cy="237.6" rx="15.0" ry="13.5" fill="url(#h)" opacity="1.0"/>
<ellipse cx="335.0" cy="237.6" rx="10.5" ry="9.5" fill="url(#h)" opacity="1.0"/>
<ellipse cx="335.0" cy="237.6" rx="7.0" ry="6.4" fill="url(#h)" opacity="1.0"/>
<path d="M341.5 239.5h.7M340.2 236.6h.7M334.3 234.3h.7M337.7 236.9h.7M333.1 243.6h.7M332.0 233.3h.7M332.9 243.0h.7M329.6 229.9h.7M334.3 232.9h.7M341.1 237.0h.7M332.8 234.4h.7M336.9 240.6h.7M339.4 233.1h.7M334.4 241.4h.7M336.9 233.9h.7M336.4 242.3h.7M344.7 231.2h.7M338.4 228.9h.7M332.0 240.0h.7M334.5 237.5h.7M338.3 236.0h.7M339.8 241.8h.7M342.0 243.6h.7M329.3 239.9h.7M339.0 234.4h.7M340.8 235.5h.7M333.0 239.1h.7M327.2 240.0h.7M347.5 243.6h.7M335.4 244.3h.7M336.3 236.0h.7M336.6 236.9h.7M328.1 233.4h.7M329.9 244.6h.7M330.7 234.6h.7M339.5 237.2h.7M333.1 231.7h.7M334.3 234.8h.7M336.0 245.6h.7M337.1 238.3h.7M337.0 236.5h.7M330.5 243.2h.7M342.8 244.5h.7M332.4 230.7h.7M334.1 242.7h.7M337.3 236.9h.7M329.5 240.9h.7M331.8 231.7h.7M333.4 235.3h.7M326.7 234.0h.7M335.1 236.1h.7M333.9 232.5h.7M335.6 241.1h.7M333.8 239.2h.7M338.1 241.0h.7M337.9 241.0h.7M332.5 234.4h.7M338.8 241.2h.7M335.1 240.9h.7M338.5 236.2h.7M328.5 240.4h.7M332.4 235.4h.7M337.3 241.6h.7M336.4 243.1h.7M334.6 234.3h.7M331.4 235.4h.7M338.3 244.4h.7M335.3 235.3h.7M345.1 240.0h.7M329.1 234.5h.7M332.0 236.3h.7M340.0 237.9h.7M340.4 233.1h.7M337.0 237.1h.7M337.5 228.3h.7M346.2 236.3h.7M330.2 226.7h.7M333.3 243.1h.7M345.9 235.7h.7M330.6 237.9h.7M331.6 238.1h.7M325.2 239.5h.7M341.2 242.8h.7M327.9 239.3h.7M338.2 232.6h.7M336.2 234.4h.7M333.8 236.3h.7M336.3 232.4h.7M332.1 239.6h.7M338.9 237.9h.7M341.1 232.9h.7M334.8 245.3h.7M342.2 237.5h.7M331.4 241.3h.7M333.0 232.7h.7M333.2 240.4h.7M329.0 239.0h.7M332.9 235.5h.7M330.6 238.5h.7M331.5 242.8h.7M335.1 238.0h.7M331.4 240.8h.7M332.4 231.8h.7M332.8 237.6h.7M338.9 235.7h.7M330.9 239.9h.7M326.6 229.2h.7M336.3 240.6h.7M335.1 239.3h.7M338.8 240.2h.7M335.0 235.6h.7M329.3 229.3h.7M331.3 244.5h.7M327.6 236.7h.7M335.9 235.7h.7M346.8 241.7h.7M332.7 239.3h.7M336.6 235.0h.7M339.7 241.1h.7M334.6 234.6h.7M328.7 227.5h.7M331.7 227.4h.7M341.4 237.6h.7M329.0 236.2h.7M335.6 229.8h.7M337.7 237.3h.7M338.7 243.1h.7M336.0 237.8h.7M336.3 237.2h.7M335.7 235.5h.7M336.9 236.5h.7M347.9 240.6h.7M335.6 242.0h.7M334.8 239.5h.7M331.5 233.7h.7M325.2 240.4h.7M338.5 240.6h.7M330.3 235.1h.7M329.0 240.8h.7M332.6 236.8h.7M324.6 240.6h.7M327.6 234.1h.7M334.9 238.3h.7M336.3 234.5h.7M332.0 237.3h.7M334.7 228.7h.7M345.7 238.4h.7M328.3 233.2h.7M338.0 244.9h.7M328.9 238.2h.7M337.7 241.4h.7M332.2 236.9h.7M338.2 243.6h.7M333.9 239.5h.7M345.8 241.4h.7M340.1 230.8h.7M335.3 233.5h.7M334.7 241.9h.7M333.8 238.8h.7M332.5 228.1h.7M329.8 238.2h.7M332.2 230.2h.7M330.5 244.2h.7M337.9 235.4h.7M331.6 239.0h.7M345.2 231.7h.7M340.9 235.1h.7M335.6 234.3h.7M331.1 236.1h.7M340.2 232.7h.7M329.4 237.1h.7M334.6 236.6h.7M335.4 237.4h.7M326.0 242.2h.7M339.4 242.0h.7M337.0 240.6h.7M330.4 243.0h.7M338.1 242.2h.7M328.3 244.4h.7M328.4 236.4h.7M331.7 235.6h.7M336.2 245.1h.7M341.5 239.0h.7M348.1 230.8h.7M333.7 230.4h.7M331.9 241.9h.7M330.6 240.0h.7M332.9 233.1h.7M332.6 237.7h.7M336.2 236.6h.7M341.2 235.8h.7M336.3 236.9h.7M333.8 233.0h.7M333.5 235.6h.7M338.9 233.0h.7M335.5 236.1h.7M341.6 237.2h.7M332.0 237.9h.7M336.5 236.5h.7M335.0 234.7h.7M337.8 237.9h.7M336.5 231.5h.7M343.2 243.2h.7M331.8 227.9h.7M328.8 234.8h.7M326.1 233.0h.7M344.5 243.1h.7M334.6 230.2h.7M324.5 233.5h.7M332.9 233.9h.7M330.9 239.0h.7M342.2 237.8h.7M326.8 233.6h.7M335.6 235.1h.7M336.9 239.2h.7M335.1 235.8h.7M339.2 237.3h.7M326.5 232.7h.7M339.3 236.1h.7M329.7 234.0h.7M328.8 235.4h.7M340.5 237.3h.7M331.6 245.5h.7M332.2 234.8h.7M335.6 237.2h.7M330.9 238.3h.7M338.0 231.5h.7M328.1 237.7h.7M329.5 243.6h.7M333.7 236.4h.7M338.4 238.3h.7M335.1 235.7h.7M335.5 239.6h.7M339.3 238.6h.7M338.9 237.4h.7M338.1 236.6h.7M331.6 234.8h.7M339.4 238.8h.7M327.7 239.6h.7M333.9 234.9h.7M341.5 236.9h.7M324.1 235.5h.7M334.8 236.2h.7M333.7 242.9h.7M328.6 237.1h.7M332.2 243.3h.7M337.1 234.9h.7M329.2 237.5h.7M333.4 230.6h.7M331.6 240.1h.7M325.6 245.3h.7M338.6 243.6h.7M339.5 241.5h.7M335.2 236.5h.7M338.0 232.2h.7M325.5 236.2h.7M334.4 239.1h.7M338.2 236.4h.7M331.9 235.7h.7M334.7 235.3h.7M338.1 236.8h.7M335.1 237.7h.7M336.8 234.6h.7M339.6 238.0h.7M341.6 233.3h.7M340.7 237.1h.7M341.1 245.3h.7M334.7 240.3h.7M339.8 231.5h.7M334.9 241.1h.7M339.6 238.2h.7M331.1 234.4h.7M335.7 238.0h.7M336.5 235.5h.7M337.0 241.6h.7M334.0 240.6h.7M342.5 234.6h.7M334.3 241.6h.7M334.8 243.9h.7M331.8 238.2h.7M345.0 232.0h.7M344.4 232.9h.7M344.8 239.2h.7M331.3 232.7h.7M337.1 239.1h.7M346.6 237.3h.7M332.2 238.8h.7M340.3 234.0h.7M334.7 237.7h.7M334.9 237.2h.7M340.8 237.9h.7M343.6 239.1h.7M333.2 238.9h.7M335.3 237.4h.7M327.4 230.3h.7M326.9 236.2h.7M340.6 243.2h.7M324.1 232.7h.7M339.5 240.0h.7M335.3 244.4h.7M345.1 239.7h.7M330.5 238.3h.7M337.2 237.4h.7M335.1 245.4h.7M336.5 235.4h.7M335.0 241.1h.7M329.4 240.6h.7M339.8 227.3h.7M337.0 234.0h.7M339.1 241.0h.7M332.6 233.1h.7M346.0 233.3h.7M328.0 238.4h.7M342.9 237.2h.7M329.0 243.7h.7M333.9 242.5h.7M333.4 234.4h.7M336.4 231.4h.7M338.9 243.3h.7M340.9 239.5h.7M326.0 238.2h.7M340.3 230.9h.7M338.1 235.2h.7M326.4 239.9h.7M337.5 238.9h.7M328.4 236.5h.7M343.6 242.8h.7M340.1 228.1h.7M339.5 237.1h.7M334.3 236.7h.7M330.7 243.5h.7M335.7 235.4h.7M340.0 234.1h.7M336.0 234.6h.7M331.1 240.3h.7M335.7 234.2h.7M337.7 235.5h.7M342.8 236.0h.7M341.3 236.1h.7M332.4 235.1h.7M336.1 236.9h.7M332.2 238.6h.7M329.5 238.2h.7M335.9 241.8h.7M332.4 242.3h.7M335.9 241.0h.7M333.7 240.5h.7M335.4 230.0h.7M336.9 232.1h.7M329.7 234.5h.7M333.1 240.0h.7M329.7 236.9h.7M336.2 239.3h.7M326.4 238.5h.7M332.0 232.1h.7M334.4 241.6h.7M334.6 240.3h.7M329.7 243.1h.7M334.8 240.7h.7M331.8 235.6h.7M335.2 238.9h.7M332.0 238.6h.7M339.4 244.7h.7M344.1 239.3h.7M338.8 236.1h.7M339.6 240.1h.7M341.9 234.8h.7M333.5 244.5h.7M332.3 239.7h.7M328.0 236.1h.7M340.9 243.9h.7M332.6 233.4h.7M337.0 231.7h.7M335.3 245.2h.7M344.6 235.8h.7M331.9 238.7h.7M328.5 238.2h.7M335.3 230.0h.7M331.9 236.8h.7M326.8 239.5h.7M334.5 234.4h.7M335.8 241.9h.7M331.9 240.4h.7M334.0 233.2h.7M328.9 238.0h.7M329.2 232.6h.7M332.2 240.0h.7M332.5 229.3h.7M341.6 233.6h.7M331.1 240.5h.7M336.2 241.1h.7M331.1 236.7h.7M336.1 229.2h.7M336.0 242.0h.7M333.3 238.6h.7M324.8 240.9h.7M332.3 244.6h.7M332.8 233.4h.7M340.7 237.8h.7M327.0 234.6h.7M334.2 240.1h.7M347.6 238.6h.7M340.4 235.3h.7M341.6 228.4h.7M343.9 239.4h.7M342.7 237.1h.7M330.4 229.7h.7M340.1 237.6h.7M337.3 236.9h.7M333.0 240.7h.7M336.4 244.6h.7M334.9 236.6h.7M341.4 235.2h.7M336.2 234.0h.7M339.2 234.8h.7M330.8 230.9h.7M329.1 235.3h.7M326.5 236.1h.7M338.3 243.3h.7M336.3 234.4h.7M344.7 245.4h.7M331.5 236.7h.7M334.6 238.5h.7M334.9 234.7h.7M340.8 241.3h.7M330.6 237.0h.7M335.4 233.4h.7M345.8 233.9h.7M340.5 233.9h.7M332.4 236.1h.7M334.5 239.5h.7M345.3 239.4h.7M329.7 234.1h.7M338.1 236.4h.7M338.1 236.7h.7M339.8 227.7h.7M331.3 236.4h.7M325.4 234.9h.7M336.0 240.5h.7M336.7 235.5h.7M328.5 238.4h.7M330.3 234.4h.7M333.5 232.2h.7M333.4 240.0h.7M331.8 240.2h.7M331.2 235.7h.7M339.1 234.0h.7M340.3 242.8h.7M340.2 230.9h.7M326.7 235.0h.7M334.8 235.5h.7M334.6 236.4h.7M330.9 242.6h.7M332.5 237.3h.7M337.5 234.2h.7M342.5 238.2h.7M331.9 236.2h.7M334.1 239.6h.7M340.2 227.5h.7M333.2 240.2h.7M345.3 228.5h.7M337.8 235.9h.7M324.7 237.5h.7M333.7 228.8h.7M332.6 237.5h.7M335.9 235.5h.7M335.3 241.6h.7M331.6 238.0h.7M336.0 235.2h.7M336.5 234.4h.7M328.6 242.5h.7M333.1 244.4h.7M335.3 237.7h.7M334.6 230.4h.7M325.0 234.4h.7M332.7 233.6h.7M337.1 241.9h.7M336.3 236.9h.7M326.7 242.6h.7M330.1 242.1h.7M340.4 235.1h.7M329.0 235.4h.7M328.2 230.9h.7M335.7 240.2h.7M335.3 230.9h.7M344.4 239.7h.7M344.0 242.7h.7M336.9 239.3h.7M336.4 241.0h.7M343.4 241.6h.7M327.6 244.7h.7M327.2 242.6h.7M330.7 234.1h.7M338.4 229.8h.7M336.8 244.3h.7M339.5 233.3h.7M336.2 236.6h.7M333.5 236.1h.7M330.1 235.0h.7M326.2 231.9h.7M341.9 232.3h.7M333.8 242.9h.7M342.1 243.8h.7M333.7 233.2h.7M339.6 232.0h.7M326.4 236.8h.7M332.2 235.5h.7M333.4 237.9h.7M339.6 237.4h.7M327.0 233.4h.7M335.1 242.0h.7M329.7 234.9h.7M342.0 232.3h.7M330.9 239.9h.7M325.9 238.2h.7M327.6 228.8h.7M340.2 223.4h.7M328.0 237.3h.7M334.3 233.3h.7M334.3 238.3h.7M338.1 233.6h.7M342.3 244.1h.7M335.4 234.1h.7M334.7 237.8h.7M329.7 237.6h.7M334.0 239.4h.7M336.3 244.5h.7M339.5 236.6h.7M345.2 242.4h.7M330.6 230.3h.7M334.9 241.7h.7M330.4 240.7h.7M342.3 235.3h.7M333.8 242.7h.7M335.2 233.0h.7M336.9 228.1h.7M341.8 239.0h.7M329.9 235.1h.7M336.4 231.2h.7M335.5 240.8h.7M339.2 232.6h.7M337.1 233.9h.7M324.6 234.7h.7M335.7 230.4h.7M335.6 234.1h.7M335.4 237.3h.7M338.0 236.6h.7M336.8 235.4h.7M329.6 237.2h.7M334.1 245.3h.7M336.2 239.1h.7M334.1 231.6h.7M337.6 237.8h.7M336.9 235.7h.7M334.5 234.6h.7M337.4 243.1h.7M349.4 230.1h.7M334.1 235.5h.7M341.7 236.7h.7M327.5 232.9h.7M328.3 229.5h.7M330.6 239.0h.7M329.3 240.0h.7M338.5 243.4h.7M330.6 240.4h.7M329.0 236.8h.7M342.2 240.0h.7M336.7 243.4h.7M334.7 243.2h.7M336.5 238.8h.7M330.2 239.1h.7M332.5 236.1h.7M331.7 241.2h.7M339.5 241.3h.7M333.4 238.3h.7M338.9 236.1h.7M334.3 238.0h.7M332.2 238.4h.7M336.6 245.1h.7M330.3 232.5h.7M338.5 236.5h.7M328.9 230.2h.7M333.0 223.4h.7M329.2 240.2h.7M337.6 233.3h.7M339.2 236.5h.7M332.7 233.7h.7M333.1 243.6h.7M336.7 237.1h.7M340.0 241.1h.7M337.9 240.3h.7M342.5 244.1h.7M345.2 241.8h.7M334.6 234.0h.7M340.9 235.4h.7M340.8 238.9h.7M337.9 239.9h.7M340.0 233.2h.7M335.6 242.5h.7M329.8 242.1h.7M336.1 233.3h.7M334.2 232.5h.7M330.7 234.7h.7M338.9 237.1h.7M332.1 238.5h.7M335.6 233.6h.7M342.3 238.5h.7M332.9 237.6h.7M337.7 238.1h.7M346.3 237.5h.7M328.1 245.7h.7M334.2 236.8h.7M340.2 238.0h.7M325.3 228.1h.7M329.4 238.5h.7M338.1 237.7h.7M331.6 229.5h.7M333.4 237.4h.7M338.9 230.1h.7M325.2 226.8h.7M331.4 239.4h.7M334.9 234.3h.7M337.2 231.5h.7M335.0 231.1h.7M333.7 234.1h.7M326.9 236.4h.7M345.2 238.5h.7M337.3 238.6h.7M332.2 237.4h.7M333.4 231.9h.7M326.4 235.7h.7M349.2 230.0h.7M334.2 237.5h.7M336.1 225.1h.7M328.9 240.7h.7M342.8 242.1h.7M339.6 235.0h.7M326.5 235.2h.7M345.8 238.8h.7M335.7 234.7h.7M335.2 243.7h.7M332.7 234.5h.7M332.9 243.5h.7M335.0 243.0h.7M334.7 233.5h.7M335.1 234.9h.7M338.8 235.8h.7M337.8 233.4h.7M337.7 233.2h.7M337.0 233.1h.7M344.1 241.8h.7M327.1 241.5h.7M340.8 242.5h.7M338.8 244.5h.7M331.7 227.4h.7M345.2 235.1h.7M336.2 238.7h.7" stroke="#111" stroke-width="0.9" opacity="0.9" fill="none"/>
<path d="M343.5 241.9h.7M326.5 245.6h.7M329.9 227.1h.7M341.8 240.1h.7M343.6 235.9h.7M337.9 234.6h.7M325.8 235.6h.7M336.9 237.7h.7M329.6 236.8h.7M337.2 228.3h.7M333.3 241.5h.7M345.8 231.1h.7M343.2 244.3h.7M342.1 230.3h.7M336.3 228.1h.7M340.8 245.6h.7M344.8 237.1h.7M340.0 242.4h.7M337.0 227.7h.7M339.7 223.8h.7M345.7 244.7h.7M336.0 224.1h.7M341.6 242.4h.7M329.9 226.0h.7M339.9 237.0h.7M344.2 225.5h.7M339.5 229.8h.7M331.5 228.7h.7M353.2 241.7h.7M333.6 227.2h.7M344.9 242.7h.7M348.4 245.3h.7M326.0 239.1h.7M344.3 230.4h.7M329.6 229.8h.7M325.1 241.8h.7M330.1 232.9h.7M346.5 227.6h.7M343.3 237.1h.7M336.5 240.2h.7M349.4 235.0h.7M350.1 232.0h.7M345.2 235.2h.7M339.3 240.9h.7M334.0 237.3h.7M342.3 236.3h.7M333.2 231.6h.7M329.3 223.4h.7M333.0 230.3h.7M346.2 215.8h.7M329.1 234.2h.7M341.0 235.5h.7M332.3 232.3h.7M341.8 234.3h.7M330.9 245.1h.7M345.9 230.2h.7M357.4 245.2h.7M344.1 235.2h.7M341.9 224.2h.7M354.0 226.7h.7M329.2 240.5h.7M338.5 225.4h.7M347.4 241.9h.7M339.1 229.0h.7M325.9 236.0h.7M349.2 245.7h.7M331.1 231.7h.7M332.6 245.6h.7M339.3 235.8h.7M354.6 241.2h.7M352.9 236.3h.7M334.5 221.9h.7M342.5 236.7h.7M335.9 238.6h.7M357.4 243.2h.7M342.7 232.6h.7M331.5 220.8h.7M337.9 227.3h.7M331.7 243.9h.7M359.7 238.7h.7M330.8 228.7h.7M350.8 231.2h.7M341.0 241.6h.7M349.7 240.3h.7M329.2 233.2h.7M329.1 234.4h.7M342.9 236.2h.7M344.9 217.3h.7M327.5 221.7h.7M332.3 242.2h.7M324.0 241.6h.7M340.8 228.7h.7M338.8 234.4h.7M346.0 233.6h.7M338.2 238.6h.7M341.4 238.6h.7M325.2 241.9h.7M329.3 225.2h.7M331.9 235.2h.7M332.0 237.2h.7M338.6 228.3h.7M335.5 236.9h.7M327.9 236.8h.7M343.9 223.3h.7M335.7 220.6h.7M335.8 245.5h.7M346.1 239.3h.7M334.9 224.1h.7M331.0 244.4h.7M332.8 242.6h.7M339.2 240.2h.7M340.2 234.0h.7M333.0 235.7h.7M331.5 242.3h.7M335.0 229.3h.7M331.9 240.9h.7M346.3 231.8h.7M332.9 233.8h.7M325.0 235.8h.7M335.0 229.3h.7M349.8 226.5h.7M343.5 230.8h.7M348.2 234.8h.7M352.1 237.8h.7M333.2 239.9h.7M338.3 241.0h.7M330.6 242.1h.7M342.3 232.5h.7M332.4 237.5h.7M348.8 234.4h.7M326.8 234.0h.7M342.2 228.4h.7M335.8 244.6h.7M343.5 234.9h.7M326.9 236.4h.7M354.9 238.4h.7M341.2 235.1h.7M333.5 241.2h.7M335.5 231.7h.7M341.8 242.2h.7M328.3 238.0h.7M336.6 239.9h.7M325.1 230.8h.7M337.0 239.1h.7M340.5 232.4h.7M336.2 241.8h.7M326.5 242.9h.7M330.6 233.4h.7M330.6 244.1h.7M349.3 238.8h.7M326.1 228.0h.7M344.9 238.1h.7M336.9 238.3h.7M331.7 231.5h.7M341.7 235.4h.7M329.2 238.6h.7M327.9 238.0h.7M348.7 232.3h.7M330.8 235.0h.7M341.0 238.4h.7M332.7 237.9h.7M353.6 235.6h.7M325.6 241.2h.7M352.4 239.6h.7M343.1 239.3h.7M325.0 227.8h.7M330.3 243.2h.7M333.3 231.5h.7M329.2 230.0h.7M350.2 243.1h.7M338.9 227.0h.7M343.6 225.3h.7M337.7 229.6h.7M335.6 239.1h.7M324.3 244.6h.7M330.5 244.4h.7M352.6 239.4h.7M348.0 239.8h.7M325.3 215.5h.7M336.4 232.8h.7M328.9 227.7h.7M326.7 230.6h.7M336.7 236.1h.7M333.2 236.6h.7M338.4 234.3h.7M342.6 235.2h.7M334.9 235.2h.7M352.1 241.2h.7M334.4 226.9h.7M342.3 236.5h.7M353.0 238.3h.7M330.5 223.8h.7M336.4 228.1h.7M346.5 235.3h.7M343.5 232.7h.7M342.0 230.7h.7M335.7 224.1h.7M349.4 238.0h.7M331.3 236.8h.7M333.7 228.2h.7M333.1 224.9h.7M342.5 238.4h.7M344.0 239.4h.7M345.6 226.0h.7M339.7 238.4h.7M338.4 227.1h.7M341.3 245.3h.7M355.1 227.6h.7M333.0 238.3h.7M358.7 232.1h.7M338.7 235.5h.7M331.3 221.1h.7M326.9 232.4h.7M340.4 245.5h.7M330.3 230.0h.7M342.4 234.3h.7M350.4 235.0h.7M335.2 240.1h.7M330.7 237.6h.7M345.4 224.7h.7M350.5 239.8h.7M328.5 232.4h.7M332.0 231.3h.7M334.0 229.8h.7M339.8 235.0h.7M332.4 243.4h.7M327.3 240.3h.7M342.6 232.7h.7M336.4 241.5h.7M339.1 232.1h.7M333.7 220.5h.7M347.1 231.9h.7M329.8 241.1h.7M337.8 232.4h.7M338.0 245.5h.7M343.1 229.5h.7M342.6 234.0h.7M353.4 242.9h.7M328.0 232.7h.7M335.0 238.5h.7M355.1 238.6h.7M347.2 239.3h.7M327.0 235.9h.7M338.7 230.9h.7M334.4 230.7h.7M330.5 237.6h.7M335.2 241.6h.7M343.3 240.1h.7M341.7 242.7h.7M339.5 235.7h.7M343.2 233.1h.7M334.2 224.0h.7M346.8 229.3h.7M337.4 234.8h.7M349.8 218.8h.7M346.0 237.0h.7M340.1 245.0h.7M340.0 232.7h.7M345.6 242.1h.7M342.6 244.9h.7M333.1 234.3h.7M334.8 237.6h.7M342.6 236.6h.7M331.0 236.2h.7M337.7 233.0h.7M336.0 238.3h.7M342.5 231.7h.7M355.7 235.3h.7M342.0 233.5h.7M333.8 230.2h.7M331.5 239.9h.7M334.8 230.7h.7M332.9 220.0h.7M350.4 243.3h.7M327.0 221.1h.7M334.7 226.6h.7M336.3 240.9h.7M349.8 235.1h.7M352.4 233.2h.7M352.8 238.8h.7M337.4 222.3h.7M330.3 229.3h.7M339.2 234.9h.7M338.3 235.8h.7M342.8 238.4h.7M329.6 234.4h.7M327.3 244.8h.7M330.3 230.7h.7M345.1 229.3h.7M331.6 234.5h.7M346.5 239.4h.7M325.5 241.7h.7M344.6 230.9h.7M325.0 239.1h.7M350.0 230.0h.7M334.5 239.0h.7M338.3 226.5h.7M343.0 234.1h.7M339.3 232.2h.7M348.7 230.0h.7M343.1 227.5h.7M338.0 244.5h.7M333.4 242.9h.7M346.8 228.3h.7M345.6 231.1h.7M332.7 240.3h.7M352.4 243.3h.7M345.8 233.3h.7M339.9 235.7h.7M331.4 238.0h.7M351.9 231.1h.7M345.8 233.9h.7M335.8 235.5h.7M330.0 227.6h.7M334.8 229.2h.7M331.8 237.0h.7M341.5 240.0h.7M330.6 229.4h.7M342.6 231.9h.7M326.4 225.4h.7M343.5 238.7h.7M325.2 243.7h.7M333.6 236.0h.7M341.4 242.6h.7M358.6 243.7h.7M336.2 225.9h.7M339.4 236.4h.7M331.3 240.0h.7M346.3 239.6h.7M330.7 228.6h.7M347.8 228.2h.7" stroke="#111" stroke-width="0.8" opacity="0.5" fill="none"/>
<ellipse cx="355.9" cy="227.2" rx="9.0" ry="5.0" fill="url(#g)" opacity="0.485" transform="rotate(-24 355.9 227.2)"/>
<ellipse cx="353.4" cy="228.1" rx="4.6" ry="3.6" fill="url(#h)" opacity="0.5875"/>
<ellipse cx="362.0" cy="224.7" rx="3.4" ry="3.0" fill="url(#h)" opacity="0.6975" transform="rotate(-30 362.0 224.7)"/>
<path d="M357.4 226.7h.7M355.1 227.3h.7M353.6 230.2h.7M355.9 227.7h.7M360.8 228.1h.7M351.5 229.0h.7M356.7 226.1h.7M352.9 229.2h.7M355.7 226.7h.7M349.8 226.8h.7M356.2 224.2h.7M360.8 225.4h.7M353.9 227.3h.7M360.8 228.0h.7M351.2 227.2h.7M354.1 225.5h.7M357.9 224.8h.7M349.8 229.3h.7M351.4 223.8h.7M357.6 227.1h.7M350.8 229.7h.7M352.5 228.1h.7M355.4 226.8h.7M360.7 222.7h.7M353.4 228.5h.7M355.5 225.3h.7M359.9 225.4h.7M357.0 227.5h.7M358.2 225.0h.7M353.0 228.9h.7M353.8 230.6h.7M351.6 227.3h.7M355.2 229.2h.7M345.1 232.1h.7M355.5 227.8h.7M349.7 228.7h.7M357.8 229.4h.7M356.5 230.1h.7M358.0 224.9h.7M357.1 228.2h.7M355.2 228.2h.7M358.4 227.6h.7M351.0 231.8h.7M352.2 227.3h.7M350.6 229.3h.7M355.5 226.8h.7M350.2 228.6h.7M360.3 224.8h.7M356.7 226.3h.7M357.9 226.0h.7M352.6 223.5h.7M352.9 228.8h.7M358.9 226.0h.7M352.1 229.2h.7M357.7 227.2h.7M353.3 231.3h.7M362.4 230.1h.7M358.8 228.8h.7M355.2 227.0h.7M353.4 226.3h.7M353.6 229.7h.7M356.8 226.1h.7M357.9 226.3h.7M354.2 228.7h.7M350.7 227.7h.7M358.3 225.9h.7M356.2 230.4h.7M364.0 224.0h.7M359.5 223.6h.7M354.4 226.0h.7M356.6 225.2h.7M347.9 231.5h.7M364.8 223.6h.7M353.3 227.0h.7M357.8 229.0h.7M356.7 226.6h.7M359.8 223.8h.7M354.4 228.4h.7M357.7 229.0h.7M352.1 227.4h.7M347.4 235.2h.7M356.4 226.9h.7M358.4 228.3h.7M355.2 229.8h.7M353.0 228.9h.7M354.4 228.6h.7M358.9 226.9h.7M355.5 227.4h.7M359.0 226.8h.7M356.0 227.2h.7M354.1 228.1h.7M352.2 227.0h.7M353.5 227.2h.7M355.3 231.4h.7M359.8 222.6h.7M351.5 227.0h.7M351.1 230.9h.7M355.0 227.5h.7M348.8 232.4h.7" stroke="#111" stroke-width="0.8" opacity="0.8" fill="none"/>
<path d="M362.9 224.2h.7M362.7 226.0h.7M361.5 224.7h.7M360.5 224.1h.7M363.0 226.8h.7M361.2 225.5h.7M361.5 225.8h.7M361.9 222.5h.7M363.8 225.5h.7M363.2 224.9h.7M362.4 223.8h.7M361.4 223.7h.7M358.8 225.5h.7M361.2 223.5h.7M359.4 226.6h.7M360.1 224.8h.7M361.8 224.6h.7M362.6 225.1h.7M359.9 226.9h.7M362.6 226.6h.7M363.1 225.4h.7M361.1 226.6h.7M360.6 223.5h.7M362.1 223.6h.7M362.1 224.1h.7M360.5 224.7h.7M362.4 224.5h.7M361.1 226.2h.7M363.1 225.9h.7M362.4 225.0h.7M361.1 224.7h.7M361.7 225.2h.7M362.7 225.3h.7M363.6 224.3h.7M362.1 226.7h.7M363.4 223.8h.7M360.4 226.7h.7M362.1 223.7h.7M362.7 225.1h.7M360.2 226.0h.7M361.8 223.9h.7M361.1 225.8h.7" stroke="#111" stroke-width="0.8" opacity="0.9" fill="none"/>
<path d="M346.9 235.8h.7M362.2 240.9h.7M349.8 235.2h.7M348.7 241.7h.7M342.6 238.3h.7M341.7 237.0h.7M344.0 236.6h.7M348.8 240.4h.7M354.9 240.5h.7M348.5 236.9h.7M356.2 240.3h.7M360.8 236.3h.7M351.5 239.0h.7M357.6 240.7h.7M350.6 239.6h.7M355.7 241.8h.7M354.3 245.6h.7M346.4 233.8h.7M350.9 238.6h.7M356.4 234.1h.7M353.7 233.3h.7M353.7 234.6h.7M352.2 236.8h.7M356.4 232.2h.7M355.1 237.9h.7M365.8 238.5h.7M345.4 238.2h.7M353.4 245.4h.7M358.9 238.7h.7M354.7 235.5h.7M348.8 235.8h.7M356.0 239.4h.7M360.8 243.2h.7M354.9 238.4h.7M351.3 241.0h.7M354.5 237.3h.7M351.0 240.1h.7M346.7 240.9h.7M350.2 235.7h.7M346.0 239.8h.7M353.6 240.5h.7M362.7 241.7h.7M348.2 237.1h.7M355.8 235.0h.7M345.5 241.5h.7M352.0 238.5h.7M351.2 242.1h.7M350.4 235.6h.7M352.5 235.7h.7M351.1 238.6h.7M352.3 234.9h.7M357.9 236.0h.7M347.0 237.0h.7M365.7 242.5h.7M358.9 240.4h.7M352.8 237.0h.7M353.4 245.6h.7M365.4 241.7h.7M362.1 239.1h.7M349.1 235.3h.7M346.8 235.3h.7M349.7 236.8h.7M348.8 239.7h.7M346.1 240.1h.7M354.4 240.8h.7M354.5 240.6h.7M353.0 236.1h.7M364.2 240.7h.7M350.1 241.0h.7M346.4 241.6h.7M352.9 239.5h.7M359.6 238.8h.7M359.3 237.4h.7M342.0 239.4h.7M363.2 240.9h.7M355.4 234.0h.7M332.6 236.2h.7M352.0 239.0h.7M352.6 238.5h.7M356.4 240.8h.7M360.2 237.4h.7M342.0 242.2h.7M352.0 237.7h.7M357.6 239.5h.7M349.6 240.8h.7M352.7 236.2h.7M351.7 236.5h.7M351.1 239.2h.7M369.3 234.0h.7M349.2 239.9h.7M358.5 237.8h.7M337.7 234.7h.7M352.1 235.4h.7M345.9 237.5h.7M356.3 243.3h.7M355.4 239.3h.7M352.7 238.9h.7M353.6 240.3h.7M341.3 238.3h.7M364.9 235.6h.7M343.9 233.5h.7M352.5 245.5h.7M361.8 239.7h.7M357.1 243.5h.7M356.0 237.3h.7M355.4 237.1h.7M356.7 239.9h.7M361.9 234.6h.7M345.1 240.8h.7M346.9 240.7h.7M360.2 232.3h.7M357.5 242.5h.7M345.3 241.9h.7M357.3 240.8h.7M350.9 231.0h.7M359.9 236.7h.7M350.6 233.2h.7M351.2 236.8h.7M355.5 236.8h.7M350.7 236.2h.7M358.4 239.8h.7M362.0 233.9h.7M351.7 241.5h.7M358.0 241.1h.7M345.8 242.1h.7M346.9 240.5h.7M353.6 235.9h.7M342.8 235.9h.7M346.5 238.6h.7M350.8 238.7h.7M351.9 234.5h.7M365.5 237.6h.7M355.2 240.8h.7M361.8 244.2h.7M350.2 242.0h.7M353.5 239.0h.7M360.1 233.4h.7M349.7 236.8h.7M362.3 231.9h.7M342.1 234.7h.7M358.7 239.3h.7M363.8 235.6h.7M348.9 239.3h.7M347.4 239.0h.7M351.5 233.5h.7M361.9 242.5h.7M352.3 234.2h.7M362.2 231.6h.7M357.8 238.5h.7M347.9 235.3h.7M359.1 235.4h.7M363.8 239.4h.7M361.4 240.3h.7M355.7 245.7h.7M354.7 238.6h.7M347.2 237.2h.7M356.1 233.0h.7M350.4 234.8h.7M353.0 234.6h.7M359.1 238.3h.7M348.0 236.8h.7M350.6 239.1h.7M355.9 238.8h.7M356.2 235.6h.7M359.3 235.4h.7M354.3 241.2h.7" stroke="#111" stroke-width="0.8" opacity="0.5" fill="none"/>
<ellipse cx="354.0" cy="238.6" rx="10.0" ry="5.5" fill="url(#g)" opacity="0.35"/>
</g></g>
<rect x="323.3" y="198.7" width="57.4" height="47.7" fill="none" stroke="#111" stroke-width="1.2"/>
<rect x="346.5" y="220.3" width="19.5" height="12.7" fill="none" stroke="#111" stroke-width="0.9"/>
<text x="330.3" y="208.5" font-size="7.8" text-anchor="start" textLength="27.8" lengthAdjust="spacingAndGlyphs">Wip1KO</text>
<text x="350.8" y="216.8" font-size="7.6" text-anchor="start">6.54</text>
<path d="M317.3 167.7L317.3 218.8" stroke="#111" stroke-width="0.9" fill="none"/>
<path d="M314.3 171.2L317.3 167.7L320.3 171.2" stroke="#111" stroke-width="0.9" fill="none"/>
<text x="316.4" y="246.4" font-size="7.6" text-anchor="start" transform="rotate(-90 316.4 246.4)">CD19</text>
<text x="327.0" y="256.4" font-size="7.8" text-anchor="start">B220</text>
<path d="M348.0 252.5L371.0 252.5" stroke="#111" stroke-width="0.9" fill="none"/>
<path d="M367.5 249.5L371.0 252.5L367.5 255.5" stroke="#111" stroke-width="0.9" fill="none"/>
<path d="M410.2 155.6L410.2 240.8" stroke="#111" stroke-width="1.1" fill="none"/>
<path d="M407.6 240.3L410.2 240.3" stroke="#111" stroke-width="0.9" fill="none"/>
<text x="407.3" y="240.3" font-size="4.5" text-anchor="middle" font-weight="bold" transform="rotate(-90 407.3 240.3)">0</text>
<path d="M407.6 223.3L410.2 223.3" stroke="#111" stroke-width="0.9" fill="none"/>
<text x="407.3" y="223.3" font-size="4.5" text-anchor="middle" font-weight="bold" transform="rotate(-90 407.3 223.3)">5</text>
<path d="M407.6 206.3L410.2 206.3" stroke="#111" stroke-width="0.9" fill="none"/>
<text x="407.3" y="206.3" font-size="4.5" text-anchor="middle" font-weight="bold" transform="rotate(-90 407.3 206.3)">10</text>
<path d="M407.6 189.3L410.2 189.3" stroke="#111" stroke-width="0.9" fill="none"/>
<text x="407.3" y="189.3" font-size="4.5" text-anchor="middle" font-weight="bold" transform="rotate(-90 407.3 189.3)">15</text>
<path d="M407.6 172.3L410.2 172.3" stroke="#111" stroke-width="0.9" fill="none"/>
<text x="407.3" y="172.3" font-size="4.5" text-anchor="middle" font-weight="bold" transform="rotate(-90 407.3 172.3)">20</text>
<path d="M407.6 155.3L410.2 155.3" stroke="#111" stroke-width="0.9" fill="none"/>
<text x="407.3" y="155.3" font-size="4.5" text-anchor="middle" font-weight="bold" transform="rotate(-90 407.3 155.3)">25</text>
<path d="M408.0 240.3L450.8 240.3" stroke="#111" stroke-width="1.1" fill="none"/>
<path d="M420.3 240.3L420.3 242.3" stroke="#111" stroke-width="0.9" fill="none"/>
<path d="M440.2 240.3L440.2 242.3" stroke="#111" stroke-width="0.9" fill="none"/>
<path d="M420.5 173.3L420.5 178.4" stroke="#111" stroke-width="0.9" fill="none"/>
<path d="M417.2 173.3L423.8 173.3" stroke="#111" stroke-width="0.9" fill="none"/>
<rect x="413.6" y="178.4" width="13.7" height="61.9" fill="#0a0a0a" stroke="none" stroke-width="0"/>
<path d="M440.4 212.0L440.4 214.8" stroke="#111" stroke-width="0.9" fill="none"/>
<path d="M436.9 212.0L443.9 212.0" stroke="#111" stroke-width="0.9" fill="none"/>
<rect x="433.5" y="214.8" width="13.7" height="25.5" fill="#0a0a0a" stroke="none" stroke-width="0"/>
<text x="439.8" y="210.1" font-size="6.5" text-anchor="middle" font-weight="bold">***</text>
<text x="397.3" y="200.9" font-size="7.6" text-anchor="middle" transform="rotate(-90 397.3 200.9)" textLength="70.5" lengthAdjust="spacingAndGlyphs">% of B cells in BMCs</text>
<text x="420.2" y="248.6" font-size="6.2" text-anchor="middle" font-weight="bold" textLength="6.2" lengthAdjust="spacingAndGlyphs">WT</text>
<text x="440.2" y="248.6" font-size="6.2" text-anchor="middle" font-weight="bold" textLength="15.8" lengthAdjust="spacingAndGlyphs">Wip1 KO</text>
<path d="M480.3 154.9L480.3 240.7" stroke="#111" stroke-width="1.1" fill="none"/>
<path d="M477.8 240.2L480.3 240.2" stroke="#111" stroke-width="0.9" fill="none"/>
<text x="477.0" y="240.2" font-size="4.5" text-anchor="middle" font-weight="bold" transform="rotate(-90 477.0 240.2)">0</text>
<path d="M477.8 223.2L480.3 223.2" stroke="#111" stroke-width="0.9" fill="none"/>
<text x="477.0" y="223.2" font-size="4.5" text-anchor="middle" font-weight="bold" transform="rotate(-90 477.0 223.2)">2</text>
<path d="M477.8 206.1L480.3 206.1" stroke="#111" stroke-width="0.9" fill="none"/>
<text x="477.0" y="206.1" font-size="4.5" text-anchor="middle" font-weight="bold" transform="rotate(-90 477.0 206.1)">4</text>
<path d="M477.8 189.1L480.3 189.1" stroke="#111" stroke-width="0.9" fill="none"/>
<text x="477.0" y="189.1" font-size="4.5" text-anchor="middle" font-weight="bold" transform="rotate(-90 477.0 189.1)">6</text>
<path d="M477.8 172.0L480.3 172.0" stroke="#111" stroke-width="0.9" fill="none"/>
<text x="477.0" y="172.0" font-size="4.5" text-anchor="middle" font-weight="bold" transform="rotate(-90 477.0 172.0)">8</text>
<path d="M477.8 155.0L480.3 155.0" stroke="#111" stroke-width="0.9" fill="none"/>
<text x="477.0" y="155.0" font-size="4.5" text-anchor="middle" font-weight="bold" transform="rotate(-90 477.0 155.0)">10</text>
<path d="M478.0 240.2L520.0 240.2" stroke="#111" stroke-width="1.1" fill="none"/>
<path d="M489.7 240.2L489.7 242.2" stroke="#111" stroke-width="0.9" fill="none"/>
<path d="M509.8 240.2L509.8 242.2" stroke="#111" stroke-width="0.9" fill="none"/>
<path d="M489.8 160.4L489.8 165.2" stroke="#111" stroke-width="0.9" fill="none"/>
<path d="M486.1 160.4L493.4 160.4" stroke="#111" stroke-width="0.9" fill="none"/>
<rect x="482.9" y="165.2" width="13.8" height="75.0" fill="#0a0a0a" stroke="none" stroke-width="0"/>
<path d="M509.9 213.5L509.9 215.9" stroke="#111" stroke-width="0.9" fill="none"/>
<path d="M506.2 213.5L513.5 213.5" stroke="#111" stroke-width="0.9" fill="none"/>
<rect x="503.1" y="215.9" width="13.5" height="24.3" fill="#0a0a0a" stroke="none" stroke-width="0"/>
<text x="509.5" y="212.4" font-size="6.5" text-anchor="middle" font-weight="bold">***</text>
<text x="469.5" y="243.1" font-size="7.6" text-anchor="start" transform="rotate(-90 469.5 243.1)" textLength="72.6" lengthAdjust="spacingAndGlyphs">No. of B cells in BMCs</text>
<text x="469.5" y="168.2" font-size="7.6" text-anchor="start" transform="rotate(-90 469.5 168.2)" textLength="26.6" lengthAdjust="spacing">(×10<tspan font-size="4.6" dy="-2.5">6</tspan><tspan dy="2.5">)</tspan></text>
<text x="489.5" y="248.5" font-size="6.2" text-anchor="middle" font-weight="bold" textLength="6.2" lengthAdjust="spacingAndGlyphs">WT</text>
<text x="509.7" y="248.5" font-size="6.2" text-anchor="middle" font-weight="bold" textLength="16.8" lengthAdjust="spacingAndGlyphs">Wip1 KO</text>
<text x="25.0" y="288.8" font-size="7.8" text-anchor="start" textLength="31.0" lengthAdjust="spacingAndGlyphs">WT mice</text>
<text x="24.3" y="299.0" font-size="7.8" text-anchor="start" textLength="32.7" lengthAdjust="spacingAndGlyphs">CD45.1/2</text>
<text x="65.6" y="289.4" font-size="7.8" text-anchor="start" textLength="47.5" lengthAdjust="spacingAndGlyphs">Wip1KO mice</text>
<text x="77.2" y="300.2" font-size="7.8" text-anchor="start" textLength="26.0" lengthAdjust="spacingAndGlyphs">CD45.2</text>
<text x="54.7" y="308.5" font-size="7.8" text-anchor="start" textLength="11.6" lengthAdjust="spacingAndGlyphs">and</text>
<path d="M14.8 311.3L52.9 311.3" stroke="#111" stroke-width="2.2" fill="none"/>
<path d="M25.6 311.1L35.0 301.0L51.6 311.1Z" fill="#d2d2d2" stroke="#0a0a0a" stroke-width="2.3" stroke-linejoin="miter"/>
<circle cx="44.6" cy="309.5" r="0.95" fill="#fff" stroke="#111" stroke-width="0.55"/>
<path d="M67.7 311.3L103.9 311.3" stroke="#111" stroke-width="2.2" fill="none"/>
<path d="M79.5 311.1L88.9 301.2L103.5 311.1Z" fill="#0a0a0a" stroke="#0a0a0a" stroke-width="2.3" stroke-linejoin="miter"/>
<circle cx="97.3" cy="309.5" r="0.95" fill="#fff" stroke="#111" stroke-width="0"/>
<path d="M18.0 315.9L112.0 315.9" stroke="#111" stroke-width="1.4" fill="none"/>
<text x="23.8" y="326.0" font-size="7.8" text-anchor="start" font-weight="bold" textLength="21.6" lengthAdjust="spacingAndGlyphs">Donor</text>
<path d="M55.7 316.0H61.1V327.0H65.1L58.4 337.6L51.7 327.0H55.7Z" fill="#0a0a0a"/>
<circle cx="66.6" cy="319.9" r="1.3" fill="#fff" stroke="#444" stroke-width="0.75"/>
<circle cx="69.3" cy="319.6" r="1.3" fill="#fff" stroke="#444" stroke-width="0.75"/>
<circle cx="72.0" cy="320.1" r="1.3" fill="#fff" stroke="#444" stroke-width="0.75"/>
<circle cx="65.2" cy="322.5" r="1.3" fill="#fff" stroke="#444" stroke-width="0.75"/>
<circle cx="68.0" cy="322.3" r="1.3" fill="#fff" stroke="#444" stroke-width="0.75"/>
<circle cx="70.7" cy="322.5" r="1.3" fill="#fff" stroke="#444" stroke-width="0.75"/>
<circle cx="73.3" cy="322.7" r="1.3" fill="#fff" stroke="#444" stroke-width="0.75"/>
<circle cx="66.6" cy="325.1" r="1.3" fill="#fff" stroke="#444" stroke-width="0.75"/>
<circle cx="69.3" cy="325.0" r="1.3" fill="#fff" stroke="#444" stroke-width="0.75"/>
<circle cx="72.0" cy="325.2" r="1.3" fill="#fff" stroke="#444" stroke-width="0.75"/>
<circle cx="68.0" cy="327.6" r="1.3" fill="#fff" stroke="#444" stroke-width="0.75"/>
<circle cx="70.6" cy="327.6" r="1.3" fill="#fff" stroke="#444" stroke-width="0.75"/>
<text x="80.5" y="328.9" font-size="7.6" text-anchor="start">5X10<tspan font-size="4.6" dy="-2.6">6</tspan></text>
<text x="80.4" y="338.7" font-size="7.8" text-anchor="start" textLength="20.2" lengthAdjust="spacingAndGlyphs">BMCs</text>
<text x="80.4" y="348.2" font-size="7.8" text-anchor="start" textLength="16.0" lengthAdjust="spacingAndGlyphs">(1:1)</text>
<text x="44.8" y="342.8" font-size="7.8" text-anchor="start" textLength="29.8" lengthAdjust="spacingAndGlyphs">WT mice</text>
<text x="46.9" y="351.9" font-size="7.8" text-anchor="start" textLength="26.0" lengthAdjust="spacingAndGlyphs">CD45.1</text>
<text x="11.0" y="357.6" font-size="7.8" text-anchor="start" font-weight="bold" textLength="37.2" lengthAdjust="spacingAndGlyphs">Recipients</text>
<path d="M34.9 362.7L73.6 362.7" stroke="#111" stroke-width="2.2" fill="none"/>
<path d="M47.8 362.5L56.0 352.5L72.8 362.5Z" fill="#fff" stroke="#0a0a0a" stroke-width="2.3" stroke-linejoin="miter"/>
<circle cx="67.3" cy="360.9" r="0.95" fill="#fff" stroke="#111" stroke-width="0.55"/>
<path d="M55.7 363.0H61.1V368.8H65.1L58.4 377.8L51.7 368.8H55.7Z" fill="#0a0a0a"/>
<text x="33.8" y="386.7" font-size="7.8" text-anchor="start" textLength="53.0" lengthAdjust="spacingAndGlyphs">FACS  Analysis</text>
<path d="M152.4 289.3L152.4 376.0" stroke="#111" stroke-width="1.15" fill="none"/>
<path d="M149.9 376.0L152.4 376.0" stroke="#111" stroke-width="1.15" fill="none"/>
<text x="145.3" y="378.8" font-size="7.8" text-anchor="end">0</text>
<path d="M149.9 361.6L152.4 361.6" stroke="#111" stroke-width="1.15" fill="none"/>
<text x="145.3" y="364.4" font-size="7.8" text-anchor="end">10</text>
<path d="M149.9 347.1L152.4 347.1" stroke="#111" stroke-width="1.15" fill="none"/>
<text x="145.3" y="349.9" font-size="7.8" text-anchor="end">20</text>
<path d="M149.9 332.7L152.4 332.7" stroke="#111" stroke-width="1.15" fill="none"/>
<text x="145.3" y="335.5" font-size="7.8" text-anchor="end">30</text>
<path d="M149.9 318.3L152.4 318.3" stroke="#111" stroke-width="1.15" fill="none"/>
<text x="145.3" y="321.1" font-size="7.8" text-anchor="end">40</text>
<path d="M149.9 303.9L152.4 303.9" stroke="#111" stroke-width="1.15" fill="none"/>
<text x="145.3" y="306.7" font-size="7.8" text-anchor="end">50</text>
<path d="M149.9 289.4L152.4 289.4" stroke="#111" stroke-width="1.15" fill="none"/>
<text x="145.3" y="292.2" font-size="7.8" text-anchor="end">60</text>
<path d="M152.4 376.0L225.6 376.0" stroke="#111" stroke-width="1.15" fill="none"/>
<path d="M152.4 376.0L152.4 378.5" stroke="#111" stroke-width="1.15" fill="none"/>
<path d="M188.9 376.0L188.9 378.5" stroke="#111" stroke-width="1.15" fill="none"/>
<path d="M225.6 376.0L225.6 378.5" stroke="#111" stroke-width="1.15" fill="none"/>
<text x="132.5" y="340.0" font-size="7.8" text-anchor="middle" transform="rotate(-90 132.5 340.0)" textLength="69.5" lengthAdjust="spacingAndGlyphs">% of B cells in blood</text>
<text x="170.7" y="387.7" font-size="7.8" text-anchor="middle">WT</text>
<text x="207.6" y="387.7" font-size="7.8" text-anchor="middle" textLength="28.8" lengthAdjust="spacingAndGlyphs">Wip1KO</text>
<path d="M170.7 303.0L170.7 315.0" stroke="#111" stroke-width="0.9" fill="none"/>
<path d="M168.2 303.0L173.1 303.0" stroke="#111" stroke-width="0.9" fill="none"/>
<rect x="163.1" y="315.8" width="15.1" height="60.2" fill="#fff" stroke="#111" stroke-width="1.6"/>
<path d="M207.7 321.2L207.7 336.0" stroke="#111" stroke-width="0.9" fill="none"/>
<path d="M205.2 321.2L210.2 321.2" stroke="#111" stroke-width="0.9" fill="none"/>
<rect x="200.2" y="336.0" width="15.0" height="40.0" fill="#0a0a0a" stroke="none" stroke-width="0"/>
<text x="207.8" y="320.5" font-size="6.5" text-anchor="middle" font-weight="bold">**</text>
<path d="M264.8 291.9L264.8 377.9" stroke="#111" stroke-width="1.15" fill="none"/>
<path d="M262.3 377.9L264.8 377.9" stroke="#111" stroke-width="1.15" fill="none"/>
<text x="257.5" y="380.7" font-size="7.7" text-anchor="end">0</text>
<path d="M262.3 365.6L264.8 365.6" stroke="#111" stroke-width="1.15" fill="none"/>
<text x="257.5" y="368.4" font-size="7.7" text-anchor="end">10</text>
<path d="M262.3 353.3L264.8 353.3" stroke="#111" stroke-width="1.15" fill="none"/>
<text x="257.5" y="356.1" font-size="7.7" text-anchor="end">20</text>
<path d="M262.3 341.1L264.8 341.1" stroke="#111" stroke-width="1.15" fill="none"/>
<text x="257.5" y="343.8" font-size="7.7" text-anchor="end">30</text>
<path d="M262.3 328.8L264.8 328.8" stroke="#111" stroke-width="1.15" fill="none"/>
<text x="257.5" y="331.6" font-size="7.7" text-anchor="end">40</text>
<path d="M262.3 316.5L264.8 316.5" stroke="#111" stroke-width="1.15" fill="none"/>
<text x="257.5" y="319.3" font-size="7.7" text-anchor="end">50</text>
<path d="M262.3 304.2L264.8 304.2" stroke="#111" stroke-width="1.15" fill="none"/>
<text x="257.5" y="307.0" font-size="7.7" text-anchor="end">60</text>
<path d="M262.3 291.9L264.8 291.9" stroke="#111" stroke-width="1.15" fill="none"/>
<text x="257.5" y="294.7" font-size="7.7" text-anchor="end">70</text>
<path d="M264.8 377.9L402.6 377.9" stroke="#111" stroke-width="1.15" fill="none"/>
<path d="M264.8 377.9L264.8 380.4" stroke="#111" stroke-width="1.15" fill="none"/>
<path d="M310.5 377.9L310.5 380.4" stroke="#111" stroke-width="1.15" fill="none"/>
<path d="M356.5 377.9L356.5 380.4" stroke="#111" stroke-width="1.15" fill="none"/>
<path d="M402.6 377.9L402.6 380.4" stroke="#111" stroke-width="1.15" fill="none"/>
<text x="241.7" y="333.0" font-size="7.6" text-anchor="middle" transform="rotate(-90 241.7 333.0)" textLength="40.0" lengthAdjust="spacingAndGlyphs">% of B cells</text>
<text x="287.3" y="390.3" font-size="7.6" text-anchor="middle">SPL</text>
<text x="332.4" y="390.3" font-size="7.6" text-anchor="middle">pLN</text>
<text x="377.7" y="390.3" font-size="7.6" text-anchor="middle">mLN</text>
<path d="M280.3 307.3L280.3 313.4" stroke="#111" stroke-width="0.9" fill="none"/>
<path d="M277.8 307.3L282.8 307.3" stroke="#111" stroke-width="0.9" fill="none"/>
<rect x="273.6" y="314.1" width="13.4" height="63.8" fill="#fff" stroke="#111" stroke-width="1.4"/>
<path d="M294.2 321.6L294.2 328.4" stroke="#111" stroke-width="0.9" fill="none"/>
<path d="M291.8 321.6L296.8 321.6" stroke="#111" stroke-width="0.9" fill="none"/>
<rect x="287.7" y="328.4" width="13.1" height="49.5" fill="#0a0a0a" stroke="none" stroke-width="0"/>
<path d="M326.0 323.3L326.0 332.1" stroke="#111" stroke-width="0.9" fill="none"/>
<path d="M323.5 323.3L328.5 323.3" stroke="#111" stroke-width="0.9" fill="none"/>
<rect x="319.7" y="332.8" width="12.6" height="45.1" fill="#fff" stroke="#111" stroke-width="1.4"/>
<path d="M339.4 348.6L339.4 354.8" stroke="#111" stroke-width="0.9" fill="none"/>
<path d="M336.9 348.6L341.9 348.6" stroke="#111" stroke-width="0.9" fill="none"/>
<rect x="333.0" y="354.8" width="12.9" height="23.1" fill="#0a0a0a" stroke="none" stroke-width="0"/>
<path d="M371.5 322.4L371.5 332.7" stroke="#111" stroke-width="0.9" fill="none"/>
<path d="M369.0 322.4L374.0 322.4" stroke="#111" stroke-width="0.9" fill="none"/>
<rect x="365.3" y="333.4" width="12.4" height="44.5" fill="#fff" stroke="#111" stroke-width="1.4"/>
<path d="M384.5 345.8L384.5 354.8" stroke="#111" stroke-width="0.9" fill="none"/>
<path d="M382.0 345.8L387.0 345.8" stroke="#111" stroke-width="0.9" fill="none"/>
<rect x="378.4" y="354.8" width="12.3" height="23.1" fill="#0a0a0a" stroke="none" stroke-width="0"/>
<text x="294.7" y="323.7" font-size="6.5" text-anchor="middle" font-weight="bold">*</text>
<text x="339.6" y="349.0" font-size="6.5" text-anchor="middle" font-weight="bold">**</text>
<text x="384.1" y="344.7" font-size="6.5" text-anchor="middle" font-weight="bold">**</text>
<rect x="313.5" y="292.6" width="3.8" height="3.8" fill="#fff" stroke="#111" stroke-width="1.4"/>
<text x="318.5" y="297.0" font-size="7.9" text-anchor="start">WT</text>
<rect x="313.1" y="307.0" width="4.7" height="4.6" fill="#0a0a0a" stroke="none" stroke-width="1"/>
<text x="319.2" y="311.8" font-size="7.8" text-anchor="start" textLength="28.0" lengthAdjust="spacingAndGlyphs">Wip1KO</text>
<path d="M436.4 291.6L436.4 378.3" stroke="#111" stroke-width="1.15" fill="none"/>
<path d="M433.9 378.3L436.4 378.3" stroke="#111" stroke-width="1.15" fill="none"/>
<text x="429.2" y="381.1" font-size="7.7" text-anchor="end">0</text>
<path d="M433.9 360.9L436.4 360.9" stroke="#111" stroke-width="1.15" fill="none"/>
<text x="429.2" y="363.7" font-size="7.7" text-anchor="end">5</text>
<path d="M433.9 343.6L436.4 343.6" stroke="#111" stroke-width="1.15" fill="none"/>
<text x="429.2" y="346.4" font-size="7.7" text-anchor="end">10</text>
<path d="M433.9 326.2L436.4 326.2" stroke="#111" stroke-width="1.15" fill="none"/>
<text x="429.2" y="329.0" font-size="7.7" text-anchor="end">15</text>
<path d="M433.9 308.9L436.4 308.9" stroke="#111" stroke-width="1.15" fill="none"/>
<text x="429.2" y="311.7" font-size="7.7" text-anchor="end">20</text>
<path d="M433.9 291.6L436.4 291.6" stroke="#111" stroke-width="1.15" fill="none"/>
<text x="429.2" y="294.3" font-size="7.7" text-anchor="end">25</text>
<path d="M436.4 378.3L509.0 378.3" stroke="#111" stroke-width="1.15" fill="none"/>
<path d="M436.4 378.3L436.4 380.8" stroke="#111" stroke-width="1.15" fill="none"/>
<path d="M472.5 378.3L472.5 380.8" stroke="#111" stroke-width="1.15" fill="none"/>
<path d="M509.0 378.3L509.0 380.8" stroke="#111" stroke-width="1.15" fill="none"/>
<text x="415.7" y="341.4" font-size="7.6" text-anchor="middle" transform="rotate(-90 415.7 341.4)" textLength="71.5" lengthAdjust="spacingAndGlyphs">% of  B cells in BMCs</text>
<text x="454.5" y="389.8" font-size="7.8" text-anchor="middle">WT</text>
<text x="490.8" y="389.8" font-size="7.6" text-anchor="middle" textLength="30.0" lengthAdjust="spacingAndGlyphs">Wip1KO</text>
<path d="M454.3 309.4L454.3 326.9" stroke="#111" stroke-width="0.9" fill="none"/>
<path d="M451.8 309.4L456.8 309.4" stroke="#111" stroke-width="0.9" fill="none"/>
<rect x="447.4" y="327.7" width="13.8" height="50.6" fill="#fff" stroke="#111" stroke-width="1.6"/>
<path d="M490.6 346.0L490.6 356.8" stroke="#111" stroke-width="0.9" fill="none"/>
<path d="M488.1 346.0L493.1 346.0" stroke="#111" stroke-width="0.9" fill="none"/>
<rect x="483.1" y="356.8" width="14.9" height="21.5" fill="#0a0a0a" stroke="none" stroke-width="0"/>
<text x="488.0" y="345.1" font-size="6.5" text-anchor="middle" font-weight="bold">**</text>
</g>
</svg></body></html>
